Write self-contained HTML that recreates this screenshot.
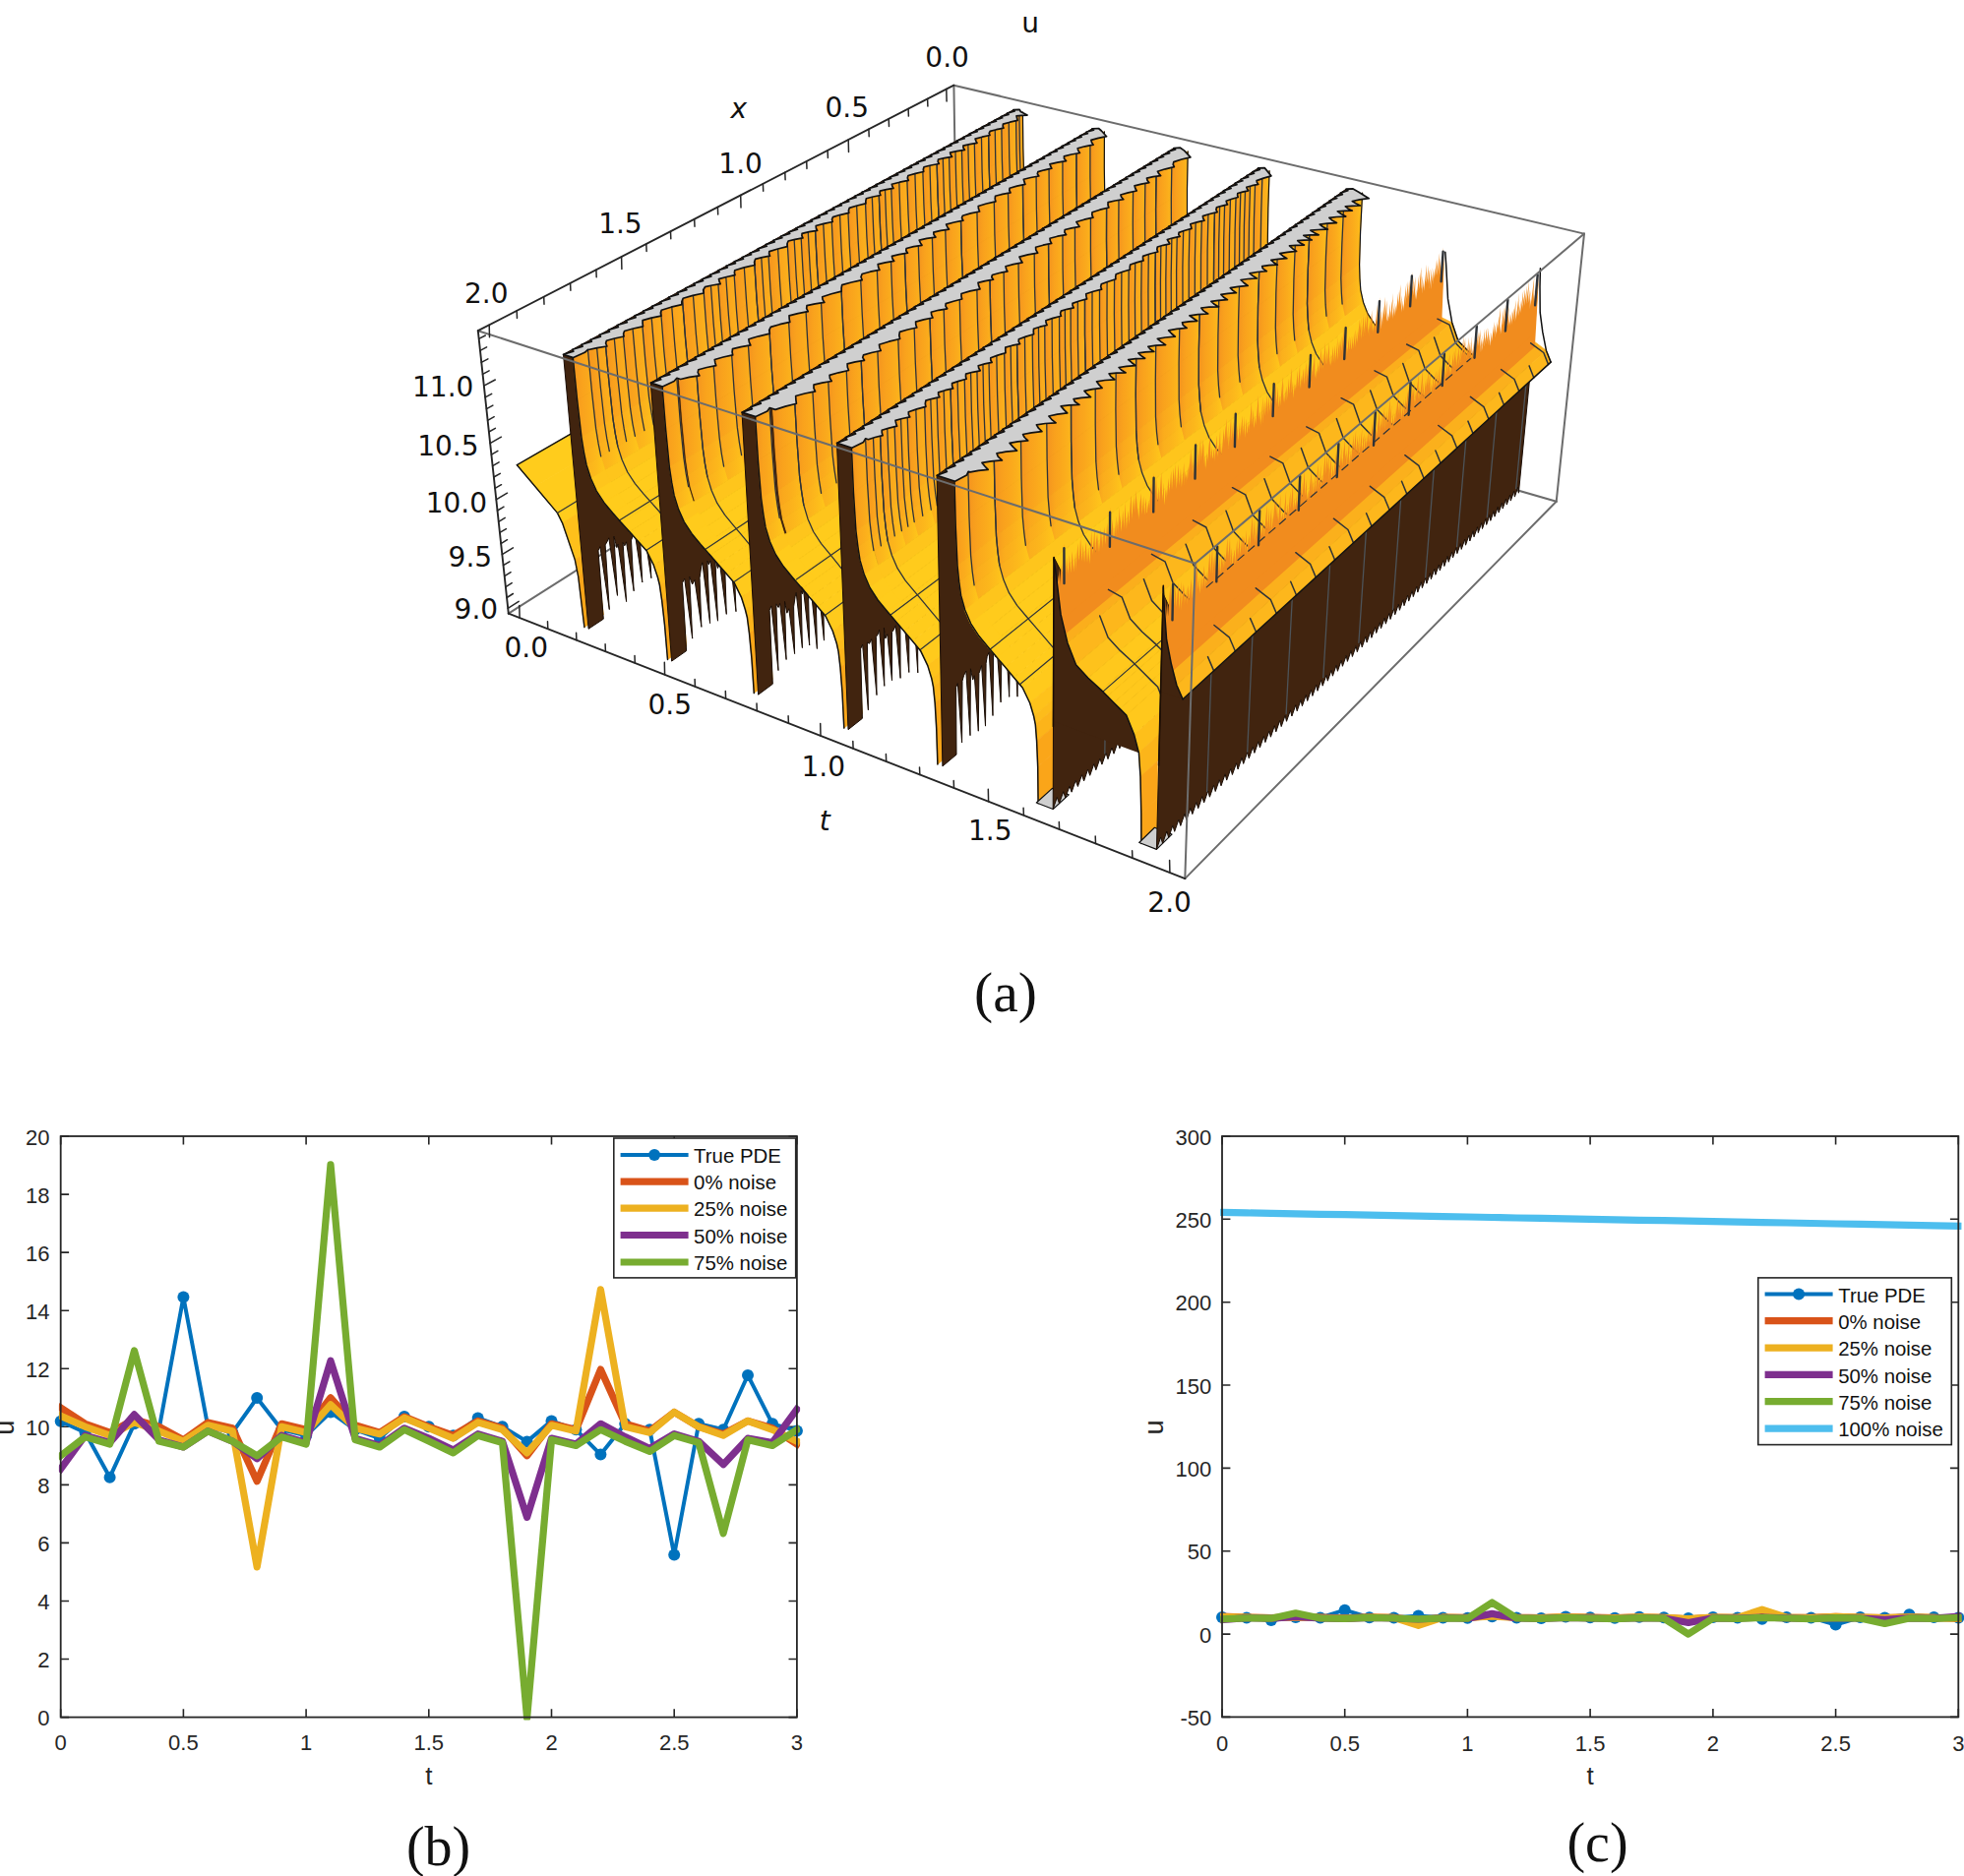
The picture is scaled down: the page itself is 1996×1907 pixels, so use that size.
<!DOCTYPE html>
<html><head><meta charset="utf-8"><title>Figure</title>
<style>html,body{margin:0;padding:0;background:#fff}svg{display:block}</style></head>
<body>
<svg width="1996" height="1907" viewBox="0 0 1996 1907">
<rect width="1996" height="1907" fill="#fff"/>
<line x1="969.4" y1="86.7" x2="973.2" y2="333.7" stroke="#6c6c6c" stroke-width="2" stroke-linecap="round"/>
<line x1="516.8" y1="623.6" x2="973.2" y2="333.7" stroke="#6c6c6c" stroke-width="2" stroke-linecap="round"/>
<line x1="1581.7" y1="509.8" x2="973.2" y2="333.7" stroke="#6c6c6c" stroke-width="2" stroke-linecap="round"/>
<line x1="969.4" y1="86.7" x2="1610.0" y2="237.6" stroke="#6c6c6c" stroke-width="2" stroke-linecap="round"/>
<g><defs><linearGradient id="gb" x1="0" y1="0" x2="1" y2="0"><stop offset="0" stop-color="#f28e20" stop-opacity="0.8"/><stop offset="0.3" stop-color="#f9a51d" stop-opacity="0.55"/><stop offset="1" stop-color="#ffc81a" stop-opacity="0.9"/></linearGradient></defs>
<polygon points="525.4,472.7 543.6,494.2 991.7,229.6 976.4,212.1" fill="#ffcc1c" stroke="#ffcc1c" stroke-width="0.8" stroke-linejoin="round"/>
<polygon points="543.6,494.2 566.4,521.4 1010.8,251.7 991.7,229.6" fill="#ffcc1c" stroke="#ffcc1c" stroke-width="0.8" stroke-linejoin="round"/>
<polygon points="566.4,521.4 571.5,531.6 1014.8,260.2 1010.8,251.7" fill="#ffcc1c" stroke="#ffcc1c" stroke-width="0.8" stroke-linejoin="round"/>
<polygon points="571.5,531.6 584.3,569.1 1023.7,292.1 1014.8,260.2" fill="#fec01b" stroke="#fec01b" stroke-width="0.8" stroke-linejoin="round"/>
<polygon points="584.3,569.1 587.7,586.2 607.3,573.6 604.0,556.7" fill="#fbaf1a" stroke="#fbaf1a" stroke-width="0.8" stroke-linejoin="round"/>
<polygon points="587.7,586.2 593.9,637.6 613.3,624.8 607.3,573.6" fill="#faa519" stroke="#faa519" stroke-width="0.8" stroke-linejoin="round"/>
<polyline points="525.4,472.7 543.6,494.2 566.4,521.4 571.5,531.6 584.3,569.1 587.7,586.2 593.9,637.6" fill="none" stroke="#111" stroke-width="1.4" stroke-linejoin="round" stroke-linecap="round"/>
<polyline points="525.4,472.7 976.4,212.1" fill="none" stroke="#111" stroke-width="1.4" stroke-linejoin="round" stroke-linecap="round"/>
<polyline points="624.5,415.4 642.1,436.0 664.1,462.1 669.0,471.9" fill="none" stroke="#2f3338" stroke-width="1.2" stroke-linejoin="round" stroke-linecap="round"/>
<polyline points="772.9,329.7 789.5,348.9 810.3,373.4 814.8,382.6" fill="none" stroke="#2f3338" stroke-width="1.2" stroke-linejoin="round" stroke-linecap="round"/>
<polyline points="904.2,253.8 920.0,271.9 939.8,294.9 943.9,303.6" fill="none" stroke="#2f3338" stroke-width="1.2" stroke-linejoin="round" stroke-linecap="round"/>
<polyline points="566.4,521.4 1010.8,251.7" fill="none" stroke="#2f3338" stroke-width="1.2" stroke-linejoin="round" stroke-linecap="round"/>
<polygon points="1029.8,111.7 572.5,360.3 598.1,639.3 613.3,629.2 608.0,559.8 609.9,555.7 619.3,619.6 615.1,553.9 616.9,550.9 618.8,546.8 627.5,605.4 623.9,545.1 626.9,556.7 628.1,553.1 636.6,611.6 633.1,551.3 634.8,554.8 636.5,550.8 644.2,600.8 641.5,549.1 643.1,545.2 645.1,541.0 652.8,592.0 650.1,539.3 652.6,543.6 654.5,539.5 661.9,587.7 659.4,537.8 661.1,531.4 662.4,527.6 670.4,585.9 667.3,526.0 668.9,526.0 670.9,521.8 679.0,582.1 675.8,520.1 677.6,514.6 679.4,510.5 687.6,574.3 684.3,508.9 686.7,515.6 688.0,511.9 695.0,560.6 692.8,510.2 694.0,506.1 696.4,501.7 703.6,555.4 701.2,500.1 704.1,504.7 706.4,500.4 713.8,560.0 711.1,498.8 713.3,495.8 715.2,491.7 722.5,550.5 719.9,490.2 722.2,492.7 723.4,489.1 730.3,543.8 728.1,487.6 729.6,489.9 731.0,486.3 737.6,539.2 735.6,484.7 736.8,480.4 739.0,476.2 745.9,536.1 743.6,474.7 746.1,476.8 747.4,473.1 754.1,531.7 752.0,471.6 753.4,471.1 754.6,467.6 761.4,528.6 759.1,466.1 760.6,469.1 762.2,465.2 768.3,515.5 766.7,463.8 768.2,458.8 770.2,454.7 776.4,510.4 774.7,453.3 776.8,453.7 778.2,450.0 784.6,509.8 782.7,448.6 784.5,454.5 786.3,450.6 792.1,503.4 790.6,449.2 792.5,450.7 793.5,447.4 798.9,491.9 797.9,446.0 798.7,439.5 799.9,436.0 805.7,491.7 804.2,434.6 805.7,438.5 807.7,434.6 813.2,487.5 812.0,433.2 814.3,439.7 815.3,436.3 820.7,487.9 819.5,435.0 820.6,435.2 821.7,431.8 827.1,484.5 826.0,430.4 827.1,429.6 828.7,425.9 833.6,469.3 833.0,424.6 834.5,419.3 836.3,415.4 841.4,467.4 840.5,414.1 842.1,408.2 843.4,404.7 848.6,461.0 847.5,403.4 849.1,410.9 851.0,407.1 855.8,456.2 855.1,405.8 856.9,403.1 858.8,399.2 863.6,450.1 862.9,398.0 865.0,402.7 866.8,398.9 871.5,449.7 870.8,397.7 872.7,400.5 873.8,397.2 878.3,443.0 877.9,395.9 878.7,384.4 880.6,380.6 885.3,436.8 884.6,379.3 887.0,393.1 888.5,389.4 892.8,436.4 892.5,388.2 893.8,377.7 895.9,373.8 900.4,431.5 899.8,372.6 902.2,381.4 903.6,377.8 907.9,430.5 907.6,376.6 908.8,366.7 909.7,363.4 914.0,420.5 913.6,362.3 914.8,370.3 915.9,367.0 920.1,424.1 919.7,365.9 920.7,361.6 921.8,358.3 925.9,412.6 925.7,357.2 927.0,364.7 928.5,361.2 932.3,408.4 932.3,360.0 933.7,358.0 935.7,354.1 939.7,410.8 939.5,353.0 941.7,358.3 942.6,355.1 946.1,395.4 946.4,354.0 947.1,343.3 948.6,339.8 952.5,401.1 952.4,338.7 953.9,341.2 955.1,337.9 958.7,388.0 958.8,336.8 960.2,346.8 961.4,343.5 964.8,384.4 965.1,342.4 966.2,332.7 967.4,329.4 971.0,389.0 971.1,328.3 972.3,327.3 974.0,323.7 977.3,377.8 977.6,322.7 979.3,324.6 980.6,321.3 983.9,380.7 984.2,320.3 985.5,325.3 986.7,322.0 989.8,367.7 990.3,321.0 991.4,314.6 992.5,311.5 995.6,364.9 996.1,310.5 997.1,318.7 999.1,315.0 1002.1,367.9 1002.7,313.9 1004.5,307.1 1005.6,303.9 1008.6,354.4 1009.2,303.0 1010.3,308.6 1011.9,305.1 1014.8,358.5 1015.5,304.1 1017.0,298.6 1018.8,295.0 1021.6,356.3 1022.3,294.0 1023.5,300.0 1030.6,295.5" fill="#41240f" stroke="#1a0d05" stroke-width="1.0" stroke-linejoin="round"/>
<polygon points="597.5,355.3 601.6,398.1 1039.8,150.8 1039.4,114.0" fill="#faa01c" stroke="#faa01c" stroke-width="0.8" stroke-linejoin="round"/>
<polygon points="601.6,398.1 605.7,435.5 1040.7,182.9 1039.8,150.8" fill="#faa01c" stroke="#faa01c" stroke-width="0.8" stroke-linejoin="round"/>
<polygon points="605.7,435.5 608.3,450.9 1041.9,196.2 1040.7,182.9" fill="#fcae1c" stroke="#fcae1c" stroke-width="0.8" stroke-linejoin="round"/>
<polygon points="608.3,450.9 610.8,463.8 1043.2,207.2 1041.9,196.2" fill="#fdb61c" stroke="#fdb61c" stroke-width="0.8" stroke-linejoin="round"/>
<polygon points="610.8,463.8 615.1,477.5 1046.2,218.9 1043.2,207.2" fill="#fdbe1c" stroke="#fdbe1c" stroke-width="0.8" stroke-linejoin="round"/>
<polygon points="600.5,486.3 606.3,499.1 1050.5,229.6 1046.2,218.9" fill="#fec51c" stroke="#fec51c" stroke-width="0.8" stroke-linejoin="round"/>
<polygon points="606.3,499.1 614.0,510.9 1056.8,239.3 1050.5,229.6" fill="#ffcb1c" stroke="#ffcb1c" stroke-width="0.8" stroke-linejoin="round"/>
<polygon points="614.0,510.9 622.6,521.3 1063.9,247.8 1056.8,239.3" fill="#ffcc1c" stroke="#ffcc1c" stroke-width="0.8" stroke-linejoin="round"/>
<polygon points="622.6,521.3 631.2,531.0 1071.1,255.5 1063.9,247.8" fill="#ffcc1c" stroke="#ffcc1c" stroke-width="0.8" stroke-linejoin="round"/>
<polygon points="631.2,531.0 639.8,540.6 1078.3,263.3 1071.1,255.5" fill="#ffcc1c" stroke="#ffcc1c" stroke-width="0.8" stroke-linejoin="round"/>
<polygon points="639.8,540.6 648.5,550.3 1085.4,271.0 1078.3,263.3" fill="#ffcc1c" stroke="#ffcc1c" stroke-width="0.8" stroke-linejoin="round"/>
<polygon points="648.5,550.3 657.2,560.0 1092.6,278.8 1085.4,271.0" fill="#ffcc1c" stroke="#ffcc1c" stroke-width="0.8" stroke-linejoin="round"/>
<polygon points="657.2,560.0 664.3,574.4 1098.1,290.8 1092.6,278.8" fill="#ffca1c" stroke="#ffca1c" stroke-width="0.8" stroke-linejoin="round"/>
<polygon points="664.3,574.4 668.4,586.8 1101.0,301.3 1098.1,290.8" fill="#fec21b" stroke="#fec21b" stroke-width="0.8" stroke-linejoin="round"/>
<polygon points="668.4,586.8 670.4,594.8 1102.2,308.1 1101.0,301.3" fill="#fdbc1b" stroke="#fdbc1b" stroke-width="0.8" stroke-linejoin="round"/>
<polygon points="670.4,594.8 672.7,610.7 692.1,597.7 689.9,581.9" fill="#fcb41a" stroke="#fcb41a" stroke-width="0.8" stroke-linejoin="round"/>
<polygon points="672.7,610.7 675.5,635.4 694.8,622.2 692.1,597.7" fill="#faa619" stroke="#faa619" stroke-width="0.8" stroke-linejoin="round"/>
<polygon points="675.5,635.4 678.5,670.5 697.6,657.1 694.8,622.2" fill="#faa519" stroke="#faa519" stroke-width="0.8" stroke-linejoin="round"/>
<polygon points="597.5,355.3 601.6,398.1 605.7,435.5 608.3,450.9 610.8,463.8 615.1,477.5 632.1,467.3 627.8,453.7 625.3,440.9 622.9,425.5 618.9,388.4 615.0,345.8" fill="url(#gb)"/>
<polygon points="615.0,345.8 618.9,388.4 622.9,425.5 625.3,440.9 627.8,453.7 632.1,467.3 649.6,456.8 645.4,443.3 642.9,430.6 640.6,415.2 636.7,378.3 632.9,336.0" fill="url(#gb)"/>
<polygon points="632.9,336.0 636.7,378.3 640.6,415.2 642.9,430.6 645.4,443.3 649.6,456.8 668.5,445.5 664.3,432.0 662.0,419.4 659.6,404.2 655.9,367.4 652.4,325.4" fill="url(#gb)"/>
<polygon points="652.4,325.4 655.9,367.4 659.6,404.2 662.0,419.4 664.3,432.0 668.5,445.5 687.1,434.4 682.9,421.0 680.6,408.4 678.4,393.3 674.8,356.8 671.5,314.9" fill="url(#gb)"/>
<polygon points="671.5,314.9 674.8,356.8 678.4,393.3 680.6,408.4 682.9,421.0 687.1,434.4 708.4,421.5 704.4,408.2 702.1,395.8 700.0,380.8 696.6,344.5 693.4,302.9" fill="url(#gb)"/>
<polygon points="693.4,302.9 696.6,344.5 700.0,380.8 702.1,395.8 704.4,408.2 708.4,421.5 729.3,409.0 725.3,395.8 723.1,383.4 721.0,368.5 717.8,332.5 714.8,291.2" fill="url(#gb)"/>
<polygon points="714.8,291.2 717.8,332.5 721.0,368.5 723.1,383.4 725.3,395.8 729.3,409.0 743.5,400.5 739.6,387.3 737.5,375.0 735.4,360.2 732.3,324.3 729.5,283.2" fill="url(#gb)"/>
<polygon points="729.5,283.2 732.3,324.3 735.4,360.2 737.5,375.0 739.6,387.3 743.5,400.5 759.4,391.0 755.5,377.9 753.4,365.6 751.4,350.9 748.5,315.2 745.8,274.4" fill="url(#gb)"/>
<polygon points="745.8,274.4 748.5,315.2 751.4,350.9 753.4,365.6 755.5,377.9 759.4,391.0 779.6,378.8 775.8,365.9 773.7,353.7 771.8,339.0 769.0,303.6 766.5,263.0" fill="url(#gb)"/>
<polygon points="766.5,263.0 769.0,303.6 771.8,339.0 773.7,353.7 775.8,365.9 779.6,378.8 793.4,370.5 789.7,357.7 787.7,345.5 785.8,330.9 783.1,295.7 780.7,255.3" fill="url(#gb)"/>
<polygon points="780.7,255.3 783.1,295.7 785.8,330.9 787.7,345.5 789.7,357.7 793.4,370.5 812.4,359.2 808.7,346.4 806.7,334.3 804.9,319.8 802.4,284.8 800.1,244.7" fill="url(#gb)"/>
<polygon points="800.1,244.7 802.4,284.8 804.9,319.8 806.7,334.3 808.7,346.4 812.4,359.2 825.9,351.1 822.2,338.3 820.3,326.4 818.5,311.9 816.1,277.1 813.9,237.1" fill="url(#gb)"/>
<polygon points="813.9,237.1 816.1,277.1 818.5,311.9 820.3,326.4 822.2,338.3 825.9,351.1 839.8,342.7 836.2,330.0 834.4,318.1 832.6,303.7 830.3,269.0 828.3,229.3" fill="url(#gb)"/>
<polygon points="828.3,229.3 830.3,269.0 832.6,303.7 834.4,318.1 836.2,330.0 839.8,342.7 856.2,332.9 852.6,320.3 850.8,308.5 849.1,294.2 846.9,259.7 845.0,220.2" fill="url(#gb)"/>
<polygon points="845.0,220.2 846.9,259.7 849.1,294.2 850.8,308.5 852.6,320.3 856.2,332.9 872.5,323.1 869.0,310.6 867.2,298.8 865.5,284.6 863.4,250.3 861.7,211.0" fill="url(#gb)"/>
<polygon points="861.7,211.0 863.4,250.3 865.5,284.6 867.2,298.8 869.0,310.6 872.5,323.1 889.6,312.8 886.2,300.4 884.4,288.7 882.9,274.6 880.9,240.5 879.3,201.4" fill="url(#gb)"/>
<polygon points="879.3,201.4 880.9,240.5 882.9,274.6 884.4,288.7 886.2,300.4 889.6,312.8 903.2,304.7 899.8,292.3 898.1,280.7 896.5,266.6 894.6,232.7 893.1,193.8" fill="url(#gb)"/>
<polygon points="893.1,193.8 894.6,232.7 896.5,266.6 898.1,280.7 899.8,292.3 903.2,304.7 915.3,297.4 911.9,285.1 910.3,273.5 908.8,259.5 907.0,225.7 905.6,187.1" fill="url(#gb)"/>
<polygon points="905.6,187.1 907.0,225.7 908.8,259.5 910.3,273.5 911.9,285.1 915.3,297.4 931.1,287.9 927.8,275.7 926.2,264.2 924.7,250.3 923.0,216.7 921.7,178.2" fill="url(#gb)"/>
<polygon points="921.7,178.2 923.0,216.7 924.7,250.3 926.2,264.2 927.8,275.7 931.1,287.9 946.8,278.5 943.5,266.4 941.9,254.9 940.5,241.1 938.9,207.7 937.7,169.5" fill="url(#gb)"/>
<polygon points="937.7,169.5 938.9,207.7 940.5,241.1 941.9,254.9 943.5,266.4 946.8,278.5 960.8,270.1 957.5,258.1 956.0,246.7 954.6,232.9 953.1,199.7 952.0,161.7" fill="url(#gb)"/>
<polygon points="952.0,161.7 953.1,199.7 954.6,232.9 956.0,246.7 957.5,258.1 960.8,270.1 972.8,262.9 969.6,250.9 968.1,239.5 966.8,225.8 965.4,192.8 964.4,154.9" fill="url(#gb)"/>
<polygon points="964.4,154.9 965.4,192.8 966.8,225.8 968.1,239.5 969.6,250.9 972.8,262.9 985.5,255.3 982.3,243.3 980.8,232.0 979.5,218.4 978.2,185.5 977.3,147.9" fill="url(#gb)"/>
<polygon points="977.3,147.9 978.2,185.5 979.5,218.4 980.8,232.0 982.3,243.3 985.5,255.3 998.1,247.7 994.9,235.8 993.5,224.6 992.2,211.1 991.0,178.3 990.2,140.8" fill="url(#gb)"/>
<polygon points="990.2,140.8 991.0,178.3 992.2,211.1 993.5,224.6 994.9,235.8 998.1,247.7 1012.1,239.3 1009.0,227.5 1007.6,216.3 1006.3,202.9 1005.2,170.3 1004.5,133.0" fill="url(#gb)"/>
<polygon points="1004.5,133.0 1005.2,170.3 1006.3,202.9 1007.6,216.3 1009.0,227.5 1012.1,239.3 1025.1,231.5 1022.0,219.8 1020.6,208.7 1019.5,195.3 1018.4,162.9 1017.8,125.8" fill="url(#gb)"/>
<polygon points="1017.8,125.8 1018.4,162.9 1019.5,195.3 1020.6,208.7 1022.0,219.8 1025.1,231.5 1039.5,222.9 1036.4,211.2 1035.1,200.2 1034.0,186.8 1033.0,154.6 1032.5,117.7" fill="url(#gb)"/>
<polygon points="1032.5,117.7 1033.0,154.6 1034.0,186.8 1035.1,200.2 1036.4,211.2 1039.5,222.9 1046.2,218.9 1043.2,207.2 1041.9,196.2 1040.7,182.9 1039.8,150.8 1039.4,114.0" fill="url(#gb)"/>
<polyline points="615.0,345.8 618.9,388.4 622.9,425.5 625.3,440.9 627.8,453.7" fill="none" stroke="#2f3338" stroke-width="1.3" stroke-linejoin="round" stroke-linecap="round"/>
<polyline points="632.9,336.0 636.7,378.3 640.6,415.2 642.9,430.6 645.4,443.3" fill="none" stroke="#2f3338" stroke-width="1.3" stroke-linejoin="round" stroke-linecap="round"/>
<polyline points="652.4,325.4 655.9,367.4 659.6,404.2 662.0,419.4 664.3,432.0" fill="none" stroke="#2f3338" stroke-width="1.3" stroke-linejoin="round" stroke-linecap="round"/>
<polyline points="671.5,314.9 674.8,356.8 678.4,393.3 680.6,408.4 682.9,421.0" fill="none" stroke="#2f3338" stroke-width="1.3" stroke-linejoin="round" stroke-linecap="round"/>
<polyline points="693.4,302.9 696.6,344.5 700.0,380.8 702.1,395.8 704.4,408.2" fill="none" stroke="#2f3338" stroke-width="1.3" stroke-linejoin="round" stroke-linecap="round"/>
<polyline points="714.8,291.2 717.8,332.5 721.0,368.5 723.1,383.4 725.3,395.8" fill="none" stroke="#2f3338" stroke-width="1.3" stroke-linejoin="round" stroke-linecap="round"/>
<polyline points="729.5,283.2 732.3,324.3 735.4,360.2 737.5,375.0 739.6,387.3" fill="none" stroke="#2f3338" stroke-width="1.3" stroke-linejoin="round" stroke-linecap="round"/>
<polyline points="745.8,274.4 748.5,315.2 751.4,350.9 753.4,365.6 755.5,377.9" fill="none" stroke="#2f3338" stroke-width="1.3" stroke-linejoin="round" stroke-linecap="round"/>
<polyline points="766.5,263.0 769.0,303.6 771.8,339.0 773.7,353.7 775.8,365.9" fill="none" stroke="#2f3338" stroke-width="1.3" stroke-linejoin="round" stroke-linecap="round"/>
<polyline points="780.7,255.3 783.1,295.7 785.8,330.9 787.7,345.5 789.7,357.7" fill="none" stroke="#2f3338" stroke-width="1.3" stroke-linejoin="round" stroke-linecap="round"/>
<polyline points="800.1,244.7 802.4,284.8 804.9,319.8 806.7,334.3 808.7,346.4" fill="none" stroke="#2f3338" stroke-width="1.3" stroke-linejoin="round" stroke-linecap="round"/>
<polyline points="813.9,237.1 816.1,277.1 818.5,311.9 820.3,326.4 822.2,338.3" fill="none" stroke="#2f3338" stroke-width="1.3" stroke-linejoin="round" stroke-linecap="round"/>
<polyline points="828.3,229.3 830.3,269.0 832.6,303.7 834.4,318.1 836.2,330.0" fill="none" stroke="#2f3338" stroke-width="1.3" stroke-linejoin="round" stroke-linecap="round"/>
<polyline points="845.0,220.2 846.9,259.7 849.1,294.2 850.8,308.5 852.6,320.3" fill="none" stroke="#2f3338" stroke-width="1.3" stroke-linejoin="round" stroke-linecap="round"/>
<polyline points="861.7,211.0 863.4,250.3 865.5,284.6 867.2,298.8 869.0,310.6" fill="none" stroke="#2f3338" stroke-width="1.3" stroke-linejoin="round" stroke-linecap="round"/>
<polyline points="879.3,201.4 880.9,240.5 882.9,274.6 884.4,288.7 886.2,300.4" fill="none" stroke="#2f3338" stroke-width="1.3" stroke-linejoin="round" stroke-linecap="round"/>
<polyline points="893.1,193.8 894.6,232.7 896.5,266.6 898.1,280.7 899.8,292.3" fill="none" stroke="#2f3338" stroke-width="1.3" stroke-linejoin="round" stroke-linecap="round"/>
<polyline points="905.6,187.1 907.0,225.7 908.8,259.5 910.3,273.5 911.9,285.1" fill="none" stroke="#2f3338" stroke-width="1.3" stroke-linejoin="round" stroke-linecap="round"/>
<polyline points="921.7,178.2 923.0,216.7 924.7,250.3 926.2,264.2 927.8,275.7" fill="none" stroke="#2f3338" stroke-width="1.3" stroke-linejoin="round" stroke-linecap="round"/>
<polyline points="937.7,169.5 938.9,207.7 940.5,241.1 941.9,254.9 943.5,266.4" fill="none" stroke="#2f3338" stroke-width="1.3" stroke-linejoin="round" stroke-linecap="round"/>
<polyline points="952.0,161.7 953.1,199.7 954.6,232.9 956.0,246.7 957.5,258.1" fill="none" stroke="#2f3338" stroke-width="1.3" stroke-linejoin="round" stroke-linecap="round"/>
<polyline points="964.4,154.9 965.4,192.8 966.8,225.8 968.1,239.5 969.6,250.9" fill="none" stroke="#2f3338" stroke-width="1.3" stroke-linejoin="round" stroke-linecap="round"/>
<polyline points="977.3,147.9 978.2,185.5 979.5,218.4 980.8,232.0 982.3,243.3" fill="none" stroke="#2f3338" stroke-width="1.3" stroke-linejoin="round" stroke-linecap="round"/>
<polyline points="990.2,140.8 991.0,178.3 992.2,211.1 993.5,224.6 994.9,235.8" fill="none" stroke="#2f3338" stroke-width="1.3" stroke-linejoin="round" stroke-linecap="round"/>
<polyline points="1004.5,133.0 1005.2,170.3 1006.3,202.9 1007.6,216.3 1009.0,227.5" fill="none" stroke="#2f3338" stroke-width="1.3" stroke-linejoin="round" stroke-linecap="round"/>
<polyline points="1017.8,125.8 1018.4,162.9 1019.5,195.3 1020.6,208.7 1022.0,219.8" fill="none" stroke="#2f3338" stroke-width="1.3" stroke-linejoin="round" stroke-linecap="round"/>
<polyline points="1032.5,117.7 1033.0,154.6 1034.0,186.8 1035.1,200.2 1036.4,211.2" fill="none" stroke="#2f3338" stroke-width="1.3" stroke-linejoin="round" stroke-linecap="round"/>
<polyline points="590.0,359.4 594.2,402.3 598.4,439.7 600.9,455.3 603.5,468.1" fill="none" stroke="#2f3338" stroke-width="1.3" stroke-linejoin="round" stroke-linecap="round"/>
<polyline points="606.3,350.5 610.3,393.2 614.4,430.5 616.8,445.9 619.3,458.7" fill="none" stroke="#2f3338" stroke-width="1.3" stroke-linejoin="round" stroke-linecap="round"/>
<polyline points="624.0,340.9 627.8,383.3 631.8,420.4 634.2,435.7 636.6,448.5" fill="none" stroke="#2f3338" stroke-width="1.3" stroke-linejoin="round" stroke-linecap="round"/>
<polyline points="642.7,330.6 646.4,372.9 650.1,409.7 652.5,425.0 654.9,437.6" fill="none" stroke="#2f3338" stroke-width="1.3" stroke-linejoin="round" stroke-linecap="round"/>
<polyline points="661.9,320.1 665.4,362.1 669.1,398.7 671.3,413.9 673.7,426.5" fill="none" stroke="#2f3338" stroke-width="1.3" stroke-linejoin="round" stroke-linecap="round"/>
<polyline points="682.5,308.9 685.8,350.6 689.2,387.0 691.4,402.1 693.7,414.6" fill="none" stroke="#2f3338" stroke-width="1.3" stroke-linejoin="round" stroke-linecap="round"/>
<polyline points="704.2,297.1 707.3,338.5 710.6,374.6 712.7,389.6 714.9,402.0" fill="none" stroke="#2f3338" stroke-width="1.3" stroke-linejoin="round" stroke-linecap="round"/>
<polyline points="722.2,287.2 725.1,328.4 728.3,364.3 730.3,379.2 732.5,391.6" fill="none" stroke="#2f3338" stroke-width="1.3" stroke-linejoin="round" stroke-linecap="round"/>
<polyline points="737.6,278.8 740.4,319.7 743.5,355.5 745.5,370.3 747.6,382.6" fill="none" stroke="#2f3338" stroke-width="1.3" stroke-linejoin="round" stroke-linecap="round"/>
<polyline points="756.1,268.7 758.8,309.4 761.7,344.9 763.6,359.7 765.7,371.9" fill="none" stroke="#2f3338" stroke-width="1.3" stroke-linejoin="round" stroke-linecap="round"/>
<polyline points="773.6,259.2 776.1,299.6 778.8,335.0 780.7,349.6 782.7,361.8" fill="none" stroke="#2f3338" stroke-width="1.3" stroke-linejoin="round" stroke-linecap="round"/>
<polyline points="790.4,250.0 792.8,290.2 795.4,325.3 797.2,339.9 799.2,352.0" fill="none" stroke="#2f3338" stroke-width="1.3" stroke-linejoin="round" stroke-linecap="round"/>
<polyline points="807.0,240.9 809.2,280.9 811.7,315.9 813.5,330.3 815.5,342.3" fill="none" stroke="#2f3338" stroke-width="1.3" stroke-linejoin="round" stroke-linecap="round"/>
<polyline points="821.1,233.2 823.2,273.0 825.6,307.8 827.3,322.2 829.2,334.2" fill="none" stroke="#2f3338" stroke-width="1.3" stroke-linejoin="round" stroke-linecap="round"/>
<polyline points="836.6,224.7 838.6,264.3 840.9,298.9 842.6,313.3 844.4,325.1" fill="none" stroke="#2f3338" stroke-width="1.3" stroke-linejoin="round" stroke-linecap="round"/>
<polyline points="853.4,215.6 855.2,255.0 857.4,289.4 859.0,303.6 860.8,315.4" fill="none" stroke="#2f3338" stroke-width="1.3" stroke-linejoin="round" stroke-linecap="round"/>
<polyline points="870.5,206.2 872.2,245.4 874.2,279.6 875.8,293.7 877.6,305.5" fill="none" stroke="#2f3338" stroke-width="1.3" stroke-linejoin="round" stroke-linecap="round"/>
<polyline points="886.2,197.6 887.8,236.6 889.7,270.6 891.3,284.7 893.0,296.3" fill="none" stroke="#2f3338" stroke-width="1.3" stroke-linejoin="round" stroke-linecap="round"/>
<polyline points="899.4,190.4 900.8,229.2 902.7,263.1 904.2,277.1 905.9,288.7" fill="none" stroke="#2f3338" stroke-width="1.3" stroke-linejoin="round" stroke-linecap="round"/>
<polyline points="913.7,182.6 915.0,221.2 916.8,254.9 918.2,268.8 919.9,280.4" fill="none" stroke="#2f3338" stroke-width="1.3" stroke-linejoin="round" stroke-linecap="round"/>
<polyline points="929.8,173.8 931.0,212.2 932.6,245.7 934.1,259.5 935.7,271.0" fill="none" stroke="#2f3338" stroke-width="1.3" stroke-linejoin="round" stroke-linecap="round"/>
<polyline points="944.9,165.6 946.0,203.7 947.6,237.0 949.0,250.8 950.5,262.2" fill="none" stroke="#2f3338" stroke-width="1.3" stroke-linejoin="round" stroke-linecap="round"/>
<polyline points="958.2,158.3 959.3,196.2 960.7,229.4 962.1,243.1 963.6,254.5" fill="none" stroke="#2f3338" stroke-width="1.3" stroke-linejoin="round" stroke-linecap="round"/>
<polyline points="970.9,151.4 971.8,189.1 973.2,222.1 974.5,235.8 976.0,247.1" fill="none" stroke="#2f3338" stroke-width="1.3" stroke-linejoin="round" stroke-linecap="round"/>
<polyline points="983.8,144.3 984.6,181.9 985.9,214.7 987.2,228.3 988.7,239.6" fill="none" stroke="#2f3338" stroke-width="1.3" stroke-linejoin="round" stroke-linecap="round"/>
<polyline points="997.4,136.9 998.1,174.3 999.3,207.0 1000.5,220.5 1002.0,231.7" fill="none" stroke="#2f3338" stroke-width="1.3" stroke-linejoin="round" stroke-linecap="round"/>
<polyline points="1011.2,129.4 1011.8,166.6 1012.9,199.0 1014.1,212.5 1015.5,223.6" fill="none" stroke="#2f3338" stroke-width="1.3" stroke-linejoin="round" stroke-linecap="round"/>
<polyline points="1025.2,121.7 1025.7,158.7 1026.7,191.0 1027.9,204.4 1029.3,215.5" fill="none" stroke="#2f3338" stroke-width="1.3" stroke-linejoin="round" stroke-linecap="round"/>
<polyline points="1035.9,115.9 1036.4,152.7 1037.3,184.9 1038.5,198.2 1039.8,209.2" fill="none" stroke="#2f3338" stroke-width="1.3" stroke-linejoin="round" stroke-linecap="round"/>
<polyline points="615.0,345.8 618.9,388.4 622.9,425.5 625.3,440.9 627.8,453.7 632.1,467.3 637.8,480.0 645.4,491.6 653.9,501.9 662.4,511.4 670.9,521.0 679.5,530.5 688.1,540.1 695.0,554.3 699.1,566.6" fill="none" stroke="#2f3338" stroke-width="1.3" stroke-linejoin="round" stroke-linecap="round"/>
<polyline points="693.4,302.9 696.6,344.5 700.0,380.8 702.1,395.8 704.4,408.2 708.4,421.5 713.8,433.9 721.2,445.2 729.4,455.1 737.7,464.3 746.0,473.5 754.3,482.7 762.6,491.9 769.3,505.7 773.1,517.7" fill="none" stroke="#2f3338" stroke-width="1.3" stroke-linejoin="round" stroke-linecap="round"/>
<polyline points="766.5,263.0 769.0,303.6 771.8,339.0 773.7,353.7 775.8,365.9 779.6,378.8 784.8,390.8 791.9,401.8 799.9,411.4 807.9,420.3 816.0,429.2 824.1,438.1 832.2,447.0 838.6,460.4 842.2,472.1" fill="none" stroke="#2f3338" stroke-width="1.3" stroke-linejoin="round" stroke-linecap="round"/>
<polyline points="828.3,229.3 830.3,269.0 832.6,303.7 834.4,318.1 836.2,330.0 839.8,342.7 844.8,354.4 851.8,365.1 859.6,374.4 867.4,383.0 875.3,391.7 883.2,400.3 891.1,409.0 897.3,422.1 900.7,433.5" fill="none" stroke="#2f3338" stroke-width="1.3" stroke-linejoin="round" stroke-linecap="round"/>
<polyline points="893.1,193.8 894.6,232.7 896.5,266.6 898.1,280.7 899.8,292.3 903.2,304.7 908.0,316.1 914.7,326.5 922.3,335.5 930.0,343.9 937.6,352.2 945.3,360.6 952.9,369.0 958.9,381.8 962.2,392.9" fill="none" stroke="#2f3338" stroke-width="1.3" stroke-linejoin="round" stroke-linecap="round"/>
<polyline points="952.0,161.7 953.1,199.7 954.6,232.9 956.0,246.7 957.5,258.1 960.8,270.1 965.4,281.3 971.9,291.4 979.3,300.2 986.8,308.3 994.2,316.4 1001.7,324.5 1009.2,332.7 1014.9,345.1 1018.0,356.1" fill="none" stroke="#2f3338" stroke-width="1.3" stroke-linejoin="round" stroke-linecap="round"/>
<polyline points="1004.5,133.0 1005.2,170.3 1006.3,202.9 1007.6,216.3 1009.0,227.5 1012.1,239.3 1016.5,250.2 1022.9,260.1 1030.2,268.7 1037.4,276.6 1044.7,284.5 1052.0,292.4 1059.3,300.3 1064.9,312.5 1067.8,323.2" fill="none" stroke="#2f3338" stroke-width="1.3" stroke-linejoin="round" stroke-linecap="round"/>
<polygon points="582.3,363.5 586.6,406.5 601.5,398.1 597.4,355.3" fill="#faa01c" stroke="#faa01c" stroke-width="0.8" stroke-linejoin="round"/>
<polygon points="586.6,406.5 590.9,444.0 605.6,435.4 601.5,398.1" fill="#faa01c" stroke="#faa01c" stroke-width="0.8" stroke-linejoin="round"/>
<polygon points="590.9,444.0 593.4,459.6 608.1,450.9 605.6,435.4" fill="#fcae1c" stroke="#fcae1c" stroke-width="0.8" stroke-linejoin="round"/>
<polygon points="593.4,459.6 596.0,472.5 610.7,463.8 608.1,450.9" fill="#fdb61c" stroke="#fdb61c" stroke-width="0.8" stroke-linejoin="round"/>
<polygon points="596.0,472.5 600.4,486.3 615.0,477.5 610.7,463.8" fill="#fdbe1c" stroke="#fdbe1c" stroke-width="0.8" stroke-linejoin="round"/>
<polygon points="600.4,486.3 606.2,499.1 620.7,490.2 615.0,477.5" fill="#fec51c" stroke="#fec51c" stroke-width="0.8" stroke-linejoin="round"/>
<polygon points="606.2,499.1 613.9,510.9 628.4,502.0 620.7,490.2" fill="#ffcb1c" stroke="#ffcb1c" stroke-width="0.8" stroke-linejoin="round"/>
<polygon points="613.9,510.9 622.5,521.3 636.9,512.3 628.4,502.0" fill="#ffcc1c" stroke="#ffcc1c" stroke-width="0.8" stroke-linejoin="round"/>
<polygon points="622.5,521.3 631.1,530.9 645.5,521.9 636.9,512.3" fill="#ffcc1c" stroke="#ffcc1c" stroke-width="0.8" stroke-linejoin="round"/>
<polygon points="582.3,363.5 586.6,406.5 590.9,444.0 593.4,459.6 596.0,472.5 600.4,486.3 615.0,477.5 610.7,463.8 608.1,450.9 605.6,435.4 601.5,398.1 597.4,355.3" fill="url(#gb)"/>
<polyline points="597.4,355.3 601.5,398.1 605.6,435.4 608.1,450.9 610.7,463.8" fill="none" stroke="#2f3338" stroke-width="1.3" stroke-linejoin="round" stroke-linecap="round"/>
<polyline points="629.4,528.9 1069.2,253.7" fill="none" stroke="#2f3338" stroke-width="1.2" stroke-linejoin="round" stroke-linecap="round"/>
<polyline points="656.6,559.4 1092.2,278.3" fill="none" stroke="#2f3338" stroke-width="1.2" stroke-linejoin="round" stroke-linecap="round"/>
<polyline points="582.3,363.5 586.6,406.5 590.9,444.0 593.4,459.6 596.0,472.5 600.4,486.3 606.2,499.1 613.9,510.9 622.5,521.3 631.1,530.9 639.8,540.6 648.5,550.3 657.2,560.0 664.3,574.4 668.4,586.8 670.4,594.8 672.7,610.7 675.5,635.4 678.5,670.5" fill="none" stroke="#111" stroke-width="1.5" stroke-linejoin="round" stroke-linecap="round"/>
<polyline points="1039.4,114.0 1039.8,150.8 1040.7,182.9 1041.9,196.2 1043.2,207.2 1046.2,218.9 1050.5,229.6 1056.8,239.3 1063.9,247.8 1071.1,255.5" fill="none" stroke="#111" stroke-width="1.2" stroke-linejoin="round" stroke-linecap="round"/>
<polygon points="572.5,360.3 582.8,357.2 581.8,355.3 592.1,352.2 591.0,350.3 601.3,347.2 600.2,345.3 610.4,342.2 609.3,340.3 619.4,337.3 618.3,335.4 628.4,332.4 627.3,330.5 637.3,327.6 636.2,325.7 646.1,322.7 645.0,320.9 654.9,318.0 653.8,316.1 663.6,313.2 662.5,311.4 672.3,308.5 671.2,306.7 680.9,303.8 679.7,302.0 689.4,299.2 688.3,297.4 697.9,294.6 696.7,292.8 706.3,290.0 705.1,288.2 714.6,285.4 713.5,283.7 722.9,280.9 721.7,279.2 731.1,276.5 730.0,274.7 739.3,272.0 738.1,270.3 747.4,267.6 746.2,265.9 755.5,263.2 754.3,261.5 763.5,258.8 762.3,257.2 771.4,254.5 770.2,252.9 779.3,250.2 778.1,248.6 787.2,245.9 785.9,244.3 794.9,241.7 793.7,240.1 802.7,237.5 801.5,235.9 810.4,233.3 809.1,231.7 818.0,229.2 816.7,227.6 825.6,225.0 824.3,223.5 833.1,220.9 831.8,219.4 840.6,216.9 839.3,215.3 848.0,212.8 846.7,211.3 855.3,208.8 854.1,207.3 862.7,204.8 861.4,203.3 870.0,200.8 868.7,199.3 877.2,196.9 875.9,195.4 884.4,193.0 883.1,191.5 891.5,189.1 890.2,187.6 898.6,185.3 897.3,183.8 905.6,181.4 904.3,180.0 912.6,177.6 911.3,176.2 919.6,173.8 918.3,172.4 926.5,170.1 925.2,168.6 933.3,166.3 932.0,164.9 940.2,162.6 938.8,161.2 946.9,158.9 945.6,157.5 953.7,155.3 952.3,153.9 960.3,151.6 959.0,150.2 967.0,148.0 965.7,146.6 973.6,144.4 972.3,143.0 980.2,140.8 978.8,139.5 986.7,137.3 985.3,135.9 993.2,133.7 991.8,132.4 999.6,130.2 998.3,128.9 1006.0,126.8 1004.6,125.4 1012.4,123.3 1011.0,122.0 1018.7,119.8 1017.3,118.5 1025.0,116.4 1023.6,115.1 1031.2,113.0 1029.8,111.7 1036.2,111.4 1037.3,113.5 1044.0,117.1 1038.0,117.3 1033.0,117.9 1033.6,120.3 1034.1,122.4 1026.3,124.2 1019.4,126.1 1019.2,128.2 1019.9,130.1 1012.6,131.7 1006.2,133.4 1005.2,135.4 1006.0,137.5 998.1,139.2 991.1,141.1 991.9,143.3 993.0,145.3 985.5,146.6 978.9,148.2 979.0,150.3 980.5,152.4 972.5,153.7 965.6,155.2 966.2,157.3 967.6,159.4 960.0,160.6 953.5,162.0 953.2,164.3 954.3,166.5 946.1,168.0 939.0,169.8 938.3,172.2 938.7,174.5 930.4,176.4 922.9,178.5 922.3,181.0 923.3,183.4 914.3,185.2 906.3,187.2 906.9,189.4 908.0,191.4 900.7,192.7 894.3,194.1 894.1,196.3 894.9,198.5 887.2,200.0 880.4,201.7 879.8,204.4 879.9,206.9 871.1,209.0 863.2,211.4 862.4,213.9 862.8,216.4 854.2,218.3 846.5,220.6 845.5,223.0 846.2,225.5 837.2,227.4 829.2,229.5 829.4,232.0 830.6,234.3 822.3,235.7 815.1,237.4 814.9,239.7 815.9,241.9 808.0,243.3 801.1,245.0 800.0,247.8 800.0,250.6 790.5,253.0 781.8,255.6 781.6,257.9 782.5,260.2 774.6,261.6 767.6,263.4 766.6,266.5 767.0,269.5 756.4,271.9 746.8,274.7 746.4,277.2 747.0,279.7 738.3,281.5 730.5,283.6 731.1,286.2 732.1,288.6 723.8,290.0 716.5,291.7 714.7,294.8 715.2,298.0 704.1,300.4 694.2,303.2 692.9,306.5 692.9,309.6 682.0,312.2 672.2,315.2 671.4,318.1 671.9,321.1 662.0,323.1 653.1,325.6 653.1,328.9 653.5,331.8 643.5,334.0 634.6,336.5 633.6,339.3 634.1,342.0 624.7,344.0 616.4,346.2 615.6,349.0 616.9,352.0 606.9,353.6 598.1,355.5 597.5,355.3 594.3,358.3 582.6,363.6" fill="#cfcfcf" stroke="#111" stroke-width="1.7" stroke-linejoin="round"/>
<polygon points="1110.0,130.8 661.3,389.1 682.6,672.1 697.6,661.6 693.5,592.6 695.7,588.1 703.7,649.1 700.7,586.2 703.6,594.0 706.0,589.4 712.9,637.4 711.0,587.5 712.8,575.5 713.8,571.8 721.6,633.6 718.8,570.0 720.3,574.0 722.0,569.9 729.5,631.2 726.9,568.0 729.4,577.7 731.6,573.3 738.3,624.4 736.5,571.5 738.0,557.6 740.3,553.1 748.0,621.7 745.2,551.3 747.7,551.5 749.1,547.7 756.5,614.1 753.9,545.9 755.6,549.6 756.6,545.9 763.7,608.1 761.4,544.2 762.9,548.8 765.0,544.5 771.6,601.3 769.7,542.8 772.1,545.9 773.7,541.9 779.7,590.0 778.4,540.2 779.7,532.2 781.7,528.0 788.0,584.4 786.3,526.3 788.3,524.1 789.6,520.4 796.0,579.3 794.3,518.7 796.0,525.0 797.7,521.0 804.2,584.0 802.3,519.4 804.5,526.1 806.6,521.8 812.3,572.6 811.1,520.2 813.4,521.8 814.5,518.2 820.0,566.2 819.0,516.6 819.8,507.3 821.5,503.3 827.2,558.6 826.0,501.7 828.2,511.7 830.5,507.3 835.8,554.9 835.0,505.7 837.0,496.2 838.8,492.2 844.4,550.1 843.2,490.6 844.9,487.2 846.7,483.3 852.3,545.8 851.0,481.7 853.0,484.8 854.7,480.9 860.2,545.2 859.0,479.4 861.1,489.1 862.7,485.3 867.7,539.3 867.0,483.8 868.5,482.4 869.5,479.0 874.5,533.6 873.8,477.5 874.5,472.4 876.2,468.5 881.0,520.8 880.5,467.0 882.0,462.1 883.6,458.3 888.7,521.3 887.8,456.8 889.6,462.6 891.6,458.5 896.3,512.9 895.8,457.1 897.6,450.9 898.9,447.3 903.6,505.9 903.0,445.9 904.5,452.8 905.7,449.3 910.0,498.4 909.8,447.9 911.1,452.3 912.0,448.9 916.3,497.4 916.2,447.5 917.0,441.1 918.0,437.7 922.4,495.4 922.0,436.3 923.1,440.2 925.0,436.2 929.1,485.9 929.1,434.8 930.9,434.5 932.3,430.9 936.6,492.4 936.3,429.6 937.8,432.4 939.4,428.7 943.3,475.5 943.4,427.3 945.1,432.0 947.3,427.9 951.2,482.3 951.2,426.6 953.3,425.6 954.4,422.2 958.1,468.6 958.3,420.9 959.3,416.2 960.9,412.4 964.6,467.4 964.8,411.1 966.4,413.6 967.3,410.4 970.8,456.2 971.2,409.1 972.1,407.0 974.0,403.1 977.6,461.8 977.9,401.8 979.8,404.2 981.9,400.2 985.3,451.1 985.7,398.9 987.7,400.4 988.9,397.0 992.2,449.8 992.7,395.7 993.8,401.0 995.2,397.5 998.4,441.4 999.0,396.2 1000.2,387.7 1001.3,384.3 1004.5,437.7 1005.1,383.1 1006.2,388.5 1007.9,384.7 1011.0,437.3 1011.7,383.5 1013.3,382.2 1015.1,378.4 1018.1,434.1 1018.8,377.2 1020.6,383.1 1022.6,379.2 1025.4,419.8 1026.3,378.0 1028.1,372.4 1029.4,369.0 1032.1,414.0 1033.0,367.8 1034.1,363.2 1035.5,359.7 1038.3,416.8 1039.2,358.6 1040.5,358.9 1042.5,355.1 1045.1,411.2 1046.1,353.9 1047.9,359.4 1048.9,356.2 1051.5,406.6 1052.5,355.0 1053.4,353.1 1054.6,349.8 1057.0,406.2 1058.1,348.7 1059.2,349.3 1060.7,345.8 1063.1,396.3 1064.2,344.7 1065.6,342.0 1067.3,338.3 1069.6,394.8 1070.8,337.2 1072.5,335.2 1073.8,331.8 1076.0,391.1 1077.3,330.7 1078.6,329.3 1080.3,325.7 1082.5,379.7 1083.8,324.6 1085.3,335.1 1086.8,331.6 1088.9,379.0 1090.2,330.6 1091.6,327.6 1093.2,324.0 1095.2,378.0 1096.7,323.0 1098.1,329.8 1099.5,326.5 1101.4,374.3 1102.9,325.4 1103.6,319.9 1108.1,317.0" fill="#41240f" stroke="#1a0d05" stroke-width="1.0" stroke-linejoin="round"/>
<polygon points="690.3,385.1 693.7,428.6 1122.3,171.1 1122.4,133.8" fill="#faa01c" stroke="#faa01c" stroke-width="0.8" stroke-linejoin="round"/>
<polygon points="693.7,428.6 697.3,466.5 1122.8,203.6 1122.3,171.1" fill="#faa01c" stroke="#faa01c" stroke-width="0.8" stroke-linejoin="round"/>
<polygon points="697.3,466.5 699.6,482.2 1123.7,217.1 1122.8,203.6" fill="#fcae1c" stroke="#fcae1c" stroke-width="0.8" stroke-linejoin="round"/>
<polygon points="699.6,482.2 702.0,495.3 1125.0,228.3 1123.7,217.1" fill="#fdb61c" stroke="#fdb61c" stroke-width="0.8" stroke-linejoin="round"/>
<polygon points="702.0,495.3 706.3,509.3 1127.9,240.1 1125.0,228.3" fill="#fdbe1c" stroke="#fdbe1c" stroke-width="0.8" stroke-linejoin="round"/>
<polygon points="691.9,518.4 697.7,531.5 1132.3,251.0 1127.9,240.1" fill="#fec51c" stroke="#fec51c" stroke-width="0.8" stroke-linejoin="round"/>
<polygon points="697.7,531.5 705.6,543.5 1138.6,260.9 1132.3,251.0" fill="#ffcb1c" stroke="#ffcb1c" stroke-width="0.8" stroke-linejoin="round"/>
<polygon points="705.6,543.5 714.4,554.2 1145.9,269.5 1138.6,260.9" fill="#ffcc1c" stroke="#ffcc1c" stroke-width="0.8" stroke-linejoin="round"/>
<polygon points="714.4,554.2 722.3,563.7 1152.6,277.2 1145.9,269.5" fill="#ffcc1c" stroke="#ffcc1c" stroke-width="0.8" stroke-linejoin="round"/>
<polygon points="722.3,563.7 730.3,573.3 1159.3,285.0 1152.6,277.2" fill="#ffcc1c" stroke="#ffcc1c" stroke-width="0.8" stroke-linejoin="round"/>
<polygon points="730.3,573.3 738.2,582.9 1166.0,292.7 1159.3,285.0" fill="#ffcc1c" stroke="#ffcc1c" stroke-width="0.8" stroke-linejoin="round"/>
<polygon points="738.2,582.9 746.2,592.4 1172.7,300.4 1166.0,292.7" fill="#ffcc1c" stroke="#ffcc1c" stroke-width="0.8" stroke-linejoin="round"/>
<polygon points="746.2,592.4 753.4,607.1 1178.2,312.6 1172.7,300.4" fill="#ffca1c" stroke="#ffca1c" stroke-width="0.8" stroke-linejoin="round"/>
<polygon points="753.4,607.1 757.4,619.7 1181.0,323.3 1178.2,312.6" fill="#fec21b" stroke="#fec21b" stroke-width="0.8" stroke-linejoin="round"/>
<polygon points="757.4,619.7 759.4,627.8 1182.1,330.2 1181.0,323.3" fill="#fdbc1b" stroke="#fdbc1b" stroke-width="0.8" stroke-linejoin="round"/>
<polygon points="759.4,627.8 761.5,643.9 780.5,630.4 778.5,614.4" fill="#fcb41a" stroke="#fcb41a" stroke-width="0.8" stroke-linejoin="round"/>
<polygon points="761.5,643.9 763.9,669.0 782.8,655.3 780.5,630.4" fill="#faa619" stroke="#faa619" stroke-width="0.8" stroke-linejoin="round"/>
<polygon points="763.9,669.0 766.3,704.6 785.1,690.7 782.8,655.3" fill="#faa519" stroke="#faa519" stroke-width="0.8" stroke-linejoin="round"/>
<polygon points="690.3,385.1 693.7,428.6 697.3,466.5 699.6,482.2 702.0,495.3 706.3,509.3 723.1,498.5 718.9,484.6 716.5,471.6 714.3,456.0 710.8,418.3 707.6,375.0" fill="url(#gb)"/>
<polygon points="707.6,375.0 710.8,418.3 714.3,456.0 716.5,471.6 718.9,484.6 723.1,498.5 739.8,487.9 735.6,474.1 733.3,461.1 731.2,445.6 727.8,408.0 724.7,365.0" fill="url(#gb)"/>
<polygon points="724.7,365.0 727.8,408.0 731.2,445.6 733.3,461.1 735.6,474.1 739.8,487.9 757.8,476.4 753.6,462.7 751.4,449.8 749.3,434.4 746.1,397.1 743.2,354.3" fill="url(#gb)"/>
<polygon points="743.2,354.3 746.1,397.1 749.3,434.4 751.4,449.8 753.6,462.7 757.8,476.4 774.1,466.0 770.0,452.3 767.9,439.6 765.8,424.2 762.8,387.0 760.0,344.5" fill="url(#gb)"/>
<polygon points="760.0,344.5 762.8,387.0 765.8,424.2 767.9,439.6 770.0,452.3 774.1,466.0 795.2,452.5 791.2,439.0 789.1,426.3 787.1,411.0 784.2,374.2 781.7,331.9" fill="url(#gb)"/>
<polygon points="781.7,331.9 784.2,374.2 787.1,411.0 789.1,426.3 791.2,439.0 795.2,452.5 814.2,440.4 810.3,426.9 808.2,414.3 806.3,399.1 803.6,362.5 801.2,320.5" fill="url(#gb)"/>
<polygon points="801.2,320.5 803.6,362.5 806.3,399.1 808.2,414.3 810.3,426.9 814.2,440.4 831.3,429.5 827.4,416.1 825.4,403.6 823.5,388.5 821.0,352.1 818.7,310.3" fill="url(#gb)"/>
<polygon points="818.7,310.3 821.0,352.1 823.5,388.5 825.4,403.6 827.4,416.1 831.3,429.5 846.4,419.8 842.6,406.6 840.6,394.1 838.8,379.1 836.3,342.9 834.2,301.3" fill="url(#gb)"/>
<polygon points="834.2,301.3 836.3,342.9 838.8,379.1 840.6,394.1 842.6,406.6 846.4,419.8 866.4,407.0 862.7,393.9 860.8,381.5 859.0,366.6 856.7,330.6 854.8,289.4" fill="url(#gb)"/>
<polygon points="854.8,289.4 856.7,330.6 859.0,366.6 860.8,381.5 862.7,393.9 866.4,407.0 885.5,394.8 881.8,381.8 880.0,369.5 878.3,354.7 876.2,318.9 874.4,278.0" fill="url(#gb)"/>
<polygon points="874.4,278.0 876.2,318.9 878.3,354.7 880.0,369.5 881.8,381.8 885.5,394.8 901.8,384.5 898.2,371.5 896.4,359.3 894.7,344.5 892.7,309.0 891.1,268.3" fill="url(#gb)"/>
<polygon points="891.1,268.3 892.7,309.0 894.7,344.5 896.4,359.3 898.2,371.5 901.8,384.5 915.7,375.6 912.1,362.6 910.4,350.5 908.8,335.8 906.8,300.5 905.3,260.0" fill="url(#gb)"/>
<polygon points="905.3,260.0 906.8,300.5 908.8,335.8 910.4,350.5 912.1,362.6 915.7,375.6 929.2,367.0 925.7,354.1 923.9,342.0 922.4,327.4 920.6,292.2 919.2,251.9" fill="url(#gb)"/>
<polygon points="919.2,251.9 920.6,292.2 922.4,327.4 923.9,342.0 925.7,354.1 929.2,367.0 942.8,358.3 939.3,345.5 937.6,333.5 936.1,319.0 934.4,284.0 933.1,243.9" fill="url(#gb)"/>
<polygon points="933.1,243.9 934.4,284.0 936.1,319.0 937.6,333.5 939.3,345.5 942.8,358.3 956.6,349.5 953.1,336.8 951.5,324.8 950.0,310.4 948.4,275.5 947.2,235.6" fill="url(#gb)"/>
<polygon points="947.2,235.6 948.4,275.5 950.0,310.4 951.5,324.8 953.1,336.8 956.6,349.5 969.7,341.1 966.2,328.5 964.6,316.6 963.2,302.2 961.7,267.5 960.6,227.8" fill="url(#gb)"/>
<polygon points="960.6,227.8 961.7,267.5 963.2,302.2 964.6,316.6 966.2,328.5 969.7,341.1 985.1,331.3 981.7,318.7 980.1,306.9 978.8,292.6 977.3,258.1 976.4,218.7" fill="url(#gb)"/>
<polygon points="976.4,218.7 977.3,258.1 978.8,292.6 980.1,306.9 981.7,318.7 985.1,331.3 1001.1,321.1 997.8,308.6 996.2,296.8 994.9,282.6 993.6,248.4 992.8,209.1" fill="url(#gb)"/>
<polygon points="992.8,209.1 993.6,248.4 994.9,282.6 996.2,296.8 997.8,308.6 1001.1,321.1 1018.1,310.2 1014.9,297.8 1013.4,286.1 1012.1,272.0 1010.9,238.0 1010.2,199.0" fill="url(#gb)"/>
<polygon points="1010.2,199.0 1010.9,238.0 1012.1,272.0 1013.4,286.1 1014.9,297.8 1018.1,310.2 1032.0,301.3 1028.8,289.0 1027.3,277.4 1026.1,263.4 1025.0,229.5 1024.4,190.7" fill="url(#gb)"/>
<polygon points="1024.4,190.7 1025.0,229.5 1026.1,263.4 1027.3,277.4 1028.8,289.0 1032.0,301.3 1046.6,292.0 1043.4,279.8 1042.0,268.2 1040.8,254.3 1039.8,220.6 1039.4,182.0" fill="url(#gb)"/>
<polygon points="1039.4,182.0 1039.8,220.6 1040.8,254.3 1042.0,268.2 1043.4,279.8 1046.6,292.0 1060.0,283.5 1056.8,271.3 1055.4,259.8 1054.3,245.9 1053.4,212.5 1053.0,174.1" fill="url(#gb)"/>
<polygon points="1053.0,174.1 1053.4,212.5 1054.3,245.9 1055.4,259.8 1056.8,271.3 1060.0,283.5 1072.6,275.4 1069.6,263.3 1068.2,251.8 1067.1,238.0 1066.3,204.7 1066.0,166.6" fill="url(#gb)"/>
<polygon points="1066.0,166.6 1066.3,204.7 1067.1,238.0 1068.2,251.8 1069.6,263.3 1072.6,275.4 1086.2,266.7 1083.2,254.7 1081.8,243.3 1080.8,229.6 1080.0,196.4 1079.9,158.5" fill="url(#gb)"/>
<polygon points="1079.9,158.5 1080.0,196.4 1080.8,229.6 1081.8,243.3 1083.2,254.7 1086.2,266.7 1100.0,258.0 1096.9,246.0 1095.6,234.7 1094.6,221.0 1094.0,188.1 1093.9,150.3" fill="url(#gb)"/>
<polygon points="1093.9,150.3 1094.0,188.1 1094.6,221.0 1095.6,234.7 1096.9,246.0 1100.0,258.0 1113.7,249.2 1110.7,237.3 1109.5,226.0 1108.5,212.5 1107.9,179.7 1107.9,142.2" fill="url(#gb)"/>
<polygon points="1107.9,142.2 1107.9,179.7 1108.5,212.5 1109.5,226.0 1110.7,237.3 1113.7,249.2 1127.9,240.1 1125.0,228.3 1123.7,217.1 1122.8,203.6 1122.3,171.1 1122.4,133.8" fill="url(#gb)"/>
<polyline points="707.6,375.0 710.8,418.3 714.3,456.0 716.5,471.6 718.9,484.6" fill="none" stroke="#2f3338" stroke-width="1.3" stroke-linejoin="round" stroke-linecap="round"/>
<polyline points="724.7,365.0 727.8,408.0 731.2,445.6 733.3,461.1 735.6,474.1" fill="none" stroke="#2f3338" stroke-width="1.3" stroke-linejoin="round" stroke-linecap="round"/>
<polyline points="743.2,354.3 746.1,397.1 749.3,434.4 751.4,449.8 753.6,462.7" fill="none" stroke="#2f3338" stroke-width="1.3" stroke-linejoin="round" stroke-linecap="round"/>
<polyline points="760.0,344.5 762.8,387.0 765.8,424.2 767.9,439.6 770.0,452.3" fill="none" stroke="#2f3338" stroke-width="1.3" stroke-linejoin="round" stroke-linecap="round"/>
<polyline points="781.7,331.9 784.2,374.2 787.1,411.0 789.1,426.3 791.2,439.0" fill="none" stroke="#2f3338" stroke-width="1.3" stroke-linejoin="round" stroke-linecap="round"/>
<polyline points="801.2,320.5 803.6,362.5 806.3,399.1 808.2,414.3 810.3,426.9" fill="none" stroke="#2f3338" stroke-width="1.3" stroke-linejoin="round" stroke-linecap="round"/>
<polyline points="818.7,310.3 821.0,352.1 823.5,388.5 825.4,403.6 827.4,416.1" fill="none" stroke="#2f3338" stroke-width="1.3" stroke-linejoin="round" stroke-linecap="round"/>
<polyline points="834.2,301.3 836.3,342.9 838.8,379.1 840.6,394.1 842.6,406.6" fill="none" stroke="#2f3338" stroke-width="1.3" stroke-linejoin="round" stroke-linecap="round"/>
<polyline points="854.8,289.4 856.7,330.6 859.0,366.6 860.8,381.5 862.7,393.9" fill="none" stroke="#2f3338" stroke-width="1.3" stroke-linejoin="round" stroke-linecap="round"/>
<polyline points="874.4,278.0 876.2,318.9 878.3,354.7 880.0,369.5 881.8,381.8" fill="none" stroke="#2f3338" stroke-width="1.3" stroke-linejoin="round" stroke-linecap="round"/>
<polyline points="891.1,268.3 892.7,309.0 894.7,344.5 896.4,359.3 898.2,371.5" fill="none" stroke="#2f3338" stroke-width="1.3" stroke-linejoin="round" stroke-linecap="round"/>
<polyline points="905.3,260.0 906.8,300.5 908.8,335.8 910.4,350.5 912.1,362.6" fill="none" stroke="#2f3338" stroke-width="1.3" stroke-linejoin="round" stroke-linecap="round"/>
<polyline points="919.2,251.9 920.6,292.2 922.4,327.4 923.9,342.0 925.7,354.1" fill="none" stroke="#2f3338" stroke-width="1.3" stroke-linejoin="round" stroke-linecap="round"/>
<polyline points="933.1,243.9 934.4,284.0 936.1,319.0 937.6,333.5 939.3,345.5" fill="none" stroke="#2f3338" stroke-width="1.3" stroke-linejoin="round" stroke-linecap="round"/>
<polyline points="947.2,235.6 948.4,275.5 950.0,310.4 951.5,324.8 953.1,336.8" fill="none" stroke="#2f3338" stroke-width="1.3" stroke-linejoin="round" stroke-linecap="round"/>
<polyline points="960.6,227.8 961.7,267.5 963.2,302.2 964.6,316.6 966.2,328.5" fill="none" stroke="#2f3338" stroke-width="1.3" stroke-linejoin="round" stroke-linecap="round"/>
<polyline points="976.4,218.7 977.3,258.1 978.8,292.6 980.1,306.9 981.7,318.7" fill="none" stroke="#2f3338" stroke-width="1.3" stroke-linejoin="round" stroke-linecap="round"/>
<polyline points="992.8,209.1 993.6,248.4 994.9,282.6 996.2,296.8 997.8,308.6" fill="none" stroke="#2f3338" stroke-width="1.3" stroke-linejoin="round" stroke-linecap="round"/>
<polyline points="1010.2,199.0 1010.9,238.0 1012.1,272.0 1013.4,286.1 1014.9,297.8" fill="none" stroke="#2f3338" stroke-width="1.3" stroke-linejoin="round" stroke-linecap="round"/>
<polyline points="1024.4,190.7 1025.0,229.5 1026.1,263.4 1027.3,277.4 1028.8,289.0" fill="none" stroke="#2f3338" stroke-width="1.3" stroke-linejoin="round" stroke-linecap="round"/>
<polyline points="1039.4,182.0 1039.8,220.6 1040.8,254.3 1042.0,268.2 1043.4,279.8" fill="none" stroke="#2f3338" stroke-width="1.3" stroke-linejoin="round" stroke-linecap="round"/>
<polyline points="1053.0,174.1 1053.4,212.5 1054.3,245.9 1055.4,259.8 1056.8,271.3" fill="none" stroke="#2f3338" stroke-width="1.3" stroke-linejoin="round" stroke-linecap="round"/>
<polyline points="1066.0,166.6 1066.3,204.7 1067.1,238.0 1068.2,251.8 1069.6,263.3" fill="none" stroke="#2f3338" stroke-width="1.3" stroke-linejoin="round" stroke-linecap="round"/>
<polyline points="1079.9,158.5 1080.0,196.4 1080.8,229.6 1081.8,243.3 1083.2,254.7" fill="none" stroke="#2f3338" stroke-width="1.3" stroke-linejoin="round" stroke-linecap="round"/>
<polyline points="1093.9,150.3 1094.0,188.1 1094.6,221.0 1095.6,234.7 1096.9,246.0" fill="none" stroke="#2f3338" stroke-width="1.3" stroke-linejoin="round" stroke-linecap="round"/>
<polyline points="1107.9,142.2 1107.9,179.7 1108.5,212.5 1109.5,226.0 1110.7,237.3" fill="none" stroke="#2f3338" stroke-width="1.3" stroke-linejoin="round" stroke-linecap="round"/>
<polyline points="707.6,375.0 710.8,418.3 714.3,456.0 716.5,471.6 718.9,484.6 723.1,498.5 728.8,511.4 736.6,523.3 745.2,533.8 753.1,543.2 761.0,552.7 768.8,562.1 776.7,571.5 783.7,586.0 787.7,598.5" fill="none" stroke="#2f3338" stroke-width="1.3" stroke-linejoin="round" stroke-linecap="round"/>
<polyline points="781.7,331.9 784.2,374.2 787.1,411.0 789.1,426.3 791.2,439.0 795.2,452.5 800.6,465.1 808.1,476.6 816.6,486.8 824.2,495.9 831.9,505.0 839.5,514.1 847.2,523.3 854.0,537.3 857.7,549.5" fill="none" stroke="#2f3338" stroke-width="1.3" stroke-linejoin="round" stroke-linecap="round"/>
<polyline points="854.8,289.4 856.7,330.6 859.0,366.6 860.8,381.5 862.7,393.9 866.4,407.0 871.6,419.2 878.9,430.4 887.1,440.2 894.5,449.1 902.0,457.9 909.4,466.7 916.9,475.5 923.4,489.2 926.9,501.1" fill="none" stroke="#2f3338" stroke-width="1.3" stroke-linejoin="round" stroke-linecap="round"/>
<polyline points="919.2,251.9 920.6,292.2 922.4,327.4 923.9,342.0 925.7,354.1 929.2,367.0 934.2,378.9 941.2,389.7 949.2,399.2 956.5,407.8 963.8,416.4 971.0,424.9 978.3,433.5 984.5,446.8 987.9,458.4" fill="none" stroke="#2f3338" stroke-width="1.3" stroke-linejoin="round" stroke-linecap="round"/>
<polyline points="976.4,218.7 977.3,258.1 978.8,292.6 980.1,306.9 981.7,318.7 985.1,331.3 989.9,342.9 996.7,353.5 1004.5,362.8 1011.6,371.1 1018.7,379.4 1025.8,387.7 1033.0,396.1 1039.0,409.1 1042.2,420.4" fill="none" stroke="#2f3338" stroke-width="1.3" stroke-linejoin="round" stroke-linecap="round"/>
<polyline points="1039.4,182.0 1039.8,220.6 1040.8,254.3 1042.0,268.2 1043.4,279.8 1046.6,292.0 1051.2,303.3 1057.9,313.6 1065.5,322.6 1072.4,330.6 1079.3,338.7 1086.2,346.8 1093.2,354.9 1099.0,367.5 1102.0,378.6" fill="none" stroke="#2f3338" stroke-width="1.3" stroke-linejoin="round" stroke-linecap="round"/>
<polyline points="1093.9,150.3 1094.0,188.1 1094.6,221.0 1095.6,234.7 1096.9,246.0 1100.0,258.0 1104.4,269.0 1110.8,279.0 1118.2,287.7 1125.0,295.6 1131.8,303.4 1138.5,311.3 1145.3,319.1 1150.9,331.5 1153.8,342.3" fill="none" stroke="#2f3338" stroke-width="1.3" stroke-linejoin="round" stroke-linecap="round"/>
<polygon points="673.0,392.9 676.6,436.5 691.2,427.8 687.8,384.3" fill="#faa01c" stroke="#faa01c" stroke-width="0.8" stroke-linejoin="round"/>
<polygon points="676.6,436.5 680.3,474.6 694.9,465.7 691.2,427.8" fill="#faa01c" stroke="#faa01c" stroke-width="0.8" stroke-linejoin="round"/>
<polygon points="680.3,474.6 682.7,490.4 697.2,481.4 694.9,465.7" fill="#fcae1c" stroke="#fcae1c" stroke-width="0.8" stroke-linejoin="round"/>
<polygon points="682.7,490.4 685.1,503.5 699.6,494.5 697.2,481.4" fill="#fdb61c" stroke="#fdb61c" stroke-width="0.8" stroke-linejoin="round"/>
<polygon points="685.1,503.5 689.5,517.6 703.9,508.4 699.6,494.5" fill="#fdbe1c" stroke="#fdbe1c" stroke-width="0.8" stroke-linejoin="round"/>
<polygon points="689.5,517.6 695.3,530.6 709.6,521.4 703.9,508.4" fill="#fec51c" stroke="#fec51c" stroke-width="0.8" stroke-linejoin="round"/>
<polygon points="695.3,530.6 703.2,542.7 717.4,533.4 709.6,521.4" fill="#ffcb1c" stroke="#ffcb1c" stroke-width="0.8" stroke-linejoin="round"/>
<polygon points="703.2,542.7 711.9,553.3 726.2,543.9 717.4,533.4" fill="#ffcc1c" stroke="#ffcc1c" stroke-width="0.8" stroke-linejoin="round"/>
<polygon points="711.9,553.3 720.5,563.1 734.7,553.6 726.2,543.9" fill="#ffcc1c" stroke="#ffcc1c" stroke-width="0.8" stroke-linejoin="round"/>
<polygon points="673.0,392.9 676.6,436.5 680.3,474.6 682.7,490.4 685.1,503.5 689.5,517.6 703.9,508.4 699.6,494.5 697.2,481.4 694.9,465.7 691.2,427.8 687.8,384.3" fill="url(#gb)"/>
<polyline points="687.8,384.3 691.2,427.8 694.9,465.7 697.2,481.4 699.6,494.5" fill="none" stroke="#2f3338" stroke-width="1.3" stroke-linejoin="round" stroke-linecap="round"/>
<polyline points="717.4,557.9 1148.7,272.6" fill="none" stroke="#2f3338" stroke-width="1.2" stroke-linejoin="round" stroke-linecap="round"/>
<polyline points="745.6,591.7 1172.2,299.9" fill="none" stroke="#2f3338" stroke-width="1.2" stroke-linejoin="round" stroke-linecap="round"/>
<polyline points="673.0,392.9 676.6,436.5 680.3,474.6 682.7,490.4 685.1,503.5 689.5,517.6 695.3,530.6 703.2,542.7 711.9,553.3 720.5,563.1 729.0,572.8 737.6,582.6 746.2,592.4 753.4,607.1 757.4,619.7 759.4,627.8 761.5,643.9 763.9,669.0 766.3,704.6" fill="none" stroke="#111" stroke-width="1.5" stroke-linejoin="round" stroke-linecap="round"/>
<polyline points="1122.4,133.8 1122.3,171.1 1122.8,203.6 1123.7,217.1 1125.0,228.3 1127.9,240.1 1132.3,251.0 1138.6,260.9 1145.9,269.5 1152.6,277.2" fill="none" stroke="#111" stroke-width="1.2" stroke-linejoin="round" stroke-linecap="round"/>
<polygon points="661.3,389.1 671.7,385.8 670.5,383.8 680.8,380.6 679.6,378.6 689.8,375.4 688.6,373.4 698.8,370.2 697.6,368.2 707.7,365.1 706.5,363.1 716.5,360.0 715.3,358.0 725.3,354.9 724.0,353.0 734.0,349.9 732.7,348.0 742.6,344.9 741.4,343.0 751.2,340.0 749.9,338.1 759.7,335.1 758.4,333.2 768.1,330.2 766.8,328.3 776.5,325.4 775.2,323.5 784.8,320.6 783.5,318.7 793.1,315.8 791.8,314.0 801.3,311.1 800.0,309.3 809.4,306.4 808.1,304.6 817.5,301.7 816.2,299.9 825.5,297.1 824.2,295.3 833.5,292.5 832.2,290.7 841.4,287.9 840.1,286.2 849.3,283.4 847.9,281.7 857.1,278.9 855.7,277.2 864.8,274.4 863.5,272.7 872.5,270.0 871.2,268.3 880.1,265.6 878.8,263.9 887.7,261.2 886.4,259.5 895.3,256.9 893.9,255.2 902.7,252.5 901.4,250.9 910.2,248.3 908.8,246.6 917.5,244.0 916.2,242.4 924.9,239.8 923.5,238.2 932.1,235.6 930.8,234.0 939.4,231.4 938.0,229.8 946.6,227.3 945.2,225.7 953.7,223.2 952.3,221.6 960.8,219.1 959.4,217.5 967.8,215.0 966.4,213.5 974.8,211.0 973.4,209.4 981.7,207.0 980.3,205.4 988.6,203.0 987.2,201.5 995.5,199.0 994.1,197.5 1002.3,195.1 1000.9,193.6 1009.0,191.2 1007.6,189.7 1015.8,187.3 1014.3,185.9 1022.4,183.5 1021.0,182.0 1029.1,179.7 1027.6,178.2 1035.6,175.9 1034.2,174.4 1042.2,172.1 1040.7,170.7 1048.7,168.4 1047.2,166.9 1055.1,164.6 1053.7,163.2 1061.6,160.9 1060.1,159.5 1067.9,157.2 1066.5,155.8 1074.3,153.6 1072.8,152.2 1080.6,150.0 1079.1,148.6 1086.8,146.3 1085.4,145.0 1093.0,142.8 1091.6,141.4 1099.2,139.2 1097.7,137.8 1105.4,135.7 1103.9,134.3 1111.5,132.1 1110.0,130.8 1116.5,130.5 1119.4,133.0 1124.6,138.7 1116.2,140.4 1108.9,142.4 1109.6,144.9 1111.1,147.2 1102.6,148.8 1095.2,150.7 1095.8,153.1 1097.4,155.5 1088.8,157.0 1081.4,158.9 1081.5,161.2 1083.5,163.6 1074.6,165.1 1066.9,166.8 1067.8,169.2 1068.8,171.2 1061.4,172.8 1054.9,174.6 1054.3,176.7 1055.8,179.0 1047.5,180.5 1040.3,182.3 1041.0,184.9 1041.9,187.3 1033.5,189.1 1026.1,191.2 1025.8,193.5 1027.0,195.8 1018.8,197.4 1011.5,199.3 1011.2,202.1 1011.9,204.8 1002.5,207.0 994.2,209.5 994.5,212.3 995.6,215.0 986.4,216.9 978.3,219.2 977.5,221.6 978.9,224.2 969.6,226.0 961.6,228.1 962.8,230.7 964.5,233.1 956.1,234.4 948.8,236.1 949.0,238.5 950.9,241.1 941.9,242.4 934.2,244.2 935.4,246.9 937.0,249.3 928.5,250.7 921.1,252.5 920.8,254.7 922.5,257.2 913.8,258.6 906.4,260.3 907.0,262.9 908.7,265.4 899.8,266.8 892.2,268.6 892.7,271.6 893.9,274.4 884.4,276.2 876.1,278.5 875.0,281.5 876.2,284.7 865.3,287.0 855.7,289.6 855.1,293.0 855.2,296.1 844.9,298.8 835.7,301.8 836.1,304.6 837.9,307.4 828.3,308.9 820.0,310.7 819.7,313.7 821.2,316.7 811.0,318.6 802.0,320.8 802.2,324.3 802.8,327.4 792.5,329.7 783.3,332.4 781.7,335.7 782.3,339.2 771.0,341.8 760.9,344.8 761.4,347.9 762.8,350.9 753.0,352.6 744.5,354.7 744.1,357.8 744.7,360.8 735.0,363.0 726.3,365.5 726.8,368.7 727.7,371.6 718.2,373.5 709.8,375.7 709.2,378.6 710.9,381.8 700.6,383.4 691.6,385.5 687.9,384.3 685.1,387.5 673.4,393.0" fill="#cfcfcf" stroke="#111" stroke-width="1.7" stroke-linejoin="round"/>
<polygon points="1192.9,150.5 754.0,419.1 770.6,706.2 785.3,695.3 782.1,620.2 783.9,615.9 791.0,681.6 788.9,613.9 791.1,617.5 792.6,613.3 799.1,670.5 797.5,611.4 799.8,623.2 801.8,618.8 807.6,664.6 806.6,616.9 808.2,606.2 809.2,602.4 815.4,658.6 814.1,600.5 815.3,603.8 816.6,599.9 822.7,656.0 821.4,598.0 823.0,603.3 824.3,599.5 830.4,659.5 829.0,597.6 830.5,600.2 831.7,596.4 837.5,651.1 836.4,594.5 837.3,585.2 839.5,580.8 845.3,638.6 844.2,578.9 846.3,577.1 848.3,572.7 854.4,640.6 853.0,570.9 855.5,584.0 857.4,579.8 862.6,629.7 862.0,577.9 863.6,570.4 865.8,566.0 871.3,626.0 870.4,564.2 872.7,565.3 874.1,561.4 879.1,611.5 878.6,559.6 879.9,554.1 882.3,549.5 887.3,604.5 886.8,547.8 889.5,555.2 891.6,550.9 896.5,605.5 896.0,549.1 897.9,542.0 899.9,537.7 904.8,595.9 904.4,536.0 906.7,545.4 908.3,541.3 912.7,586.2 912.7,539.6 914.0,525.9 915.3,522.2 920.3,592.1 919.7,520.5 921.2,531.0 923.6,526.6 927.9,577.1 927.9,524.9 930.2,523.5 931.2,520.0 935.7,579.1 935.5,518.3 936.4,515.4 938.3,511.3 942.7,571.0 942.6,509.7 944.4,504.5 946.3,500.3 950.8,570.0 950.6,498.7 952.6,503.7 954.3,499.7 958.4,557.1 958.5,498.2 960.1,495.1 961.5,491.4 965.6,557.0 965.6,489.8 967.0,496.9 969.1,492.6 973.0,552.9 973.2,491.1 975.4,497.4 977.4,493.2 981.0,538.2 981.5,491.6 983.4,478.6 985.1,474.6 988.7,532.4 989.2,473.1 991.0,485.3 992.5,481.5 995.9,534.3 996.5,480.0 997.8,472.0 998.8,468.6 1002.3,532.0 1002.8,467.1 1003.8,474.4 1004.9,470.9 1008.2,523.3 1008.9,469.4 1010.0,466.7 1011.8,462.7 1015.0,517.0 1015.8,461.3 1017.5,463.1 1018.6,459.7 1021.7,516.0 1022.5,458.2 1023.5,464.0 1025.4,460.0 1028.4,505.7 1029.3,458.5 1031.1,450.8 1032.9,446.8 1035.8,507.7 1036.7,445.4 1038.5,449.8 1039.7,446.2 1042.5,499.8 1043.5,444.8 1044.7,433.6 1045.9,430.1 1048.7,488.5 1049.8,428.7 1050.9,433.3 1053.0,429.3 1055.6,489.1 1056.7,427.9 1058.7,431.5 1060.7,427.4 1063.3,485.5 1064.5,426.0 1066.5,429.5 1068.3,425.6 1070.7,471.8 1072.0,424.2 1073.7,423.8 1075.5,420.0 1077.8,471.2 1079.2,418.6 1080.9,412.8 1082.7,408.9 1084.9,465.2 1086.3,407.6 1088.0,413.1 1089.1,409.7 1091.3,458.3 1092.8,408.4 1093.9,402.8 1095.3,399.2 1097.4,454.0 1098.9,397.9 1100.2,407.9 1101.5,404.4 1103.6,449.5 1105.1,403.1 1106.3,396.3 1107.7,392.8 1109.5,452.1 1111.2,391.6 1112.4,394.2 1113.5,390.9 1115.4,440.9 1117.0,389.6 1118.0,384.8 1119.0,381.5 1120.8,434.6 1122.6,380.3 1123.5,381.3 1125.1,377.6 1126.7,437.9 1128.6,376.4 1130.1,383.1 1131.1,379.8 1132.7,434.9 1134.5,378.6 1135.5,372.6 1136.9,369.1 1138.3,428.8 1140.3,367.9 1141.5,373.1 1143.3,369.2 1144.7,425.5 1146.7,368.1 1148.4,368.3 1150.0,364.7 1151.4,418.5 1153.4,363.5 1155.1,355.3 1156.5,351.8 1157.7,408.7 1159.9,350.6 1161.2,351.9 1162.4,348.6 1163.4,411.5 1165.7,347.5 1166.6,356.4 1167.9,353.0 1169.3,397.3 1171.2,351.8 1172.5,348.1 1173.4,345.0 1174.4,399.3 1176.7,343.8 1177.4,344.7 1178.5,341.5 1179.5,392.0 1181.7,340.4 1182.0,343.5 1188.1,339.2" fill="#41240f" stroke="#1a0d05" stroke-width="1.0" stroke-linejoin="round"/>
<polygon points="785.5,415.6 788.2,459.8 1206.5,191.8 1207.2,153.9" fill="#faa01c" stroke="#faa01c" stroke-width="0.8" stroke-linejoin="round"/>
<polygon points="788.2,459.8 791.2,498.3 1206.5,224.8 1206.5,191.8" fill="#faa01c" stroke="#faa01c" stroke-width="0.8" stroke-linejoin="round"/>
<polygon points="791.2,498.3 793.3,514.3 1207.3,238.5 1206.5,224.8" fill="#fcae1c" stroke="#fcae1c" stroke-width="0.8" stroke-linejoin="round"/>
<polygon points="793.3,514.3 795.5,527.6 1208.4,249.8 1207.3,238.5" fill="#fdb61c" stroke="#fdb61c" stroke-width="0.8" stroke-linejoin="round"/>
<polygon points="795.5,527.6 799.8,541.8 1211.3,261.8 1208.4,249.8" fill="#fdbe1c" stroke="#fdbe1c" stroke-width="0.8" stroke-linejoin="round"/>
<polygon points="785.7,551.4 791.5,564.7 1215.6,272.9 1211.3,261.8" fill="#fec51c" stroke="#fec51c" stroke-width="0.8" stroke-linejoin="round"/>
<polygon points="791.5,564.7 799.5,577.0 1222.1,283.0 1215.6,272.9" fill="#ffcb1c" stroke="#ffcb1c" stroke-width="0.8" stroke-linejoin="round"/>
<polygon points="799.5,577.0 808.5,587.9 1229.5,291.7 1222.1,283.0" fill="#ffcc1c" stroke="#ffcc1c" stroke-width="0.8" stroke-linejoin="round"/>
<polygon points="808.5,587.9 816.2,597.5 1236.0,299.5 1229.5,291.7" fill="#ffcc1c" stroke="#ffcc1c" stroke-width="0.8" stroke-linejoin="round"/>
<polygon points="816.2,597.5 823.8,607.1 1242.5,307.3 1236.0,299.5" fill="#ffcc1c" stroke="#ffcc1c" stroke-width="0.8" stroke-linejoin="round"/>
<polygon points="823.8,607.1 831.4,616.6 1249.0,315.0 1242.5,307.3" fill="#ffcc1c" stroke="#ffcc1c" stroke-width="0.8" stroke-linejoin="round"/>
<polygon points="831.4,616.6 839.0,626.2 1255.5,322.8 1249.0,315.0" fill="#ffcc1c" stroke="#ffcc1c" stroke-width="0.8" stroke-linejoin="round"/>
<polygon points="839.0,626.2 846.2,641.2 1261.0,335.2 1255.5,322.8" fill="#ffca1c" stroke="#ffca1c" stroke-width="0.8" stroke-linejoin="round"/>
<polygon points="846.2,641.2 850.3,654.0 1263.8,346.0 1261.0,335.2" fill="#fec21b" stroke="#fec21b" stroke-width="0.8" stroke-linejoin="round"/>
<polygon points="850.3,654.0 852.1,662.3 1264.9,353.1 1263.8,346.0" fill="#fdbc1b" stroke="#fdbc1b" stroke-width="0.8" stroke-linejoin="round"/>
<polygon points="852.1,662.3 854.0,678.6 872.7,664.5 870.8,648.2" fill="#fcb41a" stroke="#fcb41a" stroke-width="0.8" stroke-linejoin="round"/>
<polygon points="854.0,678.6 856.0,704.0 874.5,689.7 872.7,664.5" fill="#faa619" stroke="#faa619" stroke-width="0.8" stroke-linejoin="round"/>
<polygon points="856.0,704.0 857.8,740.1 876.3,725.6 874.5,689.7" fill="#faa519" stroke="#faa519" stroke-width="0.8" stroke-linejoin="round"/>
<polygon points="785.5,415.6 788.2,459.8 791.2,498.3 793.3,514.3 795.5,527.6 799.8,541.8 821.0,527.4 816.8,513.3 814.7,500.1 812.6,484.2 809.8,445.9 807.3,402.0" fill="url(#gb)"/>
<polygon points="807.3,402.0 809.8,445.9 812.6,484.2 814.7,500.1 816.8,513.3 821.0,527.4 838.7,515.3 834.6,501.3 832.5,488.2 830.5,472.4 827.9,434.4 825.5,390.8" fill="url(#gb)"/>
<polygon points="825.5,390.8 827.9,434.4 830.5,472.4 832.5,488.2 834.6,501.3 838.7,515.3 854.1,504.8 850.1,490.9 848.0,477.8 846.1,462.1 843.6,424.3 841.4,380.9" fill="url(#gb)"/>
<polygon points="841.4,380.9 843.6,424.3 846.1,462.1 848.0,477.8 850.1,490.9 854.1,504.8 872.1,492.6 868.1,478.8 866.1,465.8 864.3,450.2 861.9,412.6 859.9,369.5" fill="url(#gb)"/>
<polygon points="859.9,369.5 861.9,412.6 864.3,450.2 866.1,465.8 868.1,478.8 872.1,492.6 886.8,482.6 882.8,468.8 880.9,456.0 879.1,440.4 876.8,403.0 874.9,360.1" fill="url(#gb)"/>
<polygon points="874.9,360.1 876.8,403.0 879.1,440.4 880.9,456.0 882.8,468.8 886.8,482.6 903.0,471.6 899.1,457.9 897.2,445.1 895.5,429.7 893.3,392.4 891.6,349.8" fill="url(#gb)"/>
<polygon points="891.6,349.8 893.3,392.4 895.5,429.7 897.2,445.1 899.1,457.9 903.0,471.6 923.3,457.8 919.5,444.2 917.7,431.5 916.0,416.1 914.0,379.2 912.5,336.8" fill="url(#gb)"/>
<polygon points="912.5,336.8 914.0,379.2 916.0,416.1 917.7,431.5 919.5,444.2 923.3,457.8 939.3,446.9 935.6,433.4 933.8,420.7 932.1,405.5 930.3,368.8 928.9,326.6" fill="url(#gb)"/>
<polygon points="928.9,326.6 930.3,368.8 932.1,405.5 933.8,420.7 935.6,433.4 939.3,446.9 954.8,436.3 951.1,422.9 949.4,410.3 947.8,395.2 946.1,358.6 944.8,316.7" fill="url(#gb)"/>
<polygon points="944.8,316.7 946.1,358.6 947.8,395.2 949.4,410.3 951.1,422.9 954.8,436.3 968.6,426.9 965.0,413.6 963.3,401.1 961.7,386.0 960.1,349.6 959.0,308.0" fill="url(#gb)"/>
<polygon points="959.0,308.0 960.1,349.6 961.7,386.0 963.3,401.1 965.0,413.6 968.6,426.9 984.4,416.2 980.8,403.0 979.1,390.5 977.6,375.5 976.1,339.4 975.1,298.0" fill="url(#gb)"/>
<polygon points="975.1,298.0 976.1,339.4 977.6,375.5 979.1,390.5 980.8,403.0 984.4,416.2 1001.6,404.5 998.0,391.4 996.4,379.0 995.0,364.1 993.6,328.2 992.7,287.0" fill="url(#gb)"/>
<polygon points="992.7,287.0 993.6,328.2 995.0,364.1 996.4,379.0 998.0,391.4 1001.6,404.5 1014.4,395.8 1011.0,382.7 1009.4,370.4 1008.0,355.6 1006.7,319.8 1005.9,278.8" fill="url(#gb)"/>
<polygon points="1005.9,278.8 1006.7,319.8 1008.0,355.6 1009.4,370.4 1011.0,382.7 1014.4,395.8 1028.1,386.4 1024.7,373.4 1023.1,361.2 1021.8,346.5 1020.6,310.9 1020.0,270.1" fill="url(#gb)"/>
<polygon points="1020.0,270.1 1020.6,310.9 1021.8,346.5 1023.1,361.2 1024.7,373.4 1028.1,386.4 1042.7,376.5 1039.4,363.5 1037.8,351.4 1036.6,336.7 1035.5,301.4 1034.9,260.8" fill="url(#gb)"/>
<polygon points="1034.9,260.8 1035.5,301.4 1036.6,336.7 1037.8,351.4 1039.4,363.5 1042.7,376.5 1058.5,365.8 1055.2,352.9 1053.7,340.8 1052.5,326.3 1051.5,291.1 1051.1,250.8" fill="url(#gb)"/>
<polygon points="1051.1,250.8 1051.5,291.1 1052.5,326.3 1053.7,340.8 1055.2,352.9 1058.5,365.8 1072.6,356.2 1069.3,343.4 1067.9,331.4 1066.7,316.9 1065.8,281.9 1065.5,241.8" fill="url(#gb)"/>
<polygon points="1065.5,241.8 1065.8,281.9 1066.7,316.9 1067.9,331.4 1069.3,343.4 1072.6,356.2 1086.7,346.6 1083.4,333.9 1082.0,321.9 1080.9,307.5 1080.1,272.8 1079.9,232.9" fill="url(#gb)"/>
<polygon points="1079.9,232.9 1080.1,272.8 1080.9,307.5 1082.0,321.9 1083.4,333.9 1086.7,346.6 1098.9,338.3 1095.7,325.6 1094.3,313.8 1093.2,299.4 1092.5,264.8 1092.4,225.2" fill="url(#gb)"/>
<polygon points="1092.4,225.2 1092.5,264.8 1093.2,299.4 1094.3,313.8 1095.7,325.6 1098.9,338.3 1114.5,327.6 1111.4,315.1 1110.0,303.3 1109.0,289.0 1108.4,254.6 1108.4,215.3" fill="url(#gb)"/>
<polygon points="1108.4,215.3 1108.4,254.6 1109.0,289.0 1110.0,303.3 1111.4,315.1 1114.5,327.6 1130.4,316.9 1127.3,304.4 1126.0,292.7 1124.9,278.5 1124.5,244.3 1124.6,205.2" fill="url(#gb)"/>
<polygon points="1124.6,205.2 1124.5,244.3 1124.9,278.5 1126.0,292.7 1127.3,304.4 1130.4,316.9 1142.5,308.6 1139.4,296.2 1138.2,284.5 1137.2,270.5 1136.8,236.5 1137.0,197.5" fill="url(#gb)"/>
<polygon points="1137.0,197.5 1136.8,236.5 1137.2,270.5 1138.2,284.5 1139.4,296.2 1142.5,308.6 1156.8,298.9 1153.8,286.6 1152.6,275.0 1151.6,261.0 1151.3,227.2 1151.6,188.4" fill="url(#gb)"/>
<polygon points="1151.6,188.4 1151.3,227.2 1151.6,261.0 1152.6,275.0 1153.8,286.6 1156.8,298.9 1168.8,290.7 1165.8,278.5 1164.6,266.9 1163.7,253.0 1163.5,219.3 1163.9,180.8" fill="url(#gb)"/>
<polygon points="1163.9,180.8 1163.5,219.3 1163.7,253.0 1164.6,266.9 1165.8,278.5 1168.8,290.7 1179.8,283.3 1176.8,271.1 1175.6,259.6 1174.8,245.7 1174.6,212.2 1175.1,173.9" fill="url(#gb)"/>
<polygon points="1175.1,173.9 1174.6,212.2 1174.8,245.7 1175.6,259.6 1176.8,271.1 1179.8,283.3 1195.2,272.7 1192.3,260.6 1191.2,249.2 1190.4,235.4 1190.3,202.2 1190.9,164.1" fill="url(#gb)"/>
<polygon points="1190.9,164.1 1190.3,202.2 1190.4,235.4 1191.2,249.2 1192.3,260.6 1195.2,272.7 1211.3,261.8 1208.4,249.8 1207.3,238.5 1206.5,224.8 1206.5,191.8 1207.2,153.9" fill="url(#gb)"/>
<polyline points="807.3,402.0 809.8,445.9 812.6,484.2 814.7,500.1 816.8,513.3" fill="none" stroke="#2f3338" stroke-width="1.3" stroke-linejoin="round" stroke-linecap="round"/>
<polyline points="825.5,390.8 827.9,434.4 830.5,472.4 832.5,488.2 834.6,501.3" fill="none" stroke="#2f3338" stroke-width="1.3" stroke-linejoin="round" stroke-linecap="round"/>
<polyline points="841.4,380.9 843.6,424.3 846.1,462.1 848.0,477.8 850.1,490.9" fill="none" stroke="#2f3338" stroke-width="1.3" stroke-linejoin="round" stroke-linecap="round"/>
<polyline points="859.9,369.5 861.9,412.6 864.3,450.2 866.1,465.8 868.1,478.8" fill="none" stroke="#2f3338" stroke-width="1.3" stroke-linejoin="round" stroke-linecap="round"/>
<polyline points="874.9,360.1 876.8,403.0 879.1,440.4 880.9,456.0 882.8,468.8" fill="none" stroke="#2f3338" stroke-width="1.3" stroke-linejoin="round" stroke-linecap="round"/>
<polyline points="891.6,349.8 893.3,392.4 895.5,429.7 897.2,445.1 899.1,457.9" fill="none" stroke="#2f3338" stroke-width="1.3" stroke-linejoin="round" stroke-linecap="round"/>
<polyline points="912.5,336.8 914.0,379.2 916.0,416.1 917.7,431.5 919.5,444.2" fill="none" stroke="#2f3338" stroke-width="1.3" stroke-linejoin="round" stroke-linecap="round"/>
<polyline points="928.9,326.6 930.3,368.8 932.1,405.5 933.8,420.7 935.6,433.4" fill="none" stroke="#2f3338" stroke-width="1.3" stroke-linejoin="round" stroke-linecap="round"/>
<polyline points="944.8,316.7 946.1,358.6 947.8,395.2 949.4,410.3 951.1,422.9" fill="none" stroke="#2f3338" stroke-width="1.3" stroke-linejoin="round" stroke-linecap="round"/>
<polyline points="959.0,308.0 960.1,349.6 961.7,386.0 963.3,401.1 965.0,413.6" fill="none" stroke="#2f3338" stroke-width="1.3" stroke-linejoin="round" stroke-linecap="round"/>
<polyline points="975.1,298.0 976.1,339.4 977.6,375.5 979.1,390.5 980.8,403.0" fill="none" stroke="#2f3338" stroke-width="1.3" stroke-linejoin="round" stroke-linecap="round"/>
<polyline points="992.7,287.0 993.6,328.2 995.0,364.1 996.4,379.0 998.0,391.4" fill="none" stroke="#2f3338" stroke-width="1.3" stroke-linejoin="round" stroke-linecap="round"/>
<polyline points="1005.9,278.8 1006.7,319.8 1008.0,355.6 1009.4,370.4 1011.0,382.7" fill="none" stroke="#2f3338" stroke-width="1.3" stroke-linejoin="round" stroke-linecap="round"/>
<polyline points="1020.0,270.1 1020.6,310.9 1021.8,346.5 1023.1,361.2 1024.7,373.4" fill="none" stroke="#2f3338" stroke-width="1.3" stroke-linejoin="round" stroke-linecap="round"/>
<polyline points="1034.9,260.8 1035.5,301.4 1036.6,336.7 1037.8,351.4 1039.4,363.5" fill="none" stroke="#2f3338" stroke-width="1.3" stroke-linejoin="round" stroke-linecap="round"/>
<polyline points="1051.1,250.8 1051.5,291.1 1052.5,326.3 1053.7,340.8 1055.2,352.9" fill="none" stroke="#2f3338" stroke-width="1.3" stroke-linejoin="round" stroke-linecap="round"/>
<polyline points="1065.5,241.8 1065.8,281.9 1066.7,316.9 1067.9,331.4 1069.3,343.4" fill="none" stroke="#2f3338" stroke-width="1.3" stroke-linejoin="round" stroke-linecap="round"/>
<polyline points="1079.9,232.9 1080.1,272.8 1080.9,307.5 1082.0,321.9 1083.4,333.9" fill="none" stroke="#2f3338" stroke-width="1.3" stroke-linejoin="round" stroke-linecap="round"/>
<polyline points="1092.4,225.2 1092.5,264.8 1093.2,299.4 1094.3,313.8 1095.7,325.6" fill="none" stroke="#2f3338" stroke-width="1.3" stroke-linejoin="round" stroke-linecap="round"/>
<polyline points="1108.4,215.3 1108.4,254.6 1109.0,289.0 1110.0,303.3 1111.4,315.1" fill="none" stroke="#2f3338" stroke-width="1.3" stroke-linejoin="round" stroke-linecap="round"/>
<polyline points="1124.6,205.2 1124.5,244.3 1124.9,278.5 1126.0,292.7 1127.3,304.4" fill="none" stroke="#2f3338" stroke-width="1.3" stroke-linejoin="round" stroke-linecap="round"/>
<polyline points="1137.0,197.5 1136.8,236.5 1137.2,270.5 1138.2,284.5 1139.4,296.2" fill="none" stroke="#2f3338" stroke-width="1.3" stroke-linejoin="round" stroke-linecap="round"/>
<polyline points="1151.6,188.4 1151.3,227.2 1151.6,261.0 1152.6,275.0 1153.8,286.6" fill="none" stroke="#2f3338" stroke-width="1.3" stroke-linejoin="round" stroke-linecap="round"/>
<polyline points="1163.9,180.8 1163.5,219.3 1163.7,253.0 1164.6,266.9 1165.8,278.5" fill="none" stroke="#2f3338" stroke-width="1.3" stroke-linejoin="round" stroke-linecap="round"/>
<polyline points="1175.1,173.9 1174.6,212.2 1174.8,245.7 1175.6,259.6 1176.8,271.1" fill="none" stroke="#2f3338" stroke-width="1.3" stroke-linejoin="round" stroke-linecap="round"/>
<polyline points="1190.9,164.1 1190.3,202.2 1190.4,235.4 1191.2,249.2 1192.3,260.6" fill="none" stroke="#2f3338" stroke-width="1.3" stroke-linejoin="round" stroke-linecap="round"/>
<polyline points="807.3,402.0 809.8,445.9 812.6,484.2 814.7,500.1 816.8,513.3 821.0,527.4 826.7,540.5 834.6,552.6 843.5,563.3 851.0,572.7 858.5,582.2 866.0,591.6 873.6,601.1 880.6,615.8 884.5,628.5" fill="none" stroke="#2f3338" stroke-width="1.3" stroke-linejoin="round" stroke-linecap="round"/>
<polyline points="874.9,360.1 876.8,403.0 879.1,440.4 880.9,456.0 882.8,468.8 886.8,482.6 892.2,495.4 899.9,507.2 908.5,517.5 915.9,526.7 923.2,535.9 930.6,545.0 937.9,554.2 944.7,568.5 948.4,580.9" fill="none" stroke="#2f3338" stroke-width="1.3" stroke-linejoin="round" stroke-linecap="round"/>
<polyline points="944.8,316.7 946.1,358.6 947.8,395.2 949.4,410.3 951.1,422.9 954.8,436.3 960.1,448.7 967.4,460.1 975.9,470.2 983.0,479.0 990.2,487.9 997.3,496.8 1004.5,505.7 1011.0,519.6 1014.5,531.7" fill="none" stroke="#2f3338" stroke-width="1.3" stroke-linejoin="round" stroke-linecap="round"/>
<polyline points="1005.9,278.8 1006.7,319.8 1008.0,355.6 1009.4,370.4 1011.0,382.7 1014.4,395.8 1019.5,407.9 1026.6,419.0 1034.8,428.7 1041.8,437.3 1048.8,445.9 1055.8,454.5 1062.8,463.2 1069.1,476.7 1072.5,488.5" fill="none" stroke="#2f3338" stroke-width="1.3" stroke-linejoin="round" stroke-linecap="round"/>
<polyline points="1065.5,241.8 1065.8,281.9 1066.7,316.9 1067.9,331.4 1069.3,343.4 1072.6,356.2 1077.5,368.0 1084.4,378.8 1092.4,388.2 1099.2,396.6 1106.1,404.9 1112.9,413.3 1119.8,421.7 1125.9,434.9 1129.0,446.4" fill="none" stroke="#2f3338" stroke-width="1.3" stroke-linejoin="round" stroke-linecap="round"/>
<polyline points="1124.6,205.2 1124.5,244.3 1124.9,278.5 1126.0,292.7 1127.3,304.4 1130.4,316.9 1135.0,328.4 1141.7,338.9 1149.5,348.0 1156.2,356.1 1162.9,364.3 1169.6,372.4 1176.3,380.5 1182.1,393.4 1185.1,404.6" fill="none" stroke="#2f3338" stroke-width="1.3" stroke-linejoin="round" stroke-linecap="round"/>
<polyline points="1175.1,173.9 1174.6,212.2 1174.8,245.7 1175.6,259.6 1176.8,271.1 1179.8,283.3 1184.2,294.5 1190.8,304.7 1198.4,313.6 1204.9,321.5 1211.5,329.4 1218.1,337.4 1224.6,345.3 1230.3,357.9 1233.1,368.9" fill="none" stroke="#2f3338" stroke-width="1.3" stroke-linejoin="round" stroke-linecap="round"/>
<polygon points="767.6,423.5 770.4,467.9 784.8,458.7 782.1,414.5" fill="#faa01c" stroke="#faa01c" stroke-width="0.8" stroke-linejoin="round"/>
<polygon points="770.4,467.9 773.6,506.5 787.9,497.2 784.8,458.7" fill="#faa01c" stroke="#faa01c" stroke-width="0.8" stroke-linejoin="round"/>
<polygon points="773.6,506.5 775.8,522.6 790.0,513.2 787.9,497.2" fill="#fcae1c" stroke="#fcae1c" stroke-width="0.8" stroke-linejoin="round"/>
<polygon points="775.8,522.6 778.0,535.9 792.2,526.5 790.0,513.2" fill="#fdb61c" stroke="#fdb61c" stroke-width="0.8" stroke-linejoin="round"/>
<polygon points="778.0,535.9 782.3,550.2 796.4,540.7 792.2,526.5" fill="#fdbe1c" stroke="#fdbe1c" stroke-width="0.8" stroke-linejoin="round"/>
<polygon points="782.3,550.2 788.2,563.5 802.2,553.9 796.4,540.7" fill="#fec51c" stroke="#fec51c" stroke-width="0.8" stroke-linejoin="round"/>
<polygon points="788.2,563.5 796.2,575.8 810.2,566.1 802.2,553.9" fill="#ffcb1c" stroke="#ffcb1c" stroke-width="0.8" stroke-linejoin="round"/>
<polygon points="796.2,575.8 805.2,586.7 819.1,576.9 810.2,566.1" fill="#ffcc1c" stroke="#ffcc1c" stroke-width="0.8" stroke-linejoin="round"/>
<polygon points="805.2,586.7 813.6,596.6 827.5,586.7 819.1,576.9" fill="#ffcc1c" stroke="#ffcc1c" stroke-width="0.8" stroke-linejoin="round"/>
<polygon points="767.6,423.5 770.4,467.9 773.6,506.5 775.8,522.6 778.0,535.9 782.3,550.2 796.4,540.7 792.2,526.5 790.0,513.2 787.9,497.2 784.8,458.7 782.1,414.5" fill="url(#gb)"/>
<polyline points="782.1,414.5 784.8,458.7 787.9,497.2 790.0,513.2 792.2,526.5" fill="none" stroke="#2f3338" stroke-width="1.3" stroke-linejoin="round" stroke-linecap="round"/>
<polyline points="809.4,589.0 1231.1,292.8" fill="none" stroke="#2f3338" stroke-width="1.2" stroke-linejoin="round" stroke-linecap="round"/>
<polyline points="838.4,625.5 1255.0,322.2" fill="none" stroke="#2f3338" stroke-width="1.2" stroke-linejoin="round" stroke-linecap="round"/>
<polyline points="767.6,423.5 770.4,467.9 773.6,506.5 775.8,522.6 778.0,535.9 782.3,550.2 788.2,563.5 796.2,575.8 805.2,586.7 813.6,596.6 822.1,606.4 830.5,616.3 839.0,626.2 846.2,641.2 850.3,654.0 852.1,662.3 854.0,678.6 856.0,704.0 857.8,740.1" fill="none" stroke="#111" stroke-width="1.5" stroke-linejoin="round" stroke-linecap="round"/>
<polyline points="1207.2,153.9 1206.5,191.8 1206.5,224.8 1207.3,238.5 1208.4,249.8 1211.3,261.8 1215.6,272.9 1222.1,283.0 1229.5,291.7 1236.0,299.5" fill="none" stroke="#111" stroke-width="1.2" stroke-linejoin="round" stroke-linecap="round"/>
<polygon points="754.0,419.1 764.4,415.7 763.0,413.6 773.3,410.2 772.0,408.1 782.2,404.8 780.8,402.7 791.0,399.4 789.6,397.3 799.7,394.0 798.3,392.0 808.4,388.7 807.0,386.7 817.0,383.4 815.6,381.4 825.5,378.2 824.1,376.2 834.0,373.0 832.6,371.0 842.4,367.9 841.0,365.9 850.7,362.8 849.3,360.8 859.0,357.7 857.6,355.7 867.2,352.6 865.8,350.7 875.4,347.6 873.9,345.7 883.5,342.7 882.0,340.8 891.5,337.7 890.1,335.9 899.5,332.9 898.0,331.0 907.4,328.0 905.9,326.1 915.3,323.2 913.8,321.3 923.1,318.4 921.6,316.6 930.8,313.6 929.3,311.8 938.5,308.9 937.0,307.1 946.1,304.2 944.6,302.5 953.7,299.6 952.2,297.8 961.2,295.0 959.7,293.2 968.7,290.4 967.2,288.7 976.1,285.9 974.6,284.1 983.5,281.3 982.0,279.6 990.8,276.9 989.3,275.1 998.1,272.4 996.6,270.7 1005.3,268.0 1003.8,266.3 1012.5,263.6 1010.9,261.9 1019.6,259.2 1018.0,257.6 1026.6,254.9 1025.1,253.2 1033.6,250.6 1032.1,248.9 1040.6,246.3 1039.1,244.7 1047.5,242.1 1046.0,240.5 1054.4,237.9 1052.9,236.3 1061.2,233.7 1059.7,232.1 1068.0,229.5 1066.5,227.9 1074.7,225.4 1073.2,223.8 1081.4,221.3 1079.9,219.7 1088.1,217.2 1086.5,215.7 1094.7,213.2 1093.1,211.6 1101.2,209.2 1099.7,207.6 1107.7,205.2 1106.2,203.6 1114.2,201.2 1112.6,199.7 1120.6,197.3 1119.1,195.7 1127.0,193.3 1125.4,191.8 1133.4,189.5 1131.8,188.0 1139.7,185.6 1138.1,184.1 1145.9,181.8 1144.3,180.3 1152.1,177.9 1150.5,176.5 1158.3,174.2 1156.7,172.7 1164.5,170.4 1162.9,169.0 1170.5,166.6 1168.9,165.2 1176.6,162.9 1175.0,161.5 1182.6,159.2 1181.0,157.8 1188.6,155.6 1187.0,154.2 1194.6,151.9 1192.9,150.5 1199.5,150.2 1203.6,153.1 1209.9,159.8 1200.8,162.0 1192.8,164.6 1192.2,167.1 1193.3,169.7 1184.3,171.8 1176.4,174.2 1177.6,176.4 1179.6,178.6 1172.0,179.7 1165.5,181.2 1166.1,183.5 1167.9,185.7 1159.9,187.1 1153.0,188.8 1153.8,191.5 1155.2,194.0 1146.5,195.9 1138.9,198.0 1139.6,200.3 1141.8,202.7 1133.3,204.0 1126.1,205.6 1126.0,208.4 1126.9,211.0 1117.9,213.2 1110.0,215.7 1109.8,218.4 1110.9,221.1 1101.9,223.2 1093.9,225.5 1095.4,228.1 1097.1,230.4 1089.1,231.8 1082.2,233.5 1081.9,236.0 1083.6,238.6 1074.7,240.2 1067.0,242.2 1067.3,244.9 1068.7,247.4 1060.1,249.2 1052.6,251.2 1052.8,254.1 1054.7,257.1 1044.7,258.9 1036.0,261.1 1037.4,264.2 1039.1,266.9 1029.9,268.6 1022.0,270.7 1022.6,273.3 1023.9,275.8 1015.6,277.5 1008.4,279.5 1007.8,281.7 1009.5,284.2 1001.2,285.6 994.0,287.4 994.7,290.7 996.0,293.8 985.9,295.9 977.0,298.5 977.0,301.4 977.7,304.0 969.0,306.2 961.2,308.6 961.0,311.1 962.7,313.8 953.9,315.3 946.3,317.2 946.7,320.1 948.0,323.0 938.7,324.9 930.6,327.1 930.8,330.2 931.8,333.0 922.6,335.0 914.4,337.4 913.8,341.0 914.6,344.5 903.4,347.2 893.5,350.3 894.0,353.5 895.2,356.5 885.8,358.5 877.5,360.9 876.7,363.4 878.5,366.3 869.2,367.9 861.1,369.8 861.3,373.3 862.5,376.5 852.2,378.8 843.1,381.4 843.4,384.5 845.2,387.5 835.5,389.2 827.0,391.2 827.0,394.6 828.5,397.9 817.9,400.0 808.7,402.5 808.9,406.6 809.4,410.2 798.1,413.1 788.0,416.4 782.2,414.6 779.8,417.9 768.0,423.6" fill="#cfcfcf" stroke="#111" stroke-width="1.7" stroke-linejoin="round"/>
<polygon points="1278.6,170.9 850.5,450.3 862.0,741.7 876.4,730.3 874.6,659.7 876.6,655.2 882.4,721.8 881.4,653.0 883.5,654.3 885.7,649.7 891.0,706.6 890.4,647.6 892.5,644.0 893.6,640.2 898.8,697.4 898.4,638.1 899.8,649.1 901.8,644.6 906.5,691.7 906.5,642.6 908.3,640.2 910.2,635.8 915.1,689.4 914.9,633.7 916.8,636.7 919.2,632.0 923.8,683.5 923.8,630.0 925.7,615.5 927.7,611.1 932.8,683.9 932.3,609.1 934.4,612.5 936.1,608.2 940.8,668.7 940.7,606.2 942.5,607.7 944.8,603.0 949.2,662.5 949.3,601.1 951.7,609.2 953.6,604.9 957.7,652.7 958.1,603.0 960.0,605.4 961.8,601.2 965.7,646.9 966.2,599.3 967.7,588.6 969.7,584.2 973.9,651.3 974.1,582.3 976.2,587.7 978.2,583.3 982.0,634.3 982.5,581.4 984.5,581.4 985.7,577.6 989.6,638.3 990.0,575.8 991.2,576.5 992.3,572.9 995.9,625.0 996.5,571.1 997.5,572.2 999.1,568.1 1002.6,616.4 1003.4,566.3 1004.8,555.2 1006.8,550.9 1010.4,619.1 1011.0,549.1 1013.0,549.1 1014.2,545.4 1017.7,616.4 1018.4,543.6 1019.6,544.5 1021.7,540.1 1025.0,601.9 1025.9,538.4 1027.9,548.0 1029.7,543.8 1032.8,601.6 1033.8,542.1 1035.5,542.1 1036.5,538.5 1039.6,593.4 1040.6,536.8 1041.6,527.6 1042.9,523.8 1045.9,581.8 1047.0,522.1 1048.2,528.7 1049.6,524.9 1052.5,578.2 1053.6,523.2 1054.9,527.8 1056.7,523.7 1059.4,573.3 1060.7,522.0 1062.3,517.8 1064.0,513.7 1066.6,568.8 1068.0,512.1 1069.5,511.2 1070.9,507.4 1073.4,570.1 1074.8,505.8 1076.0,513.3 1077.8,509.2 1080.3,557.6 1081.8,507.6 1083.5,496.2 1084.9,492.4 1087.2,560.4 1088.8,490.8 1090.1,492.9 1092.0,488.8 1094.2,545.7 1095.8,487.2 1097.5,492.3 1099.2,488.3 1101.3,547.8 1103.0,486.8 1104.5,483.6 1106.5,479.3 1108.6,539.2 1110.3,477.8 1112.2,475.2 1113.8,471.3 1115.7,532.9 1117.6,469.8 1118.9,483.2 1119.9,479.7 1122.0,525.4 1123.7,478.2 1124.7,471.6 1126.3,467.7 1128.1,524.9 1130.0,466.3 1131.5,462.5 1132.5,459.1 1134.1,520.9 1136.2,457.7 1136.9,464.2 1138.4,460.4 1140.0,519.4 1142.1,459.0 1143.6,450.9 1145.7,446.7 1147.0,515.5 1149.3,445.3 1151.1,454.3 1152.1,451.0 1153.7,497.8 1155.7,449.5 1156.7,441.6 1158.2,437.9 1159.4,501.5 1161.8,436.5 1163.1,438.3 1164.6,434.5 1165.9,492.4 1168.2,433.2 1169.4,439.4 1170.7,435.8 1172.0,488.0 1174.2,434.4 1175.3,439.0 1176.6,435.3 1177.8,488.5 1180.1,434.0 1181.4,434.1 1183.1,430.2 1184.2,484.0 1186.6,428.9 1188.5,416.7 1189.8,413.1 1190.7,468.7 1193.3,411.8 1194.0,424.4 1195.5,420.8 1196.4,471.1 1198.9,419.4 1200.3,414.1 1202.2,410.1 1203.2,460.1 1205.6,408.8 1207.5,405.1 1209.4,401.1 1210.1,454.9 1212.8,399.8 1214.1,409.9 1215.6,406.2 1216.5,451.2 1219.0,405.0 1220.5,397.6 1222.5,393.5 1222.9,452.8 1225.8,392.3 1227.8,388.1 1229.7,384.2 1230.1,438.8 1233.0,382.9 1234.7,382.7 1236.3,378.9 1236.4,442.4 1239.6,377.7 1241.0,377.1 1242.6,373.4 1242.8,428.0 1245.8,372.2 1246.9,378.8 1248.7,374.9 1248.9,427.7 1251.9,373.7 1253.2,379.4 1254.5,376.0 1255.0,419.6 1257.7,374.8 1258.9,373.1 1260.4,369.5 1260.5,422.2 1263.6,368.3 1264.4,366.8 1270.6,362.1" fill="#41240f" stroke="#1a0d05" stroke-width="1.0" stroke-linejoin="round"/>
<polygon points="880.3,446.0 882.2,490.9 1288.8,212.0 1290.1,173.7" fill="#faa01c" stroke="#faa01c" stroke-width="0.8" stroke-linejoin="round"/>
<polygon points="882.2,490.9 884.6,530.0 1288.3,245.5 1288.8,212.0" fill="#faa01c" stroke="#faa01c" stroke-width="0.8" stroke-linejoin="round"/>
<polygon points="884.6,530.0 886.5,546.2 1288.9,259.3 1288.3,245.5" fill="#fcae1c" stroke="#fcae1c" stroke-width="0.8" stroke-linejoin="round"/>
<polygon points="886.5,546.2 888.6,559.7 1289.9,270.8 1288.9,259.3" fill="#fdb61c" stroke="#fdb61c" stroke-width="0.8" stroke-linejoin="round"/>
<polygon points="888.6,559.7 892.7,574.2 1292.7,283.0 1289.9,270.8" fill="#fdbe1c" stroke="#fdbe1c" stroke-width="0.8" stroke-linejoin="round"/>
<polygon points="879.0,584.2 884.9,597.8 1297.1,294.3 1292.7,283.0" fill="#fec51c" stroke="#fec51c" stroke-width="0.8" stroke-linejoin="round"/>
<polygon points="884.9,597.8 893.0,610.3 1303.6,304.5 1297.1,294.3" fill="#ffcb1c" stroke="#ffcb1c" stroke-width="0.8" stroke-linejoin="round"/>
<polygon points="893.0,610.3 902.3,621.4 1311.2,313.4 1303.6,304.5" fill="#ffcc1c" stroke="#ffcc1c" stroke-width="0.8" stroke-linejoin="round"/>
<polygon points="902.3,621.4 910.6,631.4 1318.6,321.5 1311.2,313.4" fill="#ffcc1c" stroke="#ffcc1c" stroke-width="0.8" stroke-linejoin="round"/>
<polygon points="910.6,631.4 918.9,641.4 1326.0,329.6 1318.6,321.5" fill="#ffcc1c" stroke="#ffcc1c" stroke-width="0.8" stroke-linejoin="round"/>
<polygon points="918.9,641.4 927.2,651.4 1333.5,337.8 1326.0,329.6" fill="#ffcc1c" stroke="#ffcc1c" stroke-width="0.8" stroke-linejoin="round"/>
<polygon points="927.2,651.4 935.5,661.4 1340.9,345.9 1333.5,337.8" fill="#ffcc1c" stroke="#ffcc1c" stroke-width="0.8" stroke-linejoin="round"/>
<polygon points="935.5,661.4 942.8,676.6 1346.5,358.5 1340.9,345.9" fill="#ffca1c" stroke="#ffca1c" stroke-width="0.8" stroke-linejoin="round"/>
<polygon points="942.8,676.6 946.8,689.7 1349.2,369.5 1346.5,358.5" fill="#fec21b" stroke="#fec21b" stroke-width="0.8" stroke-linejoin="round"/>
<polygon points="946.8,689.7 948.5,698.1 1350.2,376.6 1349.2,369.5" fill="#fdbc1b" stroke="#fdbc1b" stroke-width="0.8" stroke-linejoin="round"/>
<polygon points="948.5,698.1 950.2,714.6 968.4,699.9 966.8,683.4" fill="#fcb41a" stroke="#fcb41a" stroke-width="0.8" stroke-linejoin="round"/>
<polygon points="950.2,714.6 951.7,740.4 969.9,725.5 968.4,699.9" fill="#faa619" stroke="#faa619" stroke-width="0.8" stroke-linejoin="round"/>
<polygon points="951.7,740.4 952.9,777.0 970.9,761.9 969.9,725.5" fill="#faa519" stroke="#faa519" stroke-width="0.8" stroke-linejoin="round"/>
<polygon points="880.3,446.0 882.2,490.9 884.6,530.0 886.5,546.2 888.6,559.7 892.7,574.2 906.3,564.3 902.2,549.9 900.2,536.5 898.4,520.3 896.1,481.4 894.3,436.7" fill="url(#gb)"/>
<polygon points="894.3,436.7 896.1,481.4 898.4,520.3 900.2,536.5 902.2,549.9 906.3,564.3 920.5,554.0 916.4,539.7 914.4,526.3 912.6,510.3 910.5,471.5 908.8,427.0" fill="url(#gb)"/>
<polygon points="908.8,427.0 910.5,471.5 912.6,510.3 914.4,526.3 916.4,539.7 920.5,554.0 933.2,544.7 929.2,530.5 927.3,517.2 925.6,501.2 923.5,462.6 922.0,418.3" fill="url(#gb)"/>
<polygon points="922.0,418.3 923.5,462.6 925.6,501.2 927.3,517.2 929.2,530.5 933.2,544.7 950.3,532.3 946.3,518.2 944.4,505.0 942.7,489.0 940.8,450.7 939.5,406.7" fill="url(#gb)"/>
<polygon points="939.5,406.7 940.8,450.7 942.7,489.0 944.4,505.0 946.3,518.2 950.3,532.3 962.4,523.4 958.5,509.4 956.7,496.2 955.0,480.4 953.3,442.2 952.0,398.4" fill="url(#gb)"/>
<polygon points="952.0,398.4 953.3,442.2 955.0,480.4 956.7,496.2 958.5,509.4 962.4,523.4 976.0,513.6 972.1,499.6 970.3,486.5 968.7,470.7 967.0,432.7 965.9,389.1" fill="url(#gb)"/>
<polygon points="965.9,389.1 967.0,432.7 968.7,470.7 970.3,486.5 972.1,499.6 976.0,513.6 989.8,503.5 986.0,489.6 984.2,476.6 982.7,460.9 981.1,423.1 980.1,379.7" fill="url(#gb)"/>
<polygon points="980.1,379.7 981.1,423.1 982.7,460.9 984.2,476.6 986.0,489.6 989.8,503.5 1002.2,494.5 998.4,480.7 996.7,467.7 995.2,452.1 993.7,414.4 992.8,371.2" fill="url(#gb)"/>
<polygon points="992.8,371.2 993.7,414.4 995.2,452.1 996.7,467.7 998.4,480.7 1002.2,494.5 1014.0,485.9 1010.3,472.1 1008.6,459.2 1007.1,443.6 1005.8,406.2 1004.9,363.2" fill="url(#gb)"/>
<polygon points="1004.9,363.2 1005.8,406.2 1007.1,443.6 1008.6,459.2 1010.3,472.1 1014.0,485.9 1029.3,474.8 1025.7,461.1 1024.0,448.2 1022.6,432.8 1021.3,395.5 1020.6,352.7" fill="url(#gb)"/>
<polygon points="1020.6,352.7 1021.3,395.5 1022.6,432.8 1024.0,448.2 1025.7,461.1 1029.3,474.8 1041.9,465.6 1038.3,452.0 1036.6,439.2 1035.3,423.8 1034.1,386.7 1033.5,344.2" fill="url(#gb)"/>
<polygon points="1033.5,344.2 1034.1,386.7 1035.3,423.8 1036.6,439.2 1038.3,452.0 1041.9,465.6 1057.1,454.5 1053.5,441.0 1052.0,428.3 1050.7,413.0 1049.6,376.1 1049.1,333.8" fill="url(#gb)"/>
<polygon points="1049.1,333.8 1049.6,376.1 1050.7,413.0 1052.0,428.3 1053.5,441.0 1057.1,454.5 1069.3,445.6 1065.8,432.1 1064.3,419.5 1063.0,404.3 1062.0,367.5 1061.7,325.4" fill="url(#gb)"/>
<polygon points="1061.7,325.4 1062.0,367.5 1063.0,404.3 1064.3,419.5 1065.8,432.1 1069.3,445.6 1083.8,435.1 1080.3,421.7 1078.8,409.1 1077.6,394.0 1076.7,357.5 1076.5,315.6" fill="url(#gb)"/>
<polygon points="1076.5,315.6 1076.7,357.5 1077.6,394.0 1078.8,409.1 1080.3,421.7 1083.8,435.1 1095.1,426.9 1091.7,413.5 1090.2,401.0 1089.0,385.9 1088.2,349.6 1088.1,307.9" fill="url(#gb)"/>
<polygon points="1088.1,307.9 1088.2,349.6 1089.0,385.9 1090.2,401.0 1091.7,413.5 1095.1,426.9 1109.2,416.6 1105.8,403.4 1104.3,390.9 1103.2,375.9 1102.5,339.8 1102.5,298.3" fill="url(#gb)"/>
<polygon points="1102.5,298.3 1102.5,339.8 1103.2,375.9 1104.3,390.9 1105.8,403.4 1109.2,416.6 1123.9,405.9 1120.5,392.7 1119.1,380.4 1118.0,365.5 1117.5,329.5 1117.5,288.3" fill="url(#gb)"/>
<polygon points="1117.5,288.3 1117.5,329.5 1118.0,365.5 1119.1,380.4 1120.5,392.7 1123.9,405.9 1138.6,395.2 1135.3,382.1 1134.0,369.8 1132.9,355.0 1132.4,319.3 1132.6,278.3" fill="url(#gb)"/>
<polygon points="1132.6,278.3 1132.4,319.3 1132.9,355.0 1134.0,369.8 1135.3,382.1 1138.6,395.2 1152.8,384.8 1149.6,371.8 1148.3,359.6 1147.3,344.9 1146.9,309.3 1147.2,268.6" fill="url(#gb)"/>
<polygon points="1147.2,268.6 1146.9,309.3 1147.3,344.9 1148.3,359.6 1149.6,371.8 1152.8,384.8 1165.5,375.6 1162.3,362.7 1161.0,350.5 1160.1,335.9 1159.8,300.5 1160.2,260.0" fill="url(#gb)"/>
<polygon points="1160.2,260.0 1159.8,300.5 1160.1,335.9 1161.0,350.5 1162.3,362.7 1165.5,375.6 1179.4,365.5 1176.3,352.6 1175.0,340.5 1174.1,326.0 1173.9,290.8 1174.4,250.5" fill="url(#gb)"/>
<polygon points="1174.4,250.5 1173.9,290.8 1174.1,326.0 1175.0,340.5 1176.3,352.6 1179.4,365.5 1190.2,357.6 1187.1,344.9 1185.8,332.8 1184.9,318.3 1184.8,283.3 1185.4,243.2" fill="url(#gb)"/>
<polygon points="1185.4,243.2 1184.8,283.3 1184.9,318.3 1185.8,332.8 1187.1,344.9 1190.2,357.6 1200.9,349.9 1197.8,337.1 1196.6,325.2 1195.7,310.7 1195.6,275.9 1196.3,236.0" fill="url(#gb)"/>
<polygon points="1196.3,236.0 1195.6,275.9 1195.7,310.7 1196.6,325.2 1197.8,337.1 1200.9,349.9 1213.2,340.9 1210.2,328.2 1209.0,316.3 1208.2,301.9 1208.2,267.3 1209.0,227.6" fill="url(#gb)"/>
<polygon points="1209.0,227.6 1208.2,267.3 1208.2,301.9 1209.0,316.3 1210.2,328.2 1213.2,340.9 1225.4,332.0 1222.4,319.4 1221.2,307.6 1220.4,293.3 1220.5,258.8 1221.4,219.3" fill="url(#gb)"/>
<polygon points="1221.4,219.3 1220.5,258.8 1220.4,293.3 1221.2,307.6 1222.4,319.4 1225.4,332.0 1238.4,322.6 1235.4,310.1 1234.3,298.3 1233.5,284.1 1233.7,249.8 1234.6,210.5" fill="url(#gb)"/>
<polygon points="1234.6,210.5 1233.7,249.8 1233.5,284.1 1234.3,298.3 1235.4,310.1 1238.4,322.6 1248.2,315.4 1245.3,302.9 1244.2,291.2 1243.5,277.1 1243.7,242.9 1244.7,203.8" fill="url(#gb)"/>
<polygon points="1244.7,203.8 1243.7,242.9 1243.5,277.1 1244.2,291.2 1245.3,302.9 1248.2,315.4 1259.5,307.2 1256.6,294.8 1255.6,283.1 1254.8,269.1 1255.1,235.1 1256.2,196.2" fill="url(#gb)"/>
<polygon points="1256.2,196.2 1255.1,235.1 1254.8,269.1 1255.6,283.1 1256.6,294.8 1259.5,307.2 1268.7,300.5 1265.8,288.2 1264.8,276.6 1264.1,262.5 1264.4,228.7 1265.6,189.9" fill="url(#gb)"/>
<polygon points="1265.6,189.9 1264.4,228.7 1264.1,262.5 1264.8,276.6 1265.8,288.2 1268.7,300.5 1278.6,293.3 1275.7,281.0 1274.7,269.5 1274.1,255.5 1274.5,221.8 1275.7,183.2" fill="url(#gb)"/>
<polygon points="1275.7,183.2 1274.5,221.8 1274.1,255.5 1274.7,269.5 1275.7,281.0 1278.6,293.3 1292.7,283.0 1289.9,270.8 1288.9,259.3 1288.3,245.5 1288.8,212.0 1290.1,173.7" fill="url(#gb)"/>
<polyline points="894.3,436.7 896.1,481.4 898.4,520.3 900.2,536.5 902.2,549.9" fill="none" stroke="#2f3338" stroke-width="1.3" stroke-linejoin="round" stroke-linecap="round"/>
<polyline points="908.8,427.0 910.5,471.5 912.6,510.3 914.4,526.3 916.4,539.7" fill="none" stroke="#2f3338" stroke-width="1.3" stroke-linejoin="round" stroke-linecap="round"/>
<polyline points="922.0,418.3 923.5,462.6 925.6,501.2 927.3,517.2 929.2,530.5" fill="none" stroke="#2f3338" stroke-width="1.3" stroke-linejoin="round" stroke-linecap="round"/>
<polyline points="939.5,406.7 940.8,450.7 942.7,489.0 944.4,505.0 946.3,518.2" fill="none" stroke="#2f3338" stroke-width="1.3" stroke-linejoin="round" stroke-linecap="round"/>
<polyline points="952.0,398.4 953.3,442.2 955.0,480.4 956.7,496.2 958.5,509.4" fill="none" stroke="#2f3338" stroke-width="1.3" stroke-linejoin="round" stroke-linecap="round"/>
<polyline points="965.9,389.1 967.0,432.7 968.7,470.7 970.3,486.5 972.1,499.6" fill="none" stroke="#2f3338" stroke-width="1.3" stroke-linejoin="round" stroke-linecap="round"/>
<polyline points="980.1,379.7 981.1,423.1 982.7,460.9 984.2,476.6 986.0,489.6" fill="none" stroke="#2f3338" stroke-width="1.3" stroke-linejoin="round" stroke-linecap="round"/>
<polyline points="992.8,371.2 993.7,414.4 995.2,452.1 996.7,467.7 998.4,480.7" fill="none" stroke="#2f3338" stroke-width="1.3" stroke-linejoin="round" stroke-linecap="round"/>
<polyline points="1004.9,363.2 1005.8,406.2 1007.1,443.6 1008.6,459.2 1010.3,472.1" fill="none" stroke="#2f3338" stroke-width="1.3" stroke-linejoin="round" stroke-linecap="round"/>
<polyline points="1020.6,352.7 1021.3,395.5 1022.6,432.8 1024.0,448.2 1025.7,461.1" fill="none" stroke="#2f3338" stroke-width="1.3" stroke-linejoin="round" stroke-linecap="round"/>
<polyline points="1033.5,344.2 1034.1,386.7 1035.3,423.8 1036.6,439.2 1038.3,452.0" fill="none" stroke="#2f3338" stroke-width="1.3" stroke-linejoin="round" stroke-linecap="round"/>
<polyline points="1049.1,333.8 1049.6,376.1 1050.7,413.0 1052.0,428.3 1053.5,441.0" fill="none" stroke="#2f3338" stroke-width="1.3" stroke-linejoin="round" stroke-linecap="round"/>
<polyline points="1061.7,325.4 1062.0,367.5 1063.0,404.3 1064.3,419.5 1065.8,432.1" fill="none" stroke="#2f3338" stroke-width="1.3" stroke-linejoin="round" stroke-linecap="round"/>
<polyline points="1076.5,315.6 1076.7,357.5 1077.6,394.0 1078.8,409.1 1080.3,421.7" fill="none" stroke="#2f3338" stroke-width="1.3" stroke-linejoin="round" stroke-linecap="round"/>
<polyline points="1088.1,307.9 1088.2,349.6 1089.0,385.9 1090.2,401.0 1091.7,413.5" fill="none" stroke="#2f3338" stroke-width="1.3" stroke-linejoin="round" stroke-linecap="round"/>
<polyline points="1102.5,298.3 1102.5,339.8 1103.2,375.9 1104.3,390.9 1105.8,403.4" fill="none" stroke="#2f3338" stroke-width="1.3" stroke-linejoin="round" stroke-linecap="round"/>
<polyline points="1117.5,288.3 1117.5,329.5 1118.0,365.5 1119.1,380.4 1120.5,392.7" fill="none" stroke="#2f3338" stroke-width="1.3" stroke-linejoin="round" stroke-linecap="round"/>
<polyline points="1132.6,278.3 1132.4,319.3 1132.9,355.0 1134.0,369.8 1135.3,382.1" fill="none" stroke="#2f3338" stroke-width="1.3" stroke-linejoin="round" stroke-linecap="round"/>
<polyline points="1147.2,268.6 1146.9,309.3 1147.3,344.9 1148.3,359.6 1149.6,371.8" fill="none" stroke="#2f3338" stroke-width="1.3" stroke-linejoin="round" stroke-linecap="round"/>
<polyline points="1160.2,260.0 1159.8,300.5 1160.1,335.9 1161.0,350.5 1162.3,362.7" fill="none" stroke="#2f3338" stroke-width="1.3" stroke-linejoin="round" stroke-linecap="round"/>
<polyline points="1174.4,250.5 1173.9,290.8 1174.1,326.0 1175.0,340.5 1176.3,352.6" fill="none" stroke="#2f3338" stroke-width="1.3" stroke-linejoin="round" stroke-linecap="round"/>
<polyline points="1185.4,243.2 1184.8,283.3 1184.9,318.3 1185.8,332.8 1187.1,344.9" fill="none" stroke="#2f3338" stroke-width="1.3" stroke-linejoin="round" stroke-linecap="round"/>
<polyline points="1196.3,236.0 1195.6,275.9 1195.7,310.7 1196.6,325.2 1197.8,337.1" fill="none" stroke="#2f3338" stroke-width="1.3" stroke-linejoin="round" stroke-linecap="round"/>
<polyline points="1209.0,227.6 1208.2,267.3 1208.2,301.9 1209.0,316.3 1210.2,328.2" fill="none" stroke="#2f3338" stroke-width="1.3" stroke-linejoin="round" stroke-linecap="round"/>
<polyline points="1221.4,219.3 1220.5,258.8 1220.4,293.3 1221.2,307.6 1222.4,319.4" fill="none" stroke="#2f3338" stroke-width="1.3" stroke-linejoin="round" stroke-linecap="round"/>
<polyline points="1234.6,210.5 1233.7,249.8 1233.5,284.1 1234.3,298.3 1235.4,310.1" fill="none" stroke="#2f3338" stroke-width="1.3" stroke-linejoin="round" stroke-linecap="round"/>
<polyline points="1244.7,203.8 1243.7,242.9 1243.5,277.1 1244.2,291.2 1245.3,302.9" fill="none" stroke="#2f3338" stroke-width="1.3" stroke-linejoin="round" stroke-linecap="round"/>
<polyline points="1256.2,196.2 1255.1,235.1 1254.8,269.1 1255.6,283.1 1256.6,294.8" fill="none" stroke="#2f3338" stroke-width="1.3" stroke-linejoin="round" stroke-linecap="round"/>
<polyline points="1265.6,189.9 1264.4,228.7 1264.1,262.5 1264.8,276.6 1265.8,288.2" fill="none" stroke="#2f3338" stroke-width="1.3" stroke-linejoin="round" stroke-linecap="round"/>
<polyline points="1275.7,183.2 1274.5,221.8 1274.1,255.5 1274.7,269.5 1275.7,281.0" fill="none" stroke="#2f3338" stroke-width="1.3" stroke-linejoin="round" stroke-linecap="round"/>
<polyline points="873.3,450.7 875.3,495.7 877.7,534.9 879.6,551.2 881.7,564.7" fill="none" stroke="#2f3338" stroke-width="1.3" stroke-linejoin="round" stroke-linecap="round"/>
<polyline points="887.3,441.3 889.2,486.1 891.5,525.1 893.4,541.3 895.4,554.8" fill="none" stroke="#2f3338" stroke-width="1.3" stroke-linejoin="round" stroke-linecap="round"/>
<polyline points="901.6,431.8 903.3,476.4 905.5,515.3 907.3,531.4 909.3,544.8" fill="none" stroke="#2f3338" stroke-width="1.3" stroke-linejoin="round" stroke-linecap="round"/>
<polyline points="915.4,422.7 917.0,467.0 919.1,505.7 920.9,521.7 922.8,535.1" fill="none" stroke="#2f3338" stroke-width="1.3" stroke-linejoin="round" stroke-linecap="round"/>
<polyline points="930.7,412.5 932.2,456.6 934.2,495.1 935.9,511.0 937.8,524.3" fill="none" stroke="#2f3338" stroke-width="1.3" stroke-linejoin="round" stroke-linecap="round"/>
<polyline points="945.7,402.5 947.1,446.4 948.9,484.7 950.6,500.6 952.4,513.8" fill="none" stroke="#2f3338" stroke-width="1.3" stroke-linejoin="round" stroke-linecap="round"/>
<polyline points="959.0,393.7 960.2,437.4 961.9,475.5 963.5,491.3 965.4,504.5" fill="none" stroke="#2f3338" stroke-width="1.3" stroke-linejoin="round" stroke-linecap="round"/>
<polyline points="973.0,384.4 974.1,427.9 975.7,465.8 977.3,481.5 979.1,494.6" fill="none" stroke="#2f3338" stroke-width="1.3" stroke-linejoin="round" stroke-linecap="round"/>
<polyline points="986.5,375.4 987.4,418.7 989.0,456.5 990.5,472.1 992.2,485.1" fill="none" stroke="#2f3338" stroke-width="1.3" stroke-linejoin="round" stroke-linecap="round"/>
<polyline points="998.9,367.2 999.7,410.3 1001.2,447.8 1002.7,463.4 1004.4,476.4" fill="none" stroke="#2f3338" stroke-width="1.3" stroke-linejoin="round" stroke-linecap="round"/>
<polyline points="1012.8,357.9 1013.6,400.8 1014.9,438.2 1016.3,453.7 1018.0,466.6" fill="none" stroke="#2f3338" stroke-width="1.3" stroke-linejoin="round" stroke-linecap="round"/>
<polyline points="1027.1,348.4 1027.7,391.1 1029.0,428.3 1030.3,443.7 1032.0,456.5" fill="none" stroke="#2f3338" stroke-width="1.3" stroke-linejoin="round" stroke-linecap="round"/>
<polyline points="1041.4,339.0 1041.9,381.4 1043.0,418.4 1044.3,433.7 1045.9,446.5" fill="none" stroke="#2f3338" stroke-width="1.3" stroke-linejoin="round" stroke-linecap="round"/>
<polyline points="1055.4,329.6 1055.8,371.8 1056.8,408.6 1058.1,423.9 1059.7,436.5" fill="none" stroke="#2f3338" stroke-width="1.3" stroke-linejoin="round" stroke-linecap="round"/>
<polyline points="1069.1,320.5 1069.4,362.5 1070.3,399.1 1071.6,414.3 1073.1,426.9" fill="none" stroke="#2f3338" stroke-width="1.3" stroke-linejoin="round" stroke-linecap="round"/>
<polyline points="1082.3,311.7 1082.5,353.5 1083.3,390.0 1084.5,405.1 1086.0,417.6" fill="none" stroke="#2f3338" stroke-width="1.3" stroke-linejoin="round" stroke-linecap="round"/>
<polyline points="1095.3,303.1 1095.4,344.7 1096.1,380.9 1097.3,396.0 1098.7,408.4" fill="none" stroke="#2f3338" stroke-width="1.3" stroke-linejoin="round" stroke-linecap="round"/>
<polyline points="1110.0,293.3 1110.0,334.6 1110.6,370.7 1111.8,385.6 1113.2,398.0" fill="none" stroke="#2f3338" stroke-width="1.3" stroke-linejoin="round" stroke-linecap="round"/>
<polyline points="1125.1,283.3 1125.0,324.4 1125.5,360.2 1126.6,375.1 1128.0,387.4" fill="none" stroke="#2f3338" stroke-width="1.3" stroke-linejoin="round" stroke-linecap="round"/>
<polyline points="1139.9,273.4 1139.7,314.3 1140.1,349.9 1141.1,364.7 1142.5,376.9" fill="none" stroke="#2f3338" stroke-width="1.3" stroke-linejoin="round" stroke-linecap="round"/>
<polyline points="1153.7,264.3 1153.4,304.9 1153.7,340.4 1154.7,355.0 1156.0,367.2" fill="none" stroke="#2f3338" stroke-width="1.3" stroke-linejoin="round" stroke-linecap="round"/>
<polyline points="1167.3,255.2 1166.9,295.6 1167.1,330.9 1168.1,345.5 1169.3,357.6" fill="none" stroke="#2f3338" stroke-width="1.3" stroke-linejoin="round" stroke-linecap="round"/>
<polyline points="1179.9,246.9 1179.4,287.1 1179.5,322.1 1180.4,336.7 1181.7,348.7" fill="none" stroke="#2f3338" stroke-width="1.3" stroke-linejoin="round" stroke-linecap="round"/>
<polyline points="1190.9,239.6 1190.2,279.6 1190.3,314.5 1191.2,329.0 1192.4,341.0" fill="none" stroke="#2f3338" stroke-width="1.3" stroke-linejoin="round" stroke-linecap="round"/>
<polyline points="1202.7,231.8 1201.9,271.6 1202.0,306.3 1202.8,320.7 1204.0,332.7" fill="none" stroke="#2f3338" stroke-width="1.3" stroke-linejoin="round" stroke-linecap="round"/>
<polyline points="1215.2,223.4 1214.4,263.0 1214.3,297.6 1215.1,311.9 1216.3,323.8" fill="none" stroke="#2f3338" stroke-width="1.3" stroke-linejoin="round" stroke-linecap="round"/>
<polyline points="1228.0,214.9 1227.1,254.3 1227.0,288.7 1227.8,302.9 1228.9,314.7" fill="none" stroke="#2f3338" stroke-width="1.3" stroke-linejoin="round" stroke-linecap="round"/>
<polyline points="1239.7,207.1 1238.7,246.3 1238.5,280.6 1239.3,294.7 1240.4,306.5" fill="none" stroke="#2f3338" stroke-width="1.3" stroke-linejoin="round" stroke-linecap="round"/>
<polyline points="1250.5,200.0 1249.5,239.0 1249.2,273.0 1249.9,287.1 1251.0,298.8" fill="none" stroke="#2f3338" stroke-width="1.3" stroke-linejoin="round" stroke-linecap="round"/>
<polyline points="1260.9,193.0 1259.8,231.9 1259.5,265.8 1260.2,279.8 1261.2,291.5" fill="none" stroke="#2f3338" stroke-width="1.3" stroke-linejoin="round" stroke-linecap="round"/>
<polyline points="1270.6,186.6 1269.5,225.3 1269.1,259.0 1269.8,273.0 1270.8,284.6" fill="none" stroke="#2f3338" stroke-width="1.3" stroke-linejoin="round" stroke-linecap="round"/>
<polyline points="1282.9,178.4 1281.7,216.9 1281.2,250.5 1281.8,264.4 1282.8,275.9" fill="none" stroke="#2f3338" stroke-width="1.3" stroke-linejoin="round" stroke-linecap="round"/>
<polyline points="894.3,436.7 896.1,481.4 898.4,520.3 900.2,536.5 902.2,549.9 906.3,564.3 912.1,577.7 920.1,590.1 929.3,601.1 937.5,610.9 945.8,620.8 954.0,630.7 962.3,640.5 969.5,655.6 973.3,668.5" fill="none" stroke="#2f3338" stroke-width="1.3" stroke-linejoin="round" stroke-linecap="round"/>
<polyline points="965.9,389.1 967.0,432.7 968.7,470.7 970.3,486.5 972.1,499.6 976.0,513.6 981.5,526.6 989.2,538.6 998.1,549.2 1006.2,558.8 1014.3,568.3 1022.4,577.9 1030.5,587.4 1037.4,602.1 1041.0,614.7" fill="none" stroke="#2f3338" stroke-width="1.3" stroke-linejoin="round" stroke-linecap="round"/>
<polyline points="1033.5,344.2 1034.1,386.7 1035.3,423.8 1036.6,439.2 1038.3,452.0 1041.9,465.6 1047.1,478.3 1054.6,489.9 1063.3,500.2 1071.2,509.4 1079.2,518.7 1087.1,527.9 1095.1,537.2 1101.7,551.4 1105.1,563.7" fill="none" stroke="#2f3338" stroke-width="1.3" stroke-linejoin="round" stroke-linecap="round"/>
<polyline points="1102.5,298.3 1102.5,339.8 1103.2,375.9 1104.3,390.9 1105.8,403.4 1109.2,416.6 1114.2,428.9 1121.4,440.2 1129.8,450.1 1137.6,459.0 1145.4,468.0 1153.2,476.9 1161.0,485.9 1167.3,499.7 1170.6,511.6" fill="none" stroke="#2f3338" stroke-width="1.3" stroke-linejoin="round" stroke-linecap="round"/>
<polyline points="1174.4,250.5 1173.9,290.8 1174.1,326.0 1175.0,340.5 1176.3,352.6 1179.4,365.5 1184.2,377.4 1191.2,388.2 1199.2,397.7 1206.9,406.4 1214.6,415.0 1222.2,423.6 1229.9,432.3 1235.9,445.6 1238.9,457.2" fill="none" stroke="#2f3338" stroke-width="1.3" stroke-linejoin="round" stroke-linecap="round"/>
<polyline points="1234.6,210.5 1233.7,249.8 1233.5,284.1 1234.3,298.3 1235.4,310.1 1238.4,322.6 1242.9,334.1 1249.7,344.6 1257.5,353.8 1265.0,362.2 1272.6,370.6 1280.1,379.0 1287.7,387.4 1293.4,400.3 1296.3,411.6" fill="none" stroke="#2f3338" stroke-width="1.3" stroke-linejoin="round" stroke-linecap="round"/>
<polygon points="865.4,455.1 867.4,500.2 881.5,490.6 879.6,445.8" fill="#faa01c" stroke="#faa01c" stroke-width="0.8" stroke-linejoin="round"/>
<polygon points="867.4,500.2 869.9,539.5 883.9,529.8 881.5,490.6" fill="#faa01c" stroke="#faa01c" stroke-width="0.8" stroke-linejoin="round"/>
<polygon points="869.9,539.5 871.9,555.8 885.8,546.0 883.9,529.8" fill="#fcae1c" stroke="#fcae1c" stroke-width="0.8" stroke-linejoin="round"/>
<polygon points="871.9,555.8 874.0,569.4 887.9,559.5 885.8,546.0" fill="#fdb61c" stroke="#fdb61c" stroke-width="0.8" stroke-linejoin="round"/>
<polygon points="874.0,569.4 878.2,583.9 892.0,573.9 887.9,559.5" fill="#fdbe1c" stroke="#fdbe1c" stroke-width="0.8" stroke-linejoin="round"/>
<polygon points="878.2,583.9 884.1,597.5 897.8,587.4 892.0,573.9" fill="#fec51c" stroke="#fec51c" stroke-width="0.8" stroke-linejoin="round"/>
<polygon points="884.1,597.5 892.2,610.0 905.9,599.9 897.8,587.4" fill="#ffcb1c" stroke="#ffcb1c" stroke-width="0.8" stroke-linejoin="round"/>
<polygon points="892.2,610.0 901.5,621.2 915.1,611.0 905.9,599.9" fill="#ffcc1c" stroke="#ffcc1c" stroke-width="0.8" stroke-linejoin="round"/>
<polygon points="901.5,621.2 910.0,631.2 923.6,620.9 915.1,611.0" fill="#ffcc1c" stroke="#ffcc1c" stroke-width="0.8" stroke-linejoin="round"/>
<polygon points="865.4,455.1 867.4,500.2 869.9,539.5 871.9,555.8 874.0,569.4 878.2,583.9 892.0,573.9 887.9,559.5 885.8,546.0 883.9,529.8 881.5,490.6 879.6,445.8" fill="url(#gb)"/>
<polyline points="879.6,445.8 881.5,490.6 883.9,529.8 885.8,546.0 887.9,559.5" fill="none" stroke="#2f3338" stroke-width="1.3" stroke-linejoin="round" stroke-linecap="round"/>
<polyline points="905.2,625.0 1316.0,316.9" fill="none" stroke="#2f3338" stroke-width="1.2" stroke-linejoin="round" stroke-linecap="round"/>
<polyline points="934.9,660.7 1340.4,345.4" fill="none" stroke="#2f3338" stroke-width="1.2" stroke-linejoin="round" stroke-linecap="round"/>
<polyline points="865.4,455.1 867.4,500.2 869.9,539.5 871.9,555.8 874.0,569.4 878.2,583.9 884.1,597.5 892.2,610.0 901.5,621.2 910.0,631.2 918.5,641.3 927.0,651.3 935.5,661.4 942.8,676.6 946.8,689.7 948.5,698.1 950.2,714.6 951.7,740.4 952.9,777.0" fill="none" stroke="#111" stroke-width="1.5" stroke-linejoin="round" stroke-linecap="round"/>
<polyline points="1290.1,173.7 1288.8,212.0 1288.3,245.5 1288.9,259.3 1289.9,270.8 1292.7,283.0 1297.1,294.3 1303.6,304.5 1311.2,313.4 1318.6,321.5" fill="none" stroke="#111" stroke-width="1.2" stroke-linejoin="round" stroke-linecap="round"/>
<polygon points="850.5,450.3 860.8,446.8 859.3,444.6 869.6,441.0 868.0,438.9 878.2,435.4 876.7,433.2 886.9,429.7 885.3,427.6 895.4,424.1 893.9,422.0 903.9,418.6 902.3,416.5 912.3,413.1 910.7,411.0 920.6,407.6 919.1,405.5 928.9,402.2 927.4,400.1 937.1,396.8 935.6,394.8 945.3,391.5 943.7,389.5 953.4,386.2 951.8,384.2 961.4,381.0 959.8,379.0 969.4,375.7 967.8,373.8 977.3,370.6 975.7,368.6 985.1,365.4 983.5,363.5 992.9,360.3 991.3,358.4 1000.7,355.3 999.1,353.3 1008.3,350.3 1006.7,348.3 1016.0,345.3 1014.3,343.4 1023.5,340.3 1021.9,338.4 1031.0,335.4 1029.4,333.5 1038.5,330.5 1036.8,328.7 1045.9,325.7 1044.2,323.9 1053.2,320.9 1051.6,319.1 1060.5,316.1 1058.9,314.3 1067.7,311.4 1066.1,309.6 1074.9,306.7 1073.3,304.9 1082.1,302.0 1080.4,300.3 1089.1,297.4 1087.5,295.6 1096.2,292.8 1094.5,291.0 1103.2,288.2 1101.5,286.5 1110.1,283.7 1108.4,282.0 1117.0,279.2 1115.3,277.5 1123.8,274.7 1122.1,273.0 1130.6,270.3 1128.9,268.6 1137.3,265.9 1135.6,264.2 1144.0,261.5 1142.3,259.8 1150.7,257.2 1149.0,255.5 1157.3,252.8 1155.6,251.2 1163.8,248.6 1162.1,246.9 1170.3,244.3 1168.6,242.7 1176.8,240.1 1175.1,238.5 1183.2,235.9 1181.5,234.3 1189.6,231.7 1187.9,230.1 1195.9,227.5 1194.2,226.0 1202.2,223.4 1200.5,221.9 1208.5,219.3 1206.7,217.8 1214.7,215.3 1213.0,213.7 1220.8,211.3 1219.1,209.7 1227.0,207.2 1225.2,205.7 1233.1,203.3 1231.3,201.7 1239.1,199.3 1237.4,197.8 1245.1,195.4 1243.4,193.9 1251.1,191.5 1249.3,190.0 1257.0,187.6 1255.3,186.1 1262.9,183.8 1261.1,182.3 1268.7,179.9 1267.0,178.5 1274.5,176.1 1272.8,174.7 1280.3,172.4 1278.6,170.9 1285.2,170.6 1287.1,172.9 1291.9,178.9 1284.1,181.1 1277.1,183.6 1277.5,185.5 1278.8,187.4 1272.4,188.7 1266.8,190.2 1267.5,192.1 1268.7,193.8 1262.8,195.1 1257.8,196.5 1257.6,198.6 1258.2,200.5 1251.9,202.2 1246.2,204.2 1246.6,206.1 1247.5,207.9 1241.6,209.3 1236.4,210.9 1235.9,213.2 1237.1,215.6 1229.3,217.5 1222.4,219.6 1222.7,221.9 1224.0,224.2 1216.4,225.9 1209.8,227.8 1210.5,230.3 1211.0,232.4 1204.2,234.3 1198.1,236.4 1197.8,238.4 1199.2,240.4 1192.3,241.8 1186.3,243.5 1187.6,245.8 1188.8,247.8 1182.1,249.3 1176.3,251.0 1175.8,253.5 1176.7,256.0 1168.7,258.0 1161.6,260.4 1161.5,262.7 1162.1,264.9 1155.0,266.9 1148.7,269.0 1148.2,271.6 1148.5,274.0 1141.0,276.2 1134.2,278.7 1133.7,281.4 1133.9,283.8 1126.2,286.2 1119.3,288.8 1118.7,291.4 1119.6,294.1 1111.2,296.2 1103.7,298.7 1104.0,301.4 1104.6,303.9 1096.8,306.0 1090.0,308.4 1090.1,310.6 1091.2,312.8 1084.3,314.3 1078.3,316.1 1077.6,318.7 1078.4,321.3 1070.2,323.4 1062.9,325.8 1063.1,328.2 1064.1,330.5 1056.9,332.2 1050.5,334.2 1050.3,337.1 1050.6,339.7 1042.6,342.1 1035.4,344.7 1035.2,347.1 1036.6,349.6 1028.7,351.2 1021.8,353.1 1021.8,356.0 1022.0,358.7 1014.0,361.1 1006.8,363.7 1006.8,366.0 1008.1,368.4 1000.7,369.9 994.2,371.7 994.7,374.3 996.2,376.8 988.4,378.3 981.6,380.1 981.5,382.8 982.1,385.3 974.4,387.4 967.6,389.6 967.6,392.3 968.6,394.9 960.6,396.7 953.6,398.9 953.7,401.3 954.9,403.7 947.5,405.3 940.9,407.1 940.3,410.3 940.9,413.4 931.6,415.9 923.3,418.7 923.4,421.3 924.7,423.9 916.9,425.5 910.0,427.4 910.7,430.5 911.6,433.2 903.5,435.1 896.2,437.3 896.3,440.1 897.1,442.7 889.3,444.5 882.4,446.7 879.7,445.8 877.5,449.4 865.8,455.3" fill="#cfcfcf" stroke="#111" stroke-width="1.7" stroke-linejoin="round"/>
<polygon points="1368.0,192.2 952.1,483.2 957.9,778.9 972.0,767.1 971.6,698.8 973.3,694.5 977.6,754.9 978.0,692.2 979.5,686.8 981.8,682.0 986.0,747.7 986.4,679.8 988.7,691.1 990.3,686.8 994.3,743.2 994.9,684.6 996.4,680.4 997.6,676.5 1001.5,738.1 1002.1,674.3 1003.2,667.5 1005.2,662.9 1009.0,727.5 1009.7,660.8 1011.8,667.7 1013.5,663.4 1017.1,713.9 1018.0,661.2 1019.7,656.1 1022.2,651.1 1025.7,708.4 1026.6,649.0 1029.0,649.5 1030.6,645.2 1034.0,708.2 1035.0,643.2 1036.6,643.0 1039.0,638.2 1042.2,693.9 1043.3,636.1 1045.7,644.8 1047.6,640.3 1050.7,695.1 1051.9,638.3 1053.7,623.8 1055.6,619.4 1058.6,683.5 1059.9,617.4 1061.7,621.9 1063.2,617.8 1066.1,677.6 1067.5,615.8 1068.9,616.9 1071.3,612.1 1074.0,679.7 1075.5,610.2 1077.7,617.7 1080.1,612.9 1082.7,667.4 1084.3,611.0 1086.6,601.5 1088.9,596.8 1091.4,655.7 1093.1,594.9 1095.3,599.1 1096.9,595.0 1099.2,654.4 1101.0,593.1 1102.4,593.9 1104.5,589.5 1106.7,650.6 1108.5,587.6 1110.4,591.2 1111.7,587.4 1114.0,633.9 1115.7,585.5 1116.9,584.5 1118.3,580.6 1120.4,631.8 1122.3,578.7 1123.6,569.4 1125.0,565.5 1126.9,625.9 1129.0,563.7 1130.2,569.6 1132.0,565.4 1133.8,624.4 1135.9,563.6 1137.6,559.8 1139.2,555.7 1140.7,622.8 1143.1,554.0 1144.5,554.3 1145.8,550.5 1147.4,608.5 1149.7,548.8 1150.7,556.6 1152.4,552.4 1154.0,609.5 1156.3,550.7 1157.8,550.7 1159.5,546.6 1161.1,596.6 1163.3,544.9 1165.0,537.5 1166.9,533.2 1168.2,592.1 1170.7,531.5 1172.4,534.2 1174.5,529.8 1175.7,590.5 1178.3,528.1 1180.0,535.4 1181.3,531.6 1182.7,580.2 1185.0,530.0 1186.3,522.0 1188.3,517.7 1189.1,581.2 1192.0,516.1 1193.7,513.9 1195.6,509.8 1196.4,572.0 1199.3,508.1 1200.6,519.1 1202.2,515.1 1203.3,563.2 1205.8,513.4 1207.4,509.2 1208.4,505.7 1209.4,555.3 1212.0,504.1 1212.8,504.4 1214.6,500.3 1215.5,548.9 1218.1,498.7 1219.9,489.8 1221.7,485.7 1222.0,548.9 1225.2,484.2 1226.6,489.0 1228.3,484.9 1228.5,549.1 1231.8,483.4 1233.0,491.9 1234.2,488.4 1234.7,541.9 1237.7,486.9 1238.9,478.6 1241.0,474.2 1241.4,529.7 1244.5,472.7 1246.1,480.5 1248.1,476.2 1248.7,523.2 1251.5,474.7 1253.4,471.4 1255.0,467.6 1255.3,517.7 1258.4,466.1 1259.8,462.8 1261.7,458.8 1261.8,513.0 1265.1,457.3 1266.5,461.1 1268.4,456.9 1268.7,505.4 1271.8,455.5 1273.8,446.6 1275.3,442.8 1275.1,501.5 1278.7,441.4 1279.9,440.7 1281.6,436.8 1281.1,499.1 1284.9,435.4 1285.9,442.8 1287.1,439.3 1286.8,496.0 1290.4,437.9 1291.1,444.0 1293.1,439.8 1293.1,487.7 1296.3,438.5 1298.0,439.2 1299.5,435.4 1299.6,481.3 1302.8,434.0 1304.3,429.4 1305.8,425.6 1305.7,473.0 1309.1,424.2 1310.5,421.4 1311.6,418.0 1310.8,476.9 1314.7,416.7 1315.3,421.5 1316.8,417.8 1316.4,467.4 1319.9,416.5 1320.9,421.3 1322.7,417.3 1322.4,464.9 1325.9,416.0 1327.6,412.6 1329.3,408.8 1328.7,461.4 1332.5,407.5 1333.7,410.4 1335.6,406.4 1335.2,452.8 1338.7,405.1 1340.8,396.4 1342.4,392.6 1341.1,454.2 1345.5,391.4 1346.3,401.5 1348.2,397.5 1347.3,449.4 1351.2,396.2 1352.7,389.2 1356.7,386.0" fill="#41240f" stroke="#1a0d05" stroke-width="1.0" stroke-linejoin="round"/>
<polygon points="983.3,479.0 984.3,524.6 1382.6,235.1 1384.6,196.1" fill="#faa01c" stroke="#faa01c" stroke-width="0.8" stroke-linejoin="round"/>
<polygon points="984.3,524.6 986.0,564.4 1381.6,269.0 1382.6,235.1" fill="#faa01c" stroke="#faa01c" stroke-width="0.8" stroke-linejoin="round"/>
<polygon points="986.0,564.4 987.6,580.9 1382.0,283.1 1381.6,269.0" fill="#fcae1c" stroke="#fcae1c" stroke-width="0.8" stroke-linejoin="round"/>
<polygon points="987.6,580.9 989.5,594.6 1382.8,294.8 1382.0,283.1" fill="#fdb61c" stroke="#fdb61c" stroke-width="0.8" stroke-linejoin="round"/>
<polygon points="989.5,594.6 993.6,609.3 1385.5,307.2 1382.8,294.8" fill="#fdbe1c" stroke="#fdbe1c" stroke-width="0.8" stroke-linejoin="round"/>
<polygon points="980.1,619.7 986.0,633.6 1389.9,318.6 1385.5,307.2" fill="#fec51c" stroke="#fec51c" stroke-width="0.8" stroke-linejoin="round"/>
<polygon points="986.0,633.6 994.3,646.4 1396.5,329.0 1389.9,318.6" fill="#ffcb1c" stroke="#ffcb1c" stroke-width="0.8" stroke-linejoin="round"/>
<polygon points="994.3,646.4 1003.8,657.8 1404.3,338.1 1396.5,329.0" fill="#ffcc1c" stroke="#ffcc1c" stroke-width="0.8" stroke-linejoin="round"/>
<polygon points="1003.8,657.8 1012.7,668.1 1411.2,346.2 1404.3,338.1" fill="#ffcc1c" stroke="#ffcc1c" stroke-width="0.8" stroke-linejoin="round"/>
<polygon points="1012.7,668.1 1021.6,678.5 1418.2,354.3 1411.2,346.2" fill="#ffcc1c" stroke="#ffcc1c" stroke-width="0.8" stroke-linejoin="round"/>
<polygon points="1021.6,678.5 1030.4,688.8 1425.1,362.4 1418.2,354.3" fill="#ffcc1c" stroke="#ffcc1c" stroke-width="0.8" stroke-linejoin="round"/>
<polygon points="1030.4,688.8 1039.3,699.2 1432.1,370.6 1425.1,362.4" fill="#ffcc1c" stroke="#ffcc1c" stroke-width="0.8" stroke-linejoin="round"/>
<polygon points="1039.3,699.2 1046.7,714.7 1437.6,383.4 1432.1,370.6" fill="#ffca1c" stroke="#ffca1c" stroke-width="0.8" stroke-linejoin="round"/>
<polygon points="1046.7,714.7 1050.6,728.0 1440.3,394.5 1437.6,383.4" fill="#fec21b" stroke="#fec21b" stroke-width="0.8" stroke-linejoin="round"/>
<polygon points="1050.6,728.0 1052.3,736.6 1441.2,401.7 1440.3,394.5" fill="#fdbc1b" stroke="#fdbc1b" stroke-width="0.8" stroke-linejoin="round"/>
<polygon points="1052.3,736.6 1053.6,753.4 1071.4,738.0 1070.1,721.2" fill="#fcb41a" stroke="#fcb41a" stroke-width="0.8" stroke-linejoin="round"/>
<polygon points="1053.6,753.4 1054.7,779.6 1072.3,764.0 1071.4,738.0" fill="#faa619" stroke="#faa619" stroke-width="0.8" stroke-linejoin="round"/>
<polygon points="1054.7,779.6 1055.1,816.7 1072.6,800.9 1072.3,764.0" fill="#faa519" stroke="#faa519" stroke-width="0.8" stroke-linejoin="round"/>
<polygon points="983.3,479.0 984.3,524.6 986.0,564.4 987.6,580.9 989.5,594.6 993.6,609.3 1019.8,589.1 1015.8,574.6 1014.0,561.0 1012.5,544.6 1011.0,505.2 1010.2,460.0" fill="url(#gb)"/>
<polygon points="1010.2,460.0 1011.0,505.2 1012.5,544.6 1014.0,561.0 1015.8,574.6 1019.8,589.1 1046.3,568.7 1042.4,554.3 1040.7,540.8 1039.2,524.6 1038.0,485.6 1037.4,440.8" fill="url(#gb)"/>
<polygon points="1037.4,440.8 1038.0,485.6 1039.2,524.6 1040.7,540.8 1042.4,554.3 1046.3,568.7 1071.9,549.0 1068.1,534.7 1066.5,521.4 1065.1,505.3 1064.1,466.6 1063.7,422.3" fill="url(#gb)"/>
<polygon points="1063.7,422.3 1064.1,466.6 1065.1,505.3 1066.5,521.4 1068.1,534.7 1071.9,549.0 1096.0,530.3 1092.3,516.2 1090.8,503.0 1089.5,487.1 1088.6,448.8 1088.5,404.8" fill="url(#gb)"/>
<polygon points="1088.5,404.8 1088.6,448.8 1089.5,487.1 1090.8,503.0 1092.3,516.2 1096.0,530.3 1120.1,511.8 1116.5,497.8 1115.0,484.7 1113.8,468.9 1113.2,431.0 1113.2,387.4" fill="url(#gb)"/>
<polygon points="1113.2,387.4 1113.2,431.0 1113.8,468.9 1115.0,484.7 1116.5,497.8 1120.1,511.8 1140.5,496.0 1137.0,482.2 1135.6,469.2 1134.4,453.5 1133.9,415.9 1134.2,372.6" fill="url(#gb)"/>
<polygon points="1134.2,372.6 1133.9,415.9 1134.4,453.5 1135.6,469.2 1137.0,482.2 1140.5,496.0 1160.6,480.6 1157.1,466.8 1155.7,453.9 1154.7,438.4 1154.3,401.0 1154.7,358.2" fill="url(#gb)"/>
<polygon points="1154.7,358.2 1154.3,401.0 1154.7,438.4 1155.7,453.9 1157.1,466.8 1160.6,480.6 1180.2,465.4 1176.9,451.8 1175.5,439.0 1174.5,423.6 1174.3,386.5 1174.8,344.0" fill="url(#gb)"/>
<polygon points="1174.8,344.0 1174.3,386.5 1174.5,423.6 1175.5,439.0 1176.9,451.8 1180.2,465.4 1203.7,447.3 1200.4,433.8 1199.1,421.2 1198.2,406.0 1198.1,369.2 1198.9,327.1" fill="url(#gb)"/>
<polygon points="1198.9,327.1 1198.1,369.2 1198.2,406.0 1199.1,421.2 1200.4,433.8 1203.7,447.3 1223.7,431.9 1220.4,418.6 1219.2,406.0 1218.3,390.9 1218.4,354.4 1219.3,312.6" fill="url(#gb)"/>
<polygon points="1219.3,312.6 1218.4,354.4 1218.3,390.9 1219.2,406.0 1220.4,418.6 1223.7,431.9 1242.8,417.2 1239.6,403.9 1238.4,391.5 1237.6,376.5 1237.9,340.3 1238.9,298.9" fill="url(#gb)"/>
<polygon points="1238.9,298.9 1237.9,340.3 1237.6,376.5 1238.4,391.5 1239.6,403.9 1242.8,417.2 1263.2,401.5 1260.1,388.3 1259.0,376.0 1258.2,361.1 1258.6,325.3 1259.7,284.1" fill="url(#gb)"/>
<polygon points="1259.7,284.1 1258.6,325.3 1258.2,361.1 1259.0,376.0 1260.1,388.3 1263.2,401.5 1282.9,386.3 1279.8,373.3 1278.8,361.0 1278.1,346.3 1278.5,310.7 1279.9,270.0" fill="url(#gb)"/>
<polygon points="1279.9,270.0 1278.5,310.7 1278.1,346.3 1278.8,361.0 1279.8,373.3 1282.9,386.3 1300.9,372.4 1297.9,359.5 1296.9,347.3 1296.3,332.7 1296.8,297.4 1298.3,257.0" fill="url(#gb)"/>
<polygon points="1298.3,257.0 1296.8,297.4 1296.3,332.7 1296.9,347.3 1297.9,359.5 1300.9,372.4 1318.7,358.7 1315.8,345.9 1314.8,333.8 1314.2,319.3 1314.9,284.3 1316.5,244.2" fill="url(#gb)"/>
<polygon points="1316.5,244.2 1314.9,284.3 1314.2,319.3 1314.8,333.8 1315.8,345.9 1318.7,358.7 1332.9,347.7 1330.0,335.0 1329.1,323.0 1328.5,308.6 1329.3,273.8 1331.0,234.0" fill="url(#gb)"/>
<polygon points="1331.0,234.0 1329.3,273.8 1328.5,308.6 1329.1,323.0 1330.0,335.0 1332.9,347.7 1350.9,333.9 1348.0,321.3 1347.1,309.4 1346.6,295.1 1347.5,260.6 1349.3,221.0" fill="url(#gb)"/>
<polygon points="1349.3,221.0 1347.5,260.6 1346.6,295.1 1347.1,309.4 1348.0,321.3 1350.9,333.9 1366.9,321.5 1364.1,309.0 1363.3,297.2 1362.8,283.0 1363.8,248.8 1365.6,209.5" fill="url(#gb)"/>
<polygon points="1365.6,209.5 1363.8,248.8 1362.8,283.0 1363.3,297.2 1364.1,309.0 1366.9,321.5 1385.5,307.2 1382.8,294.8 1382.0,283.1 1381.6,269.0 1382.6,235.1 1384.6,196.1" fill="url(#gb)"/>
<polyline points="1010.2,460.0 1011.0,505.2 1012.5,544.6 1014.0,561.0 1015.8,574.6" fill="none" stroke="#2f3338" stroke-width="1.3" stroke-linejoin="round" stroke-linecap="round"/>
<polyline points="1037.4,440.8 1038.0,485.6 1039.2,524.6 1040.7,540.8 1042.4,554.3" fill="none" stroke="#2f3338" stroke-width="1.3" stroke-linejoin="round" stroke-linecap="round"/>
<polyline points="1063.7,422.3 1064.1,466.6 1065.1,505.3 1066.5,521.4 1068.1,534.7" fill="none" stroke="#2f3338" stroke-width="1.3" stroke-linejoin="round" stroke-linecap="round"/>
<polyline points="1088.5,404.8 1088.6,448.8 1089.5,487.1 1090.8,503.0 1092.3,516.2" fill="none" stroke="#2f3338" stroke-width="1.3" stroke-linejoin="round" stroke-linecap="round"/>
<polyline points="1113.2,387.4 1113.2,431.0 1113.8,468.9 1115.0,484.7 1116.5,497.8" fill="none" stroke="#2f3338" stroke-width="1.3" stroke-linejoin="round" stroke-linecap="round"/>
<polyline points="1134.2,372.6 1133.9,415.9 1134.4,453.5 1135.6,469.2 1137.0,482.2" fill="none" stroke="#2f3338" stroke-width="1.3" stroke-linejoin="round" stroke-linecap="round"/>
<polyline points="1154.7,358.2 1154.3,401.0 1154.7,438.4 1155.7,453.9 1157.1,466.8" fill="none" stroke="#2f3338" stroke-width="1.3" stroke-linejoin="round" stroke-linecap="round"/>
<polyline points="1174.8,344.0 1174.3,386.5 1174.5,423.6 1175.5,439.0 1176.9,451.8" fill="none" stroke="#2f3338" stroke-width="1.3" stroke-linejoin="round" stroke-linecap="round"/>
<polyline points="1198.9,327.1 1198.1,369.2 1198.2,406.0 1199.1,421.2 1200.4,433.8" fill="none" stroke="#2f3338" stroke-width="1.3" stroke-linejoin="round" stroke-linecap="round"/>
<polyline points="1219.3,312.6 1218.4,354.4 1218.3,390.9 1219.2,406.0 1220.4,418.6" fill="none" stroke="#2f3338" stroke-width="1.3" stroke-linejoin="round" stroke-linecap="round"/>
<polyline points="1238.9,298.9 1237.9,340.3 1237.6,376.5 1238.4,391.5 1239.6,403.9" fill="none" stroke="#2f3338" stroke-width="1.3" stroke-linejoin="round" stroke-linecap="round"/>
<polyline points="1259.7,284.1 1258.6,325.3 1258.2,361.1 1259.0,376.0 1260.1,388.3" fill="none" stroke="#2f3338" stroke-width="1.3" stroke-linejoin="round" stroke-linecap="round"/>
<polyline points="1279.9,270.0 1278.5,310.7 1278.1,346.3 1278.8,361.0 1279.8,373.3" fill="none" stroke="#2f3338" stroke-width="1.3" stroke-linejoin="round" stroke-linecap="round"/>
<polyline points="1298.3,257.0 1296.8,297.4 1296.3,332.7 1296.9,347.3 1297.9,359.5" fill="none" stroke="#2f3338" stroke-width="1.3" stroke-linejoin="round" stroke-linecap="round"/>
<polyline points="1316.5,244.2 1314.9,284.3 1314.2,319.3 1314.8,333.8 1315.8,345.9" fill="none" stroke="#2f3338" stroke-width="1.3" stroke-linejoin="round" stroke-linecap="round"/>
<polyline points="1331.0,234.0 1329.3,273.8 1328.5,308.6 1329.1,323.0 1330.0,335.0" fill="none" stroke="#2f3338" stroke-width="1.3" stroke-linejoin="round" stroke-linecap="round"/>
<polyline points="1349.3,221.0 1347.5,260.6 1346.6,295.1 1347.1,309.4 1348.0,321.3" fill="none" stroke="#2f3338" stroke-width="1.3" stroke-linejoin="round" stroke-linecap="round"/>
<polyline points="1365.6,209.5 1363.8,248.8 1362.8,283.0 1363.3,297.2 1364.1,309.0" fill="none" stroke="#2f3338" stroke-width="1.3" stroke-linejoin="round" stroke-linecap="round"/>
<polyline points="1010.2,460.0 1011.0,505.2 1012.5,544.6 1014.0,561.0 1015.8,574.6 1019.8,589.1 1025.5,602.7 1033.6,615.3 1043.0,626.5 1051.7,636.6 1060.4,646.7 1069.1,656.9 1077.8,667.0 1085.0,682.3 1088.7,695.4" fill="none" stroke="#2f3338" stroke-width="1.3" stroke-linejoin="round" stroke-linecap="round"/>
<polyline points="1088.5,404.8 1088.6,448.8 1089.5,487.1 1090.8,503.0 1092.3,516.2 1096.0,530.3 1101.4,543.5 1109.3,555.6 1118.3,566.4 1126.6,576.1 1135.0,585.8 1143.3,595.5 1151.7,605.2 1158.5,620.0 1162.0,632.7" fill="none" stroke="#2f3338" stroke-width="1.3" stroke-linejoin="round" stroke-linecap="round"/>
<polyline points="1154.7,358.2 1154.3,401.0 1154.7,438.4 1155.7,453.9 1157.1,466.8 1160.6,480.6 1165.8,493.3 1173.3,505.1 1182.1,515.5 1190.1,524.8 1198.2,534.1 1206.2,543.5 1214.2,552.8 1220.8,567.2 1224.1,579.6" fill="none" stroke="#2f3338" stroke-width="1.3" stroke-linejoin="round" stroke-linecap="round"/>
<polyline points="1219.3,312.6 1218.4,354.4 1218.3,390.9 1219.2,406.0 1220.4,418.6 1223.7,431.9 1228.6,444.3 1235.9,455.7 1244.4,465.7 1252.1,474.7 1259.9,483.7 1267.6,492.7 1275.3,501.7 1281.6,515.6 1284.7,527.7" fill="none" stroke="#2f3338" stroke-width="1.3" stroke-linejoin="round" stroke-linecap="round"/>
<polyline points="1279.9,270.0 1278.5,310.7 1278.1,346.3 1278.8,361.0 1279.8,373.3 1282.9,386.3 1287.6,398.3 1294.7,409.4 1302.9,419.0 1310.3,427.7 1317.8,436.4 1325.2,445.0 1332.7,453.7 1338.7,467.2 1341.6,479.0" fill="none" stroke="#2f3338" stroke-width="1.3" stroke-linejoin="round" stroke-linecap="round"/>
<polyline points="1331.0,234.0 1329.3,273.8 1328.5,308.6 1329.1,323.0 1330.0,335.0 1332.9,347.7 1337.5,359.5 1344.3,370.2 1352.3,379.6 1359.5,388.0 1366.7,396.4 1373.9,404.8 1381.1,413.2 1386.9,426.3 1389.7,437.8" fill="none" stroke="#2f3338" stroke-width="1.3" stroke-linejoin="round" stroke-linecap="round"/>
<polygon points="970.0,489.0 971.2,534.8 984.9,524.8 983.9,479.2" fill="#faa01c" stroke="#faa01c" stroke-width="0.8" stroke-linejoin="round"/>
<polygon points="971.2,534.8 973.0,574.8 986.6,564.6 984.9,524.8" fill="#faa01c" stroke="#faa01c" stroke-width="0.8" stroke-linejoin="round"/>
<polygon points="973.0,574.8 974.7,591.4 988.2,581.1 986.6,564.6" fill="#fcae1c" stroke="#fcae1c" stroke-width="0.8" stroke-linejoin="round"/>
<polygon points="974.7,591.4 976.6,605.2 990.1,594.8 988.2,581.1" fill="#fdb61c" stroke="#fdb61c" stroke-width="0.8" stroke-linejoin="round"/>
<polygon points="976.6,605.2 980.7,620.0 994.2,609.5 990.1,594.8" fill="#fdbe1c" stroke="#fdbe1c" stroke-width="0.8" stroke-linejoin="round"/>
<polygon points="980.7,620.0 986.6,633.8 1000.0,623.3 994.2,609.5" fill="#fec51c" stroke="#fec51c" stroke-width="0.8" stroke-linejoin="round"/>
<polygon points="986.6,633.8 994.9,646.6 1008.3,636.0 1000.0,623.3" fill="#ffcb1c" stroke="#ffcb1c" stroke-width="0.8" stroke-linejoin="round"/>
<polygon points="994.9,646.6 1004.4,658.0 1017.7,647.3 1008.3,636.0" fill="#ffcc1c" stroke="#ffcc1c" stroke-width="0.8" stroke-linejoin="round"/>
<polygon points="1004.4,658.0 1013.1,668.3 1026.4,657.6 1017.7,647.3" fill="#ffcc1c" stroke="#ffcc1c" stroke-width="0.8" stroke-linejoin="round"/>
<polygon points="970.0,489.0 971.2,534.8 973.0,574.8 974.7,591.4 976.6,605.2 980.7,620.0 994.2,609.5 990.1,594.8 988.2,581.1 986.6,564.6 984.9,524.8 983.9,479.2" fill="url(#gb)"/>
<polyline points="983.9,479.2 984.9,524.8 986.6,564.6 988.2,581.1 990.1,594.8" fill="none" stroke="#2f3338" stroke-width="1.3" stroke-linejoin="round" stroke-linecap="round"/>
<polyline points="1006.0,660.3 1404.6,339.7" fill="none" stroke="#2f3338" stroke-width="1.2" stroke-linejoin="round" stroke-linecap="round"/>
<polyline points="1036.4,695.8 1429.7,367.9" fill="none" stroke="#2f3338" stroke-width="1.2" stroke-linejoin="round" stroke-linecap="round"/>
<polyline points="970.0,489.0 971.2,534.8 973.0,574.8 974.7,591.4 976.6,605.2 980.7,620.0 986.6,633.8 994.9,646.6 1004.4,658.0 1013.1,668.3 1021.9,678.6 1030.6,688.9 1039.3,699.2 1046.7,714.7 1050.6,728.0 1052.3,736.6 1053.6,753.4 1054.7,779.6 1055.1,816.7" fill="none" stroke="#111" stroke-width="1.5" stroke-linejoin="round" stroke-linecap="round"/>
<polyline points="1384.6,196.1 1382.6,235.1 1381.6,269.0 1382.0,283.1 1382.8,294.8 1385.5,307.2 1389.9,318.6 1396.5,329.0 1404.3,338.1 1411.2,346.2" fill="none" stroke="#111" stroke-width="1.2" stroke-linejoin="round" stroke-linecap="round"/>
<polygon points="952.1,483.2 962.4,479.5 960.7,477.2 970.9,473.5 969.2,471.2 979.4,467.6 977.7,465.3 987.8,461.7 986.1,459.4 996.1,455.8 994.4,453.6 1004.4,450.0 1002.6,447.8 1012.6,444.3 1010.8,442.1 1020.7,438.6 1019.0,436.4 1028.8,432.9 1027.0,430.8 1036.8,427.3 1035.0,425.2 1044.7,421.7 1043.0,419.6 1052.6,416.2 1050.8,414.1 1060.4,410.7 1058.7,408.6 1068.2,405.3 1066.4,403.2 1075.9,399.9 1074.1,397.8 1083.5,394.5 1081.7,392.5 1091.1,389.2 1089.3,387.2 1098.6,383.9 1096.8,381.9 1106.1,378.7 1104.3,376.7 1113.5,373.5 1111.7,371.5 1120.9,368.3 1119.0,366.4 1128.2,363.2 1126.3,361.3 1135.4,358.1 1133.6,356.2 1142.6,353.1 1140.8,351.2 1149.7,348.1 1147.9,346.2 1156.8,343.1 1155.0,341.2 1163.8,338.2 1162.0,336.3 1170.8,333.3 1169.0,331.4 1177.7,328.4 1175.9,326.6 1184.6,323.6 1182.8,321.8 1191.4,318.8 1189.6,317.0 1198.2,314.1 1196.4,312.3 1204.9,309.4 1203.1,307.6 1211.6,304.7 1209.8,302.9 1218.3,300.0 1216.4,298.2 1224.8,295.4 1223.0,293.6 1231.4,290.8 1229.5,289.1 1237.9,286.3 1236.0,284.5 1244.3,281.7 1242.5,280.0 1250.7,277.3 1248.8,275.5 1257.1,272.8 1255.2,271.1 1263.4,268.4 1261.5,266.7 1269.6,264.0 1267.8,262.3 1275.9,259.6 1274.0,257.9 1282.0,255.3 1280.2,253.6 1288.2,251.0 1286.3,249.3 1294.3,246.7 1292.4,245.1 1300.3,242.4 1298.5,240.8 1306.3,238.2 1304.5,236.6 1312.3,234.0 1310.4,232.4 1318.2,229.9 1316.4,228.3 1324.1,225.8 1322.3,224.2 1330.0,221.6 1328.1,220.1 1335.8,217.6 1333.9,216.0 1341.6,213.5 1339.7,212.0 1347.3,209.5 1345.4,208.0 1353.0,205.5 1351.1,204.0 1358.7,201.5 1356.8,200.0 1364.3,197.6 1362.4,196.1 1369.9,193.7 1368.0,192.2 1374.7,191.8 1380.8,195.2 1391.2,201.7 1382.0,202.9 1374.3,204.5 1377.9,206.7 1382.4,209.0 1374.0,209.3 1367.3,209.9 1369.8,211.9 1374.3,214.2 1366.0,214.3 1359.3,214.9 1363.1,217.5 1367.7,220.1 1358.4,220.5 1350.9,221.4 1353.8,223.9 1358.4,226.6 1348.9,227.1 1341.2,228.1 1344.3,230.5 1349.4,233.2 1339.7,233.5 1331.9,234.2 1335.4,236.4 1340.1,238.8 1331.6,238.8 1324.8,239.3 1328.9,241.7 1333.2,244.0 1325.2,244.2 1318.7,244.7 1321.1,246.8 1325.4,249.1 1317.1,249.3 1310.5,249.9 1313.7,252.7 1317.6,255.4 1308.3,256.3 1300.6,257.6 1303.8,260.2 1307.8,262.7 1299.0,263.3 1291.8,264.3 1294.4,266.7 1298.3,269.2 1289.7,269.7 1282.7,270.7 1283.3,272.9 1287.3,275.7 1277.9,276.5 1270.0,277.8 1273.2,280.4 1277.3,283.0 1268.4,283.5 1261.0,284.5 1264.2,287.5 1268.2,290.4 1258.4,291.3 1250.3,292.6 1252.8,295.1 1256.4,297.7 1247.9,298.3 1240.9,299.4 1243.4,302.0 1247.4,304.7 1238.3,305.3 1230.9,306.3 1233.7,309.0 1238.6,311.9 1228.7,312.2 1220.7,313.0 1223.1,315.9 1227.7,319.0 1217.4,319.6 1208.9,320.8 1213.1,323.7 1216.7,326.3 1208.4,326.8 1201.5,327.8 1202.2,330.3 1206.1,333.4 1196.0,334.4 1187.6,335.9 1190.5,339.0 1194.3,342.1 1184.5,343.0 1176.3,344.4 1180.3,347.6 1184.6,350.6 1174.8,351.2 1166.8,352.3 1168.8,354.7 1172.8,357.4 1164.0,357.9 1156.9,358.8 1159.4,361.4 1163.6,364.3 1154.3,364.7 1146.7,365.6 1150.3,368.7 1154.1,371.6 1144.8,372.3 1137.1,373.5 1139.5,376.0 1144.1,378.9 1134.7,379.1 1127.1,379.8 1128.9,382.6 1133.0,385.8 1122.9,386.5 1114.5,387.8 1117.0,391.2 1120.1,394.3 1110.3,395.6 1102.0,397.4 1104.8,400.5 1108.5,403.6 1099.0,404.3 1091.1,405.6 1092.3,408.2 1096.9,411.4 1086.6,411.9 1078.2,412.9 1081.4,416.6 1084.7,419.9 1074.5,421.2 1065.9,423.0 1068.7,426.3 1073.1,429.8 1062.3,430.5 1053.4,431.8 1055.4,435.2 1058.9,438.6 1048.4,439.8 1039.6,441.5 1041.1,444.5 1044.7,447.9 1034.5,448.9 1026.1,450.4 1029.6,454.4 1033.5,458.1 1022.3,459.2 1013.0,460.9 1014.3,464.2 1018.4,467.9 1007.3,468.9 998.0,470.4 1000.9,474.0 1004.2,477.3 994.4,478.4 986.1,479.9 984.1,479.3 982.4,483.1 970.6,489.2" fill="#cfcfcf" stroke="#111" stroke-width="1.7" stroke-linejoin="round"/>
<polygon points="1053.3,816.0 1070.2,822.5 1086.2,807.9 1069.4,801.4" fill="#cfcfcf" stroke="#111" stroke-width="1.2" stroke-linejoin="round"/>
<polygon points="1463.0,330.1 1070.7,654.8 1070.2,822.5 1074.3,810.5 1076.5,816.7 1080.7,804.7 1082.8,811.0 1087.0,799.0 1089.1,805.2 1093.2,793.3 1095.4,799.5 1099.5,787.7 1101.6,793.9 1105.6,782.1 1107.7,788.3 1111.8,776.5 1113.8,782.7 1117.9,771.0 1119.9,777.1 1124.0,765.4 1126.0,771.6 1130.0,760.0 1132.0,766.2 1136.0,754.5 1137.9,760.7 1142.0,749.1 1143.9,755.3 1147.9,743.8 1149.8,749.9 1153.8,738.4 1155.6,744.6 1159.6,733.1 1161.5,739.3 1165.4,727.8 1167.3,734.0 1171.2,722.6 1173.0,728.7 1176.9,717.4 1178.7,723.5 1182.6,712.2 1184.4,718.3 1188.3,707.0 1190.1,713.2 1194.0,701.9 1195.7,708.1 1199.6,696.8 1201.3,703.0 1205.1,691.8 1206.8,697.9 1210.7,686.8 1212.3,692.9 1216.2,681.8 1217.8,687.9 1221.6,676.8 1223.3,682.9 1227.1,671.9 1228.7,678.0 1232.5,667.0 1234.1,673.1 1237.9,662.1 1239.4,668.2 1243.2,657.2 1244.8,663.3 1248.5,652.4 1250.1,658.5 1253.8,647.6 1255.3,653.7 1259.1,642.8 1260.6,648.9 1264.3,638.1 1265.8,644.2 1269.5,633.4 1270.9,639.5 1274.6,628.7 1276.1,634.8 1279.8,624.1 1281.2,630.1 1284.9,619.4 1286.3,625.5 1289.9,614.8 1291.3,620.9 1295.0,610.2 1296.4,616.3 1300.0,605.7 1301.4,611.7 1305.0,601.2 1306.3,607.2 1309.9,596.7 1311.3,602.7 1314.9,592.2 1316.2,598.2 1319.8,587.7 1321.1,593.8 1324.6,583.3 1325.9,589.3 1329.5,578.9 1330.8,584.9 1334.3,574.5 1335.6,580.5 1339.1,570.2 1340.3,576.2 1343.9,565.9 1345.1,571.8 1348.6,561.6 1349.8,567.5 1353.3,557.3 1354.5,563.2 1358.0,553.0 1359.2,559.0 1362.7,548.8 1363.8,554.7 1367.3,544.6 1368.5,550.5 1371.9,540.4 1373.1,546.3 1376.5,536.2 1377.6,542.2 1381.1,532.1 1382.2,538.0 1385.6,528.0 1386.7,533.9 1390.1,523.9 1391.2,529.8 1394.6,519.8 1395.7,525.7 1399.1,515.8 1400.1,521.7 1403.5,511.7 1404.6,517.6 1407.9,507.7 1409.0,513.6 1412.3,503.7 1413.4,509.6 1416.7,499.8 1417.7,505.6 1421.1,495.8 1422.1,501.7 1425.4,491.9 1426.4,497.8 1429.7,488.0 1430.7,493.8 1434.0,484.1 1434.9,490.0 1438.2,480.2 1439.2,486.1 1442.5,476.4 1443.4,482.2 1446.7,472.6 1447.6,478.4 1450.9,468.8 1451.8,474.6 1451.8,474.6" fill="#41240f" stroke="#1a0d05" stroke-width="1.0" stroke-linejoin="round"/>
<polygon points="1071.1,566.5 1070.7,657.9 1078.3,651.6 1078.7,581.5" fill="#41240f" stroke="#1a0d05" stroke-width="1.0" stroke-linejoin="round"/>
<polyline points="1122.8,765.9 1125.0,612.9" fill="none" stroke="#4d5358" stroke-width="1.3" stroke-linejoin="round" stroke-linecap="round"/>
<polyline points="1165.4,727.3 1168.9,576.5" fill="none" stroke="#4d5358" stroke-width="1.3" stroke-linejoin="round" stroke-linecap="round"/>
<polyline points="1206.2,690.3 1210.8,541.8" fill="none" stroke="#4d5358" stroke-width="1.3" stroke-linejoin="round" stroke-linecap="round"/>
<polyline points="1245.2,654.9 1250.9,508.5" fill="none" stroke="#4d5358" stroke-width="1.3" stroke-linejoin="round" stroke-linecap="round"/>
<polyline points="1282.6,620.9 1289.3,476.7" fill="none" stroke="#4d5358" stroke-width="1.3" stroke-linejoin="round" stroke-linecap="round"/>
<polyline points="1318.6,588.3 1326.1,446.1" fill="none" stroke="#4d5358" stroke-width="1.3" stroke-linejoin="round" stroke-linecap="round"/>
<polyline points="1353.1,557.0 1361.4,416.9" fill="none" stroke="#4d5358" stroke-width="1.3" stroke-linejoin="round" stroke-linecap="round"/>
<polyline points="1386.2,526.9 1395.3,388.8" fill="none" stroke="#4d5358" stroke-width="1.3" stroke-linejoin="round" stroke-linecap="round"/>
<polyline points="1418.1,498.0 1427.9,361.8" fill="none" stroke="#4d5358" stroke-width="1.3" stroke-linejoin="round" stroke-linecap="round"/>
<polyline points="1448.8,470.1 1459.2,335.8" fill="none" stroke="#4d5358" stroke-width="1.3" stroke-linejoin="round" stroke-linecap="round"/>
<polygon points="1070.8,645.3 1084.9,653.4 1475.7,327.9 1463.6,322.0" fill="#fbae1c" stroke="#fbae1c" stroke-width="0.8" stroke-linejoin="round"/>
<polygon points="1084.9,653.4 1093.5,675.8 1481.9,346.4 1475.7,327.9" fill="#fdb71c" stroke="#fdb71c" stroke-width="0.8" stroke-linejoin="round"/>
<polygon points="1093.5,675.8 1105.9,689.3 1492.2,357.0 1481.9,346.4" fill="#fec21c" stroke="#fec21c" stroke-width="0.8" stroke-linejoin="round"/>
<polygon points="1105.9,689.3 1119.1,701.4 1503.2,366.4 1492.2,357.0" fill="#ffc81c" stroke="#ffc81c" stroke-width="0.8" stroke-linejoin="round"/>
<polygon points="1119.1,701.4 1125.5,707.8 1508.5,371.3 1503.2,366.4" fill="#ffc81c" stroke="#ffc81c" stroke-width="0.8" stroke-linejoin="round"/>
<polygon points="1125.5,707.8 1131.9,714.2 1513.7,376.3 1508.5,371.3" fill="#ffc81c" stroke="#ffc81c" stroke-width="0.8" stroke-linejoin="round"/>
<polygon points="1131.9,714.2 1138.3,720.6 1519.0,381.3 1513.7,376.3" fill="#ffc81c" stroke="#ffc81c" stroke-width="0.8" stroke-linejoin="round"/>
<polygon points="1138.3,720.6 1144.7,727.0 1524.3,386.3 1519.0,381.3" fill="#ffc81c" stroke="#ffc81c" stroke-width="0.8" stroke-linejoin="round"/>
<polygon points="1144.7,727.0 1152.7,747.1 1530.3,402.9 1524.3,386.3" fill="#ffc81c" stroke="#ffc81c" stroke-width="0.8" stroke-linejoin="round"/>
<polygon points="1152.7,747.1 1157.4,765.3 1533.3,418.2 1530.3,402.9" fill="#febf1a" stroke="#febf1a" stroke-width="0.8" stroke-linejoin="round"/>
<polygon points="1157.4,765.3 1159.0,789.8 1533.3,439.1 1533.3,418.2" fill="#fcb51a" stroke="#fcb51a" stroke-width="0.8" stroke-linejoin="round"/>
<polygon points="1159.0,789.8 1159.8,826.9 1176.9,810.5 1176.2,773.7" fill="#faa519" stroke="#faa519" stroke-width="0.8" stroke-linejoin="round"/>
<polygon points="1159.8,826.9 1159.9,857.4 1176.9,840.9 1176.9,810.5" fill="#faa519" stroke="#faa519" stroke-width="0.8" stroke-linejoin="round"/>
<polygon points="1073.1,652.4 1073.4,594.1 1074.9,612.5 1076.7,577.3 1078.2,605.6 1080.0,571.3 1081.5,601.5 1083.2,590.8 1084.8,589.3 1086.5,571.3 1088.0,596.9 1089.7,576.6 1091.3,582.2 1093.1,561.8 1094.4,599.2 1096.2,567.3 1097.8,573.9 1099.4,569.8 1100.8,593.5 1102.5,573.8 1103.9,592.2 1105.7,572.3 1107.2,579.5 1109.2,539.2 1110.5,564.8 1112.4,536.7 1113.5,576.6 1115.5,541.9 1116.5,582.2 1118.7,536.5 1119.7,574.3 1121.8,538.0 1122.9,571.4 1124.8,541.5 1126.0,564.6 1128.0,534.7 1129.1,565.4 1130.9,547.0 1132.3,557.0 1134.3,524.2 1135.3,559.0 1137.5,515.1 1138.4,555.0 1140.3,532.6 1141.4,554.0 1143.7,510.2 1144.5,553.8 1146.6,519.7 1147.6,545.5 1149.9,504.7 1150.4,555.2 1152.9,502.3 1153.6,545.1 1155.9,506.1 1156.5,546.4 1158.8,506.9 1159.6,540.7 1161.5,522.6 1162.5,542.1 1164.4,520.7 1165.9,521.5 1167.7,508.6 1168.5,533.9 1170.9,493.9 1171.6,526.0 1173.8,496.5 1174.4,529.9 1176.4,510.5 1177.3,531.0 1179.4,503.2 1180.4,522.1 1182.7,490.5 1183.3,520.2 1185.4,497.0 1186.1,522.5 1188.3,494.3 1189.3,511.5 1191.0,500.8 1192.3,504.1 1194.6,471.8 1195.1,506.4 1197.0,490.3 1198.3,494.2 1199.7,494.3 1200.6,511.0 1203.2,470.0 1203.9,493.5 1205.7,481.2 1206.2,508.7 1208.8,469.9 1209.3,500.4 1211.9,460.4 1211.9,504.9 1214.4,468.9 1214.8,500.1 1217.7,452.7 1218.3,478.1 1220.2,462.7 1220.9,482.7 1223.3,450.5 1223.9,475.4 1225.3,474.0 1226.2,487.0 1228.8,449.1 1228.9,486.2 1231.2,459.2 1232.3,466.7 1234.1,455.4 1234.7,474.4 1236.6,461.5 1237.1,482.5 1240.1,436.5 1240.4,465.3 1242.0,460.2 1243.3,459.1 1245.7,432.4 1245.5,471.5 1248.4,430.8 1248.1,474.0 1250.3,449.8 1251.5,453.8 1253.4,438.3 1253.8,462.9 1255.9,443.7 1256.3,465.4 1258.4,445.6 1259.2,457.6 1261.5,432.8 1261.6,464.2 1264.6,422.8 1264.3,461.9 1266.4,440.4 1267.7,440.6 1269.4,430.5 1269.6,456.6 1272.1,427.8 1272.3,453.5 1274.4,434.7 1275.8,432.0 1277.0,433.7 1278.2,435.6 1280.2,419.6 1280.3,445.7 1283.5,403.3 1283.3,436.7 1284.9,428.6 1285.7,437.8 1288.3,407.9 1288.4,434.7 1290.5,416.2 1290.9,434.9 1293.1,414.0 1293.6,429.3 1296.8,389.1 1296.7,416.7 1298.7,402.1 1299.3,415.4 1300.7,412.4 1301.6,419.5 1304.3,389.0 1303.7,426.1 1306.4,395.3 1306.6,418.0 1308.3,408.0 1309.7,405.2 1311.3,397.4 1311.7,412.7 1313.3,406.7 1314.2,411.8 1316.5,391.0 1317.2,401.4 1318.4,401.2 1319.7,399.2 1321.1,395.1 1322.2,398.1 1324.6,374.6 1324.4,401.7 1326.4,385.8 1326.7,403.2 1329.5,373.7 1329.1,403.0 1330.9,391.2 1332.0,393.3 1334.5,368.4 1334.0,401.2 1336.2,382.4 1337.2,384.9 1338.9,376.1 1338.6,402.1 1342.3,357.5 1341.3,396.3 1343.9,370.8 1344.2,386.7 1346.5,366.3 1346.2,392.8 1348.5,371.9 1349.0,384.2 1350.8,373.4 1351.9,373.1 1353.4,367.2 1353.4,388.5 1355.7,367.8 1355.8,385.5 1359.5,342.6 1358.6,378.1 1361.6,345.7 1361.5,367.1 1362.8,365.0 1363.6,369.9 1366.6,339.8 1365.5,376.9 1369.2,334.4 1368.3,368.0 1370.8,345.7 1371.3,355.6 1372.5,354.5 1373.6,355.1 1375.0,350.4 1375.4,361.7 1377.0,354.0 1377.5,364.4 1379.7,346.8 1380.4,353.0 1383.5,321.4 1381.9,365.4 1384.0,348.9 1385.0,351.9 1388.2,318.1 1387.7,343.1 1390.3,319.9 1389.7,346.6 1392.1,327.0 1391.0,360.9 1395.1,314.0 1394.1,346.5 1396.5,326.8 1395.6,357.1 1398.2,334.2 1398.4,347.9 1402.1,307.6 1401.1,339.4 1403.9,314.0 1403.0,343.4 1406.3,311.0 1405.0,345.4 1407.6,323.5 1407.8,336.2 1409.6,325.1 1410.6,326.6 1412.1,321.0 1412.3,333.7 1415.8,297.8 1414.3,334.6 1417.3,307.2 1417.1,325.6 1419.2,309.8 1418.7,333.4 1421.7,305.3 1421.7,319.4 1423.7,307.0 1423.8,320.2 1425.5,310.1 1425.5,325.0 1429.3,287.0 1427.3,330.4 1431.5,286.1 1429.4,329.0 1433.4,287.5 1432.2,320.0 1435.4,289.2 1434.1,321.5 1436.5,303.6 1436.1,322.8 1438.3,307.0 1438.7,314.7 1440.5,304.2 1440.8,315.0 1444.6,276.9 1443.6,304.0 1445.7,289.2 1444.7,317.3 1447.1,298.8 1448.4,294.0 1450.1,285.1 1449.9,301.1 1453.0,274.2 1452.1,299.0 1455.2,272.1 1454.2,298.4 1456.7,278.3 1456.2,299.1 1459.8,264.6 1459.2,285.6 1460.8,278.3 1460.0,301.0 1464.2,260.1 1462.3,297.6 1465.8,264.7 1464.3,297.0 1467.6,266.8 1466.6,293.5 1465.3,327.9" fill="#f18c1e"/>
<path d="M1071.6 636.0L1072.8 585.6L1077.2 631.5ZM1071.6 636.0L1075.6 583.9L1080.0 629.2ZM1074.4 633.8L1078.5 574.4L1082.7 626.9ZM1077.2 631.5L1081.4 552.4L1085.5 624.7ZM1080.0 629.2L1084.1 566.4L1088.3 622.4ZM1082.7 626.9L1086.9 564.1L1091.0 620.1ZM1085.5 624.7L1089.7 560.3L1093.8 617.9ZM1088.3 622.4L1092.4 567.7L1096.5 615.7ZM1091.0 620.1L1095.3 552.1L1099.2 613.4ZM1093.8 617.9L1098.1 546.9L1101.9 611.2ZM1096.5 615.7L1100.7 553.2L1104.7 609.0ZM1099.2 613.4L1103.5 550.4L1107.4 606.8ZM1101.9 611.2L1106.2 557.0L1110.1 604.6ZM1104.7 609.0L1108.9 557.2L1112.8 602.4ZM1107.4 606.8L1111.6 549.6L1115.4 600.2ZM1110.1 604.6L1114.4 542.7L1118.1 598.0ZM1112.8 602.4L1117.0 548.7L1120.8 595.8ZM1115.4 600.2L1119.8 540.3L1123.4 593.6ZM1118.1 598.0L1122.5 535.3L1126.1 591.4ZM1120.8 595.8L1125.2 531.4L1128.7 589.3ZM1123.4 593.6L1128.1 515.9L1131.4 587.1ZM1126.1 591.4L1130.6 527.5L1134.0 584.9ZM1128.7 589.3L1133.1 534.3L1136.6 582.8ZM1131.4 587.1L1135.8 528.9L1139.3 580.7ZM1134.0 584.9L1138.5 523.5L1141.9 578.5ZM1136.6 582.8L1141.2 518.7L1144.5 576.4ZM1139.3 580.7L1143.8 519.7L1147.1 574.3ZM1141.9 578.5L1146.4 518.4L1149.7 572.1ZM1144.5 576.4L1149.3 503.2L1152.2 570.0ZM1147.1 574.3L1151.8 507.3L1154.8 567.9ZM1149.7 572.1L1154.5 498.7L1157.4 565.8ZM1152.2 570.0L1156.8 515.7L1159.9 563.7ZM1154.8 567.9L1159.6 501.1L1162.5 561.6ZM1157.4 565.8L1162.1 503.9L1165.1 559.5ZM1159.9 563.7L1164.6 505.9L1167.6 557.5ZM1162.5 561.6L1167.0 510.6L1170.1 555.4ZM1165.1 559.5L1170.1 487.5L1172.7 553.3ZM1167.6 557.5L1172.7 481.1L1175.2 551.3ZM1170.1 555.4L1175.1 485.1L1177.7 549.2ZM1172.7 553.3L1177.4 494.5L1180.2 547.1ZM1175.2 551.3L1180.2 480.4L1182.7 545.1ZM1177.7 549.2L1182.3 498.9L1185.2 543.1ZM1180.2 547.1L1184.8 496.6L1187.7 541.0ZM1182.7 545.1L1187.5 485.8L1190.2 539.0ZM1185.2 543.1L1190.2 478.5L1192.6 537.0ZM1187.7 541.0L1192.7 475.5L1195.1 534.9ZM1190.2 539.0L1195.0 482.6L1197.6 532.9ZM1192.6 537.0L1197.7 472.0L1200.0 530.9ZM1195.1 534.9L1200.0 475.8L1202.5 528.9ZM1197.6 532.9L1202.3 479.6L1204.9 526.9ZM1200.0 530.9L1204.8 478.8L1207.3 524.9ZM1202.5 528.9L1207.3 473.9L1209.8 522.9ZM1204.9 526.9L1210.3 455.9L1212.2 520.9ZM1207.3 524.9L1212.2 469.2L1214.6 519.0ZM1209.8 522.9L1215.3 447.9L1217.0 517.0ZM1212.2 520.9L1217.0 468.8L1219.4 515.0ZM1214.6 519.0L1220.1 446.0L1221.8 513.1ZM1217.0 517.0L1222.5 446.3L1224.2 511.1ZM1219.4 515.0L1224.3 462.3L1226.6 509.2ZM1221.8 513.1L1226.8 459.2L1229.0 507.2ZM1224.2 511.1L1229.7 441.0L1231.4 505.3ZM1226.6 509.2L1231.6 453.5L1233.7 503.3ZM1229.0 507.2L1233.8 456.4L1236.1 501.4ZM1231.4 505.3L1236.7 442.3L1238.4 499.5ZM1233.7 503.3L1238.6 451.4L1240.8 497.5ZM1236.1 501.4L1241.0 451.4L1243.1 495.6ZM1238.4 499.5L1243.8 435.8L1245.5 493.7ZM1240.8 497.5L1246.5 425.7L1247.8 491.8ZM1243.1 495.6L1248.1 442.9L1250.1 489.9ZM1245.5 493.7L1251.1 424.8L1252.4 488.0ZM1247.8 491.8L1253.2 428.5L1254.8 486.1ZM1250.1 489.9L1256.0 416.1L1257.1 484.2ZM1252.4 488.0L1257.6 432.1L1259.4 482.3ZM1254.8 486.1L1260.0 429.8L1261.7 480.5ZM1257.1 484.2L1262.5 422.6L1263.9 478.6ZM1259.4 482.3L1264.5 429.2L1266.2 476.7ZM1261.7 480.5L1266.9 425.4L1268.5 474.8ZM1263.9 478.6L1269.0 427.9L1270.8 473.0ZM1266.2 476.7L1272.0 408.7L1273.0 471.1ZM1268.5 474.8L1273.9 415.9L1275.3 469.3ZM1270.8 473.0L1275.9 422.0L1277.6 467.4ZM1273.0 471.1L1278.9 401.7L1279.8 465.6ZM1275.3 469.3L1280.5 416.7L1282.0 463.8ZM1277.6 467.4L1282.6 419.0L1284.3 461.9ZM1279.8 465.6L1285.3 406.5L1286.5 460.1ZM1282.0 463.8L1287.7 400.9L1288.7 458.3ZM1284.3 461.9L1289.9 401.7L1291.0 456.5ZM1286.5 460.1L1292.3 397.0L1293.2 454.6ZM1288.7 458.3L1294.9 385.7L1295.4 452.8ZM1291.0 456.5L1296.9 389.5L1297.6 451.0ZM1293.2 454.6L1298.9 393.0L1299.8 449.2ZM1295.4 452.8L1300.7 401.0L1302.0 447.4ZM1297.6 451.0L1303.7 382.9L1304.2 445.7ZM1299.8 449.2L1304.9 400.5L1306.4 443.9ZM1302.0 447.4L1307.5 392.0L1308.5 442.1ZM1304.2 445.7L1310.0 384.3L1310.7 440.3ZM1306.4 443.9L1312.6 374.0L1312.9 438.5ZM1308.5 442.1L1314.0 387.0L1315.0 436.8ZM1310.7 440.3L1316.0 388.9L1317.2 435.0ZM1312.9 438.5L1318.8 376.3L1319.3 433.2ZM1315.0 436.8L1321.1 370.9L1321.5 431.5ZM1317.2 435.0L1322.7 381.3L1323.6 429.7ZM1319.3 433.2L1325.1 374.7L1325.8 428.0ZM1321.5 431.5L1327.5 368.1L1327.9 426.2ZM1323.6 429.7L1329.5 370.0L1330.0 424.5ZM1325.8 428.0L1332.2 356.6L1332.1 422.8ZM1327.9 426.2L1333.3 375.5L1334.2 421.0ZM1330.0 424.5L1336.2 358.5L1336.3 419.3ZM1332.1 422.8L1337.4 374.7L1338.4 417.6ZM1334.2 421.0L1339.8 367.1L1340.5 415.9ZM1336.3 419.3L1342.7 352.9L1342.6 414.2ZM1338.4 417.6L1344.3 359.1L1344.7 412.5ZM1340.5 415.9L1347.0 348.1L1346.8 410.7ZM1342.6 414.2L1348.7 353.7L1348.9 409.0ZM1344.7 412.5L1351.0 348.0L1351.0 407.3ZM1346.8 410.7L1352.3 359.4L1353.0 405.7ZM1348.9 409.0L1354.8 351.8L1355.1 404.0ZM1351.0 407.3L1356.8 350.4L1357.1 402.3ZM1353.0 405.7L1358.7 353.1L1359.2 400.6ZM1355.1 404.0L1361.0 347.6L1361.2 398.9ZM1357.1 402.3L1363.3 341.4L1363.3 397.3ZM1359.2 400.6L1365.7 333.4L1365.3 395.6ZM1361.2 398.9L1368.0 328.7L1367.4 393.9ZM1363.3 397.3L1368.7 349.4L1369.4 392.3ZM1365.3 395.6L1371.2 341.3L1371.4 390.6ZM1367.4 393.9L1373.1 341.4L1373.4 389.0ZM1369.4 392.3L1375.1 340.9L1375.4 387.3ZM1371.4 390.6L1377.3 335.1L1377.5 385.7ZM1373.4 389.0L1379.2 336.4L1379.5 384.0ZM1375.4 387.3L1381.9 323.9L1381.5 382.4ZM1377.5 385.7L1383.4 330.3L1383.5 380.7ZM1379.5 384.0L1386.1 318.6L1385.4 379.1ZM1381.5 382.4L1387.2 330.3L1387.4 377.5ZM1383.5 380.7L1390.2 313.1L1389.4 375.9ZM1385.4 379.1L1391.0 331.2L1391.4 374.3ZM1387.4 377.5L1393.7 318.2L1393.4 372.6ZM1389.4 375.9L1395.0 328.1L1395.3 371.0ZM1391.4 374.3L1397.1 324.2L1397.3 369.4ZM1393.4 372.6L1399.9 309.4L1399.2 367.8ZM1395.3 371.0L1402.3 301.9L1401.2 366.2ZM1397.3 369.4L1403.2 316.2L1403.1 364.6ZM1399.2 367.8L1404.7 321.7L1405.1 363.0ZM1401.2 366.2L1407.9 301.7L1407.0 361.5ZM1403.1 364.6L1409.5 305.1L1409.0 359.9ZM1405.1 363.0L1410.6 317.5L1410.9 358.3ZM1407.0 361.5L1413.0 308.7L1412.8 356.7ZM1409.0 359.9L1415.2 303.9L1414.7 355.1ZM1410.9 358.3L1416.4 312.9L1416.6 353.6ZM1412.8 356.7L1418.4 310.3L1418.6 352.0ZM1414.7 355.1L1421.2 296.2L1420.5 350.4ZM1416.6 353.6L1423.5 289.1L1422.4 348.9ZM1418.6 352.0L1424.5 300.0L1424.3 347.3ZM1420.5 350.4L1426.0 305.3L1426.2 345.8ZM1422.4 348.9L1428.6 293.9L1428.1 344.2ZM1424.3 347.3L1431.0 285.7L1429.9 342.7ZM1426.2 345.8L1432.9 284.2L1431.8 341.2ZM1428.1 344.2L1435.2 276.2L1433.7 339.6ZM1429.9 342.7L1436.7 281.2L1435.6 338.1ZM1431.8 341.2L1438.5 281.0L1437.4 336.6ZM1433.7 339.6L1439.3 293.9L1439.3 335.0ZM1435.6 338.1L1442.2 279.0L1441.2 333.5ZM1437.4 336.6L1444.5 271.3L1443.0 332.0ZM1439.3 335.0L1445.6 280.1L1444.9 330.5ZM1441.2 333.5L1447.1 283.7L1446.7 329.0ZM1443.0 332.0L1450.0 268.8L1448.6 327.5ZM1444.9 330.5L1451.7 269.7L1450.4 325.9ZM1446.7 329.0L1453.2 273.0L1452.2 324.4ZM1448.6 327.5L1454.1 283.5L1454.1 322.9ZM1450.4 325.9L1456.6 273.0L1455.9 321.5ZM1452.2 324.4L1458.4 271.9L1457.7 320.0ZM1454.1 322.9L1460.9 263.1L1459.5 318.5ZM1455.9 321.5L1463.1 256.8L1461.3 317.0ZM1457.7 320.0L1464.1 265.5L1463.1 315.5ZM1459.5 318.5L1466.9 251.5L1465.0 314.0ZM1461.3 317.0L1467.9 260.6L1465.0 314.0Z" fill="#f18c1e"/>
<polyline points="1081.4,557.3 1081.5,593.0" fill="none" stroke="#2f3338" stroke-width="2.4" stroke-linejoin="round" stroke-linecap="round"/>
<polyline points="1128.1,520.7 1127.9,555.8" fill="none" stroke="#2f3338" stroke-width="2.4" stroke-linejoin="round" stroke-linecap="round"/>
<polyline points="1172.6,485.8 1172.2,520.4" fill="none" stroke="#2f3338" stroke-width="2.4" stroke-linejoin="round" stroke-linecap="round"/>
<polyline points="1215.1,452.5 1214.5,486.5" fill="none" stroke="#2f3338" stroke-width="2.4" stroke-linejoin="round" stroke-linecap="round"/>
<polyline points="1255.8,420.7 1254.9,454.1" fill="none" stroke="#2f3338" stroke-width="2.4" stroke-linejoin="round" stroke-linecap="round"/>
<polyline points="1294.7,390.2 1293.6,423.1" fill="none" stroke="#2f3338" stroke-width="2.4" stroke-linejoin="round" stroke-linecap="round"/>
<polyline points="1332.0,361.0 1330.6,393.5" fill="none" stroke="#2f3338" stroke-width="2.4" stroke-linejoin="round" stroke-linecap="round"/>
<polyline points="1367.7,333.1 1366.2,365.0" fill="none" stroke="#2f3338" stroke-width="2.4" stroke-linejoin="round" stroke-linecap="round"/>
<polyline points="1402.0,306.2 1400.3,337.7" fill="none" stroke="#2f3338" stroke-width="2.4" stroke-linejoin="round" stroke-linecap="round"/>
<polyline points="1434.9,280.5 1433.1,311.4" fill="none" stroke="#2f3338" stroke-width="2.4" stroke-linejoin="round" stroke-linecap="round"/>
<polyline points="1466.6,255.7 1464.6,286.2" fill="none" stroke="#2f3338" stroke-width="2.4" stroke-linejoin="round" stroke-linecap="round"/>
<polyline points="1126.5,599.4 1140.3,607.2 1148.6,629.1 1160.7,642.2 1173.6,653.9 1179.8,660.0 1186.1,666.2 1192.3,672.4 1198.6,678.6 1206.3,698.2 1210.7,716.1 1212.1,740.1 1212.5,776.5 1212.3,806.4" fill="none" stroke="#2f3338" stroke-width="1.5" stroke-linejoin="round" stroke-linecap="round"/>
<polyline points="1170.4,563.3 1184.0,570.8 1192.0,592.2 1203.9,605.0 1216.5,616.4 1222.7,622.4 1228.8,628.5 1234.9,634.5 1241.0,640.5 1248.5,659.7 1252.7,677.3 1253.9,700.9 1254.0,736.7 1253.5,766.3" fill="none" stroke="#2f3338" stroke-width="1.5" stroke-linejoin="round" stroke-linecap="round"/>
<polyline points="1212.4,528.8 1225.8,536.0 1233.5,557.1 1245.1,569.5 1257.6,580.6 1263.6,586.5 1269.6,592.4 1275.6,598.2 1281.6,604.1 1288.8,623.0 1292.9,640.2 1293.9,663.5 1293.7,698.8 1293.0,727.9" fill="none" stroke="#2f3338" stroke-width="1.5" stroke-linejoin="round" stroke-linecap="round"/>
<polyline points="1252.5,495.7 1265.7,502.8 1273.2,523.4 1284.6,535.6 1296.8,546.4 1302.7,552.1 1308.6,557.8 1314.5,563.6 1320.4,569.3 1327.4,587.8 1331.3,604.7 1332.1,627.6 1331.6,662.4 1330.8,691.1" fill="none" stroke="#2f3338" stroke-width="1.5" stroke-linejoin="round" stroke-linecap="round"/>
<polyline points="1290.9,464.1 1303.9,470.9 1311.2,491.2 1322.4,503.1 1334.4,513.6 1340.2,519.2 1345.9,524.8 1351.7,530.4 1357.5,536.0 1364.3,554.1 1368.1,570.8 1368.7,593.3 1368.0,627.6 1367.0,655.9" fill="none" stroke="#2f3338" stroke-width="1.5" stroke-linejoin="round" stroke-linecap="round"/>
<polyline points="1327.8,433.8 1340.6,440.4 1347.6,460.3 1358.6,471.9 1370.4,482.2 1376.1,487.7 1381.7,493.1 1387.4,498.6 1393.1,504.1 1399.7,521.9 1403.3,538.2 1403.8,560.4 1402.9,594.2 1401.7,622.1" fill="none" stroke="#2f3338" stroke-width="1.5" stroke-linejoin="round" stroke-linecap="round"/>
<polyline points="1363.1,404.7 1375.7,411.2 1382.5,430.7 1393.3,442.0 1404.9,452.1 1410.5,457.4 1416.1,462.7 1421.6,468.1 1427.2,473.4 1433.7,490.9 1437.1,507.0 1437.4,528.9 1436.4,562.2 1435.0,589.7" fill="none" stroke="#2f3338" stroke-width="1.5" stroke-linejoin="round" stroke-linecap="round"/>
<polyline points="1397.0,376.8 1409.4,383.1 1416.1,402.3 1426.7,413.4 1438.1,423.2 1443.5,428.4 1449.0,433.6 1454.5,438.8 1460.0,444.0 1466.3,461.2 1469.6,477.0 1469.8,498.6 1468.5,531.4 1467.0,558.5" fill="none" stroke="#2f3338" stroke-width="1.5" stroke-linejoin="round" stroke-linecap="round"/>
<polyline points="1429.6,350.0 1441.8,356.1 1448.3,374.9 1458.7,385.8 1469.9,395.4 1475.3,400.5 1480.7,405.6 1486.1,410.7 1491.5,415.8 1497.6,432.7 1500.7,448.2 1500.8,469.5 1499.4,501.8 1497.8,528.6" fill="none" stroke="#2f3338" stroke-width="1.5" stroke-linejoin="round" stroke-linecap="round"/>
<polyline points="1460.9,324.2 1473.0,330.1 1479.3,348.7 1489.5,359.3 1500.5,368.7 1505.8,373.7 1511.1,378.7 1516.4,383.7 1521.7,388.7 1527.7,405.3 1530.7,420.6 1530.7,441.5 1529.2,473.4 1527.4,499.8" fill="none" stroke="#2f3338" stroke-width="1.5" stroke-linejoin="round" stroke-linecap="round"/>
<polyline points="1117.7,626.0 1126.1,648.1 1138.4,661.4 1151.4,673.2 1157.7,679.5 1164.0,685.8 1170.3,692.1 1176.6,698.3 1184.5,718.1 1189.0,736.1 1190.5,760.4 1191.0,797.0 1190.9,827.2" fill="none" stroke="#2f3338" stroke-width="1.5" stroke-linejoin="round" stroke-linecap="round"/>
<polyline points="1162.4,588.8 1170.5,610.4 1182.5,623.4 1195.3,634.9 1201.5,641.0 1207.7,647.1 1213.9,653.2 1220.0,659.4 1227.7,678.8 1232.0,696.4 1233.2,720.3 1233.5,756.4 1233.1,786.1" fill="none" stroke="#2f3338" stroke-width="1.5" stroke-linejoin="round" stroke-linecap="round"/>
<polyline points="1205.1,553.2 1213.0,574.5 1224.7,587.1 1237.3,598.3 1243.3,604.2 1249.4,610.2 1255.5,616.2 1261.5,622.1 1268.9,641.1 1273.0,658.5 1274.1,682.0 1274.0,717.5 1273.5,746.8" fill="none" stroke="#2f3338" stroke-width="1.5" stroke-linejoin="round" stroke-linecap="round"/>
<polyline points="1246.0,519.2 1253.5,540.1 1265.1,552.4 1277.4,563.3 1283.3,569.1 1289.3,574.9 1295.2,580.7 1301.2,586.5 1308.3,605.2 1312.3,622.3 1313.2,645.4 1312.9,680.4 1312.1,709.3" fill="none" stroke="#2f3338" stroke-width="1.5" stroke-linejoin="round" stroke-linecap="round"/>
<polyline points="1285.0,486.7 1292.4,507.1 1303.7,519.1 1315.8,529.8 1321.6,535.5 1327.5,541.1 1333.3,546.8 1339.2,552.5 1346.1,570.8 1349.9,587.6 1350.6,610.3 1350.0,644.8 1349.1,673.3" fill="none" stroke="#2f3338" stroke-width="1.5" stroke-linejoin="round" stroke-linecap="round"/>
<polyline points="1322.4,455.5 1329.6,475.6 1340.7,487.3 1352.6,497.7 1358.3,503.3 1364.0,508.8 1369.8,514.3 1375.5,519.9 1382.2,537.8 1385.9,554.3 1386.4,576.7 1385.6,610.7 1384.5,638.8" fill="none" stroke="#2f3338" stroke-width="1.5" stroke-linejoin="round" stroke-linecap="round"/>
<polyline points="1358.3,425.6 1365.2,445.3 1376.1,456.8 1387.8,467.0 1393.4,472.4 1399.1,477.8 1404.7,483.2 1410.3,488.6 1416.9,506.2 1420.4,522.4 1420.8,544.5 1419.8,578.0 1418.5,605.7" fill="none" stroke="#2f3338" stroke-width="1.5" stroke-linejoin="round" stroke-linecap="round"/>
<polyline points="1392.7,397.0 1399.5,416.3 1410.2,427.6 1421.7,437.5 1427.2,442.7 1432.7,448.0 1438.2,453.3 1443.8,458.6 1450.1,475.9 1453.5,491.9 1453.8,513.6 1452.6,546.6 1451.2,573.9" fill="none" stroke="#2f3338" stroke-width="1.5" stroke-linejoin="round" stroke-linecap="round"/>
<polyline points="1425.8,369.4 1432.3,388.5 1442.9,399.4 1454.1,409.1 1459.6,414.3 1465.0,419.4 1470.4,424.6 1475.9,429.8 1482.1,446.8 1485.3,462.5 1485.5,483.9 1484.1,516.5 1482.6,543.4" fill="none" stroke="#2f3338" stroke-width="1.5" stroke-linejoin="round" stroke-linecap="round"/>
<polyline points="1457.6,343.0 1463.9,361.7 1474.3,372.4 1485.4,381.9 1490.7,386.9 1496.0,392.0 1501.4,397.0 1506.7,402.1 1512.8,418.8 1515.9,434.3 1515.9,455.4 1514.4,487.5 1512.7,514.0" fill="none" stroke="#2f3338" stroke-width="1.5" stroke-linejoin="round" stroke-linecap="round"/>
<polyline points="1120.8,703.1 1504.6,367.7" fill="none" stroke="#2f3338" stroke-width="1.2" stroke-linejoin="round" stroke-linecap="round"/>
<polygon points="1071.0,568.1 1071.0,568.1 1073.0,581.8 1078.1,624.7 1084.9,653.4 1093.5,675.8 1105.9,689.3 1119.1,701.4 1125.5,707.8 1131.9,714.2 1138.3,720.6 1144.7,727.0 1152.7,747.1 1157.4,765.3 1070.5,733.2" fill="#41240f"/>
<polyline points="1071.1,566.5 1070.4,738.4" fill="none" stroke="#1a0d05" stroke-width="1.6" stroke-linejoin="round" stroke-linecap="round"/>
<polyline points="1071.0,568.1 1073.0,581.8 1078.1,624.7 1084.9,653.4 1093.5,675.8 1105.9,689.3 1119.1,701.4 1125.5,707.8 1131.9,714.2 1138.3,720.6 1144.7,727.0 1152.7,747.1 1157.4,765.3 1159.0,789.8 1159.8,826.9 1159.9,857.4" fill="none" stroke="#111" stroke-width="1.5" stroke-linejoin="round" stroke-linecap="round"/>
<polyline points="1468.8,256.2 1469.6,267.7 1471.5,303.9 1475.7,327.9 1481.9,346.4 1492.2,357.0 1503.2,366.4 1508.5,371.3 1513.7,376.3 1519.0,381.3 1524.3,386.3 1530.3,402.9 1533.3,418.2 1533.3,439.1 1531.7,470.9 1530.0,497.3" fill="none" stroke="#111" stroke-width="1.5" stroke-linejoin="round" stroke-linecap="round"/>
<polygon points="1157.7,856.5 1175.4,863.4 1191.0,848.1 1173.4,841.3" fill="#cfcfcf" stroke="#111" stroke-width="1.2" stroke-linejoin="round"/>
<polygon points="1557.5,354.7 1179.8,693.2 1175.4,863.4 1179.6,851.1 1181.6,857.3 1185.8,845.0 1187.7,851.3 1191.9,839.1 1193.7,845.3 1197.9,833.1 1199.8,839.4 1204.0,827.2 1205.8,833.5 1209.9,821.4 1211.8,827.6 1215.9,815.5 1217.7,821.8 1221.8,809.7 1223.6,816.0 1227.7,804.0 1229.4,810.2 1233.5,798.3 1235.2,804.5 1239.3,792.6 1241.0,798.8 1245.1,786.9 1246.7,793.1 1250.8,781.3 1252.4,787.5 1256.5,775.8 1258.1,782.0 1262.1,770.2 1263.7,776.4 1267.7,764.7 1269.3,770.9 1273.3,759.3 1274.9,765.4 1278.9,753.8 1280.4,760.0 1284.4,748.4 1285.9,754.6 1289.9,743.0 1291.4,749.2 1295.3,737.7 1296.8,743.9 1300.7,732.4 1302.2,738.6 1306.1,727.1 1307.5,733.3 1311.4,721.9 1312.9,728.0 1316.8,716.7 1318.2,722.8 1322.0,711.5 1323.4,717.7 1327.3,706.4 1328.7,712.5 1332.5,701.3 1333.9,707.4 1337.7,696.2 1339.0,702.3 1342.8,691.1 1344.2,697.2 1348.0,686.1 1349.3,692.2 1353.1,681.1 1354.4,687.2 1358.1,676.1 1359.4,682.3 1363.2,671.2 1364.4,677.3 1368.2,666.3 1369.4,672.4 1373.1,661.4 1374.4,667.5 1378.1,656.6 1379.3,662.7 1383.0,651.8 1384.2,657.9 1387.9,647.0 1389.1,653.1 1392.7,642.2 1393.9,648.3 1397.6,637.5 1398.7,643.5 1402.4,632.8 1403.5,638.8 1407.2,628.1 1408.3,634.2 1411.9,623.4 1413.0,629.5 1416.6,618.8 1417.7,624.9 1421.3,614.2 1422.4,620.3 1426.0,609.6 1427.0,615.7 1430.6,605.1 1431.7,611.1 1435.2,600.6 1436.3,606.6 1439.8,596.1 1440.8,602.1 1444.4,591.6 1445.4,597.6 1448.9,587.2 1449.9,593.2 1453.4,582.7 1454.4,588.7 1457.9,578.3 1458.9,584.3 1462.4,574.0 1463.3,580.0 1466.8,569.6 1467.8,575.6 1471.2,565.3 1472.2,571.3 1475.6,561.0 1476.5,567.0 1480.0,556.7 1480.9,562.7 1484.3,552.5 1485.2,558.4 1488.7,548.2 1489.5,554.2 1492.9,544.0 1493.8,550.0 1497.2,539.8 1498.0,545.8 1501.5,535.7 1502.3,541.6 1505.7,531.5 1506.5,537.5 1509.9,527.4 1510.7,533.4 1514.1,523.3 1514.8,529.3 1518.2,519.3 1519.0,525.2 1522.3,515.2 1523.1,521.1 1526.5,511.2 1527.2,517.1 1530.5,507.2 1531.3,513.1 1534.6,503.2 1535.3,509.1 1538.7,499.2 1539.4,505.1 1542.7,495.3 1543.4,501.2 1543.4,501.2" fill="#41240f" stroke="#1a0d05" stroke-width="1.0" stroke-linejoin="round"/>
<polygon points="1182.1,603.5 1179.7,696.4 1187.0,689.8 1189.0,618.6" fill="#41240f" stroke="#1a0d05" stroke-width="1.0" stroke-linejoin="round"/>
<polyline points="1226.6,804.5 1232.2,649.3" fill="none" stroke="#4d5358" stroke-width="1.3" stroke-linejoin="round" stroke-linecap="round"/>
<polyline points="1267.7,764.2 1274.5,611.2" fill="none" stroke="#4d5358" stroke-width="1.3" stroke-linejoin="round" stroke-linecap="round"/>
<polyline points="1307.1,725.6 1315.0,574.9" fill="none" stroke="#4d5358" stroke-width="1.3" stroke-linejoin="round" stroke-linecap="round"/>
<polyline points="1344.8,688.7 1353.6,540.2" fill="none" stroke="#4d5358" stroke-width="1.3" stroke-linejoin="round" stroke-linecap="round"/>
<polyline points="1380.9,653.3 1390.6,507.1" fill="none" stroke="#4d5358" stroke-width="1.3" stroke-linejoin="round" stroke-linecap="round"/>
<polyline points="1415.5,619.4 1426.0,475.3" fill="none" stroke="#4d5358" stroke-width="1.3" stroke-linejoin="round" stroke-linecap="round"/>
<polyline points="1448.7,586.9 1459.9,444.8" fill="none" stroke="#4d5358" stroke-width="1.3" stroke-linejoin="round" stroke-linecap="round"/>
<polyline points="1480.6,555.6 1492.5,415.6" fill="none" stroke="#4d5358" stroke-width="1.3" stroke-linejoin="round" stroke-linecap="round"/>
<polyline points="1511.3,525.6 1523.7,387.5" fill="none" stroke="#4d5358" stroke-width="1.3" stroke-linejoin="round" stroke-linecap="round"/>
<polyline points="1540.7,496.7 1553.8,360.6" fill="none" stroke="#4d5358" stroke-width="1.3" stroke-linejoin="round" stroke-linecap="round"/>
<polygon points="1180.0,683.5 1195.8,696.3 1571.4,356.2 1558.3,346.5" fill="#fbb01c" stroke="#fbb01c" stroke-width="0.8" stroke-linejoin="round"/>
<polygon points="1195.8,696.3 1202.1,710.8 1576.1,368.1 1571.4,356.2" fill="#fdb71c" stroke="#fdb71c" stroke-width="0.8" stroke-linejoin="round"/>
<polygon points="1182.3,690.8 1184.2,616.0 1185.1,637.9 1187.0,626.5 1188.1,641.4 1190.8,601.9 1191.4,634.9 1193.5,614.2 1194.2,642.9 1196.4,619.4 1197.3,642.3 1200.3,590.7 1200.8,626.9 1203.3,594.8 1204.0,620.8 1206.3,596.4 1206.6,633.1 1209.2,599.4 1209.9,625.3 1211.8,612.5 1213.1,617.5 1215.9,576.7 1216.6,603.1 1218.1,602.9 1219.5,605.0 1221.0,603.7 1222.0,618.9 1224.2,596.8 1225.1,612.6 1227.1,598.4 1228.1,611.9 1230.2,594.1 1231.6,596.6 1234.2,563.4 1234.4,598.3 1236.2,589.2 1237.1,603.4 1239.2,585.4 1240.8,581.6 1242.8,568.9 1243.0,599.8 1245.8,563.7 1246.1,595.1 1248.9,559.3 1249.2,587.2 1251.9,556.8 1252.5,575.7 1254.7,558.5 1254.8,589.7 1257.5,557.4 1258.2,576.8 1260.1,563.6 1261.4,567.1 1263.7,544.4 1263.5,582.9 1266.8,538.7 1267.1,564.5 1269.4,542.7 1269.7,568.0 1272.2,543.4 1272.2,576.0 1274.4,556.7 1275.8,555.7 1277.8,541.4 1278.4,559.1 1281.1,531.0 1281.6,548.8 1284.0,527.4 1284.0,557.2 1286.6,530.1 1286.6,560.1 1290.0,515.7 1289.8,548.3 1291.5,541.2 1292.8,542.2 1295.9,506.5 1295.9,535.4 1298.2,515.2 1298.3,540.3 1301.5,501.7 1301.3,533.7 1303.3,521.3 1304.2,529.6 1307.1,498.8 1306.4,537.8 1308.9,516.0 1309.3,533.0 1311.2,521.2 1312.4,523.4 1314.1,516.9 1315.1,523.1 1317.1,509.5 1317.2,532.4 1320.7,490.6 1320.9,512.4 1322.6,505.1 1323.5,511.4 1325.0,508.2 1325.6,522.1 1328.0,500.0 1328.6,514.4 1330.7,497.8 1330.8,521.0 1334.0,485.4 1333.7,513.3 1336.8,481.4 1336.5,509.1 1338.9,489.1 1339.1,507.9 1342.4,472.4 1342.1,500.0 1344.1,486.9 1344.4,503.6 1346.2,494.9 1347.7,491.5 1350.7,460.7 1350.1,492.5 1353.2,461.3 1351.9,504.4 1354.8,477.1 1354.5,502.9 1356.8,485.0 1357.4,494.7 1360.4,466.3 1360.7,482.1 1363.7,452.9 1362.5,493.5 1366.3,450.7 1366.0,475.1 1368.4,457.1 1368.4,475.8 1371.7,443.3 1370.6,480.0 1372.5,469.3 1372.7,485.8 1376.1,451.1 1376.0,471.6 1378.2,455.8 1378.0,478.5 1381.6,440.8 1381.1,466.6 1384.3,435.5 1383.6,466.0 1386.4,439.9 1385.9,467.5 1388.4,447.1 1388.6,462.1 1391.4,437.8 1390.5,469.5 1393.4,443.7 1392.8,470.5 1396.5,431.3 1395.4,466.9 1398.7,434.8 1399.2,444.6 1402.1,419.1 1401.3,448.4 1404.4,419.9 1403.7,447.2 1407.2,412.7 1405.3,457.5 1408.9,421.6 1408.1,450.0 1410.8,428.4 1411.5,434.4 1414.3,411.3 1412.9,448.2 1416.1,418.0 1416.0,436.7 1418.6,415.4 1417.9,442.1 1419.9,429.9 1420.9,431.9 1423.9,405.9 1422.7,437.7 1424.7,425.8 1424.6,443.2 1428.7,402.3 1428.1,425.4 1431.5,394.6 1429.9,431.5 1433.2,402.1 1432.8,422.5 1435.9,395.3 1435.7,413.6 1437.4,405.5 1437.5,419.7 1441.0,387.2 1440.3,411.5 1441.8,407.0 1441.6,424.3 1444.5,399.5 1444.0,421.8 1446.6,401.8 1447.5,404.5 1449.8,387.7 1449.6,405.5 1452.1,387.4 1450.6,420.6 1454.1,388.8 1453.2,414.6 1456.0,392.3 1456.6,399.1 1458.8,385.0 1458.6,401.7 1460.6,389.2 1459.8,413.5 1462.9,387.8 1462.3,409.2 1467.0,363.0 1466.0,388.3 1468.2,375.0 1468.2,387.7 1469.9,379.9 1470.5,385.9 1472.1,379.0 1472.2,390.9 1474.6,374.9 1474.0,394.9 1477.6,363.8 1476.2,393.5 1480.1,359.1 1479.8,374.8 1482.9,350.7 1480.5,392.7 1482.8,376.9 1483.4,381.8 1487.3,347.2 1486.0,375.4 1489.5,346.0 1488.2,374.7 1490.5,359.1 1489.8,380.0 1493.6,347.0 1492.8,368.2 1496.1,341.5 1493.9,379.5 1496.9,356.0 1495.8,381.5 1498.9,357.2 1498.8,370.3 1502.7,336.6 1502.0,356.8 1504.9,334.6 1503.6,361.8 1506.4,340.3 1504.9,370.3 1509.1,333.4 1507.3,365.4 1511.1,333.6 1509.9,358.2 1512.8,337.1 1512.4,352.4 1514.0,346.2 1514.1,355.8 1516.0,345.4 1516.1,355.6 1519.3,330.9 1519.1,344.5 1520.7,337.1 1520.9,346.3 1524.6,316.4 1522.1,354.6 1524.5,339.0 1525.2,341.9 1526.9,334.6 1526.2,352.4 1529.3,328.8 1529.3,339.5 1532.1,320.1 1530.7,345.6 1532.9,332.6 1533.8,333.1 1535.8,322.4 1534.8,343.3 1538.6,312.7 1537.4,336.2 1539.3,325.8 1539.0,339.7 1543.8,298.1 1542.3,324.8 1543.6,320.7 1543.3,334.8 1546.1,314.6 1545.8,327.6 1549.9,294.1 1547.9,325.2 1549.6,317.2 1550.9,314.4 1551.9,313.8 1551.9,323.5 1555.5,294.8 1554.3,317.6 1556.5,304.7 1556.2,317.4 1559.4,294.0 1557.2,326.8 1562.2,283.7 1559.9,317.6 1563.0,295.5 1562.1,314.3 1559.9,352.5" fill="#f18c1e"/>
<path d="M1181.1 674.2L1183.9 602.3L1186.5 669.4ZM1181.1 674.2L1186.3 611.4L1189.2 667.0ZM1183.8 671.8L1189.4 594.3L1191.9 664.6ZM1186.5 669.4L1192.3 588.9L1194.5 662.2ZM1189.2 667.0L1194.7 595.2L1197.2 659.9ZM1191.9 664.6L1197.5 592.1L1199.9 657.5ZM1194.5 662.2L1199.6 607.6L1202.5 655.2ZM1197.2 659.9L1202.7 593.0L1205.2 652.8ZM1199.9 657.5L1205.0 601.4L1207.8 650.5ZM1202.5 655.2L1207.8 594.4L1210.4 648.2ZM1205.2 652.8L1210.6 587.9L1213.1 645.8ZM1207.8 650.5L1213.1 590.6L1215.7 643.5ZM1210.4 648.2L1216.4 570.3L1218.3 641.2ZM1213.1 645.8L1218.4 585.8L1220.9 638.9ZM1215.7 643.5L1221.1 583.1L1223.5 636.6ZM1218.3 641.2L1223.9 574.8L1226.1 634.3ZM1220.9 638.9L1226.2 580.9L1228.6 632.0ZM1223.5 636.6L1229.5 560.0L1231.2 629.7ZM1226.1 634.3L1232.1 557.4L1233.8 627.5ZM1228.6 632.0L1234.4 565.0L1236.3 625.2ZM1231.2 629.7L1237.4 550.7L1238.9 622.9ZM1233.8 627.5L1239.4 565.8L1241.4 620.7ZM1236.3 625.2L1241.9 563.1L1244.0 618.4ZM1238.9 622.9L1244.4 562.6L1246.5 616.2ZM1241.4 620.7L1247.5 546.4L1249.0 614.0ZM1244.0 618.4L1250.0 546.8L1251.5 611.7ZM1246.5 616.2L1251.8 564.5L1254.0 609.5ZM1249.0 614.0L1254.4 558.5L1256.5 607.3ZM1251.5 611.7L1257.3 548.5L1259.0 605.1ZM1254.0 609.5L1259.9 544.7L1261.5 602.9ZM1256.5 607.3L1262.3 544.5L1264.0 600.7ZM1259.0 605.1L1264.7 545.0L1266.5 598.5ZM1261.5 602.9L1266.9 550.3L1268.9 596.3ZM1264.0 600.7L1269.5 544.9L1271.4 594.1ZM1266.5 598.5L1272.8 523.9L1273.8 591.9ZM1268.9 596.3L1275.0 528.8L1276.3 589.8ZM1271.4 594.1L1277.2 533.9L1278.7 587.6ZM1273.8 591.9L1280.4 514.3L1281.2 585.5ZM1276.3 589.8L1281.7 537.6L1283.6 583.3ZM1278.7 587.6L1284.3 533.3L1286.0 581.2ZM1281.2 585.5L1287.6 513.2L1288.4 579.0ZM1283.6 583.3L1289.5 523.0L1290.8 576.9ZM1286.0 581.2L1292.1 516.2L1293.2 574.8ZM1288.4 579.0L1294.1 523.7L1295.6 572.6ZM1290.8 576.9L1297.2 506.9L1298.0 570.5ZM1293.2 574.8L1298.8 521.1L1300.4 568.4ZM1295.6 572.6L1301.4 516.0L1302.7 566.3ZM1298.0 570.5L1303.5 520.1L1305.1 564.2ZM1300.4 568.4L1305.9 517.6L1307.5 562.1ZM1302.7 566.3L1308.5 511.4L1309.8 560.0ZM1305.1 564.2L1311.4 499.5L1312.2 558.0ZM1307.5 562.1L1314.0 492.4L1314.5 555.9ZM1309.8 560.0L1315.6 505.6L1316.9 553.8ZM1312.2 558.0L1318.0 502.7L1319.2 551.7ZM1314.5 555.9L1321.5 479.6L1321.5 549.7ZM1316.9 553.8L1323.2 489.8L1323.8 547.6ZM1319.2 551.7L1326.0 477.7L1326.1 545.6ZM1321.5 549.7L1327.8 487.1L1328.4 543.5ZM1323.8 547.6L1329.4 497.8L1330.7 541.5ZM1326.1 545.6L1332.7 478.1L1333.0 539.5ZM1328.4 543.5L1334.4 488.1L1335.3 537.4ZM1330.7 541.5L1336.4 491.0L1337.6 535.4ZM1333.0 539.5L1339.7 471.2L1339.9 533.4ZM1335.3 537.4L1341.1 486.2L1342.1 531.4ZM1337.6 535.4L1343.4 482.8L1344.4 529.4ZM1339.9 533.4L1346.9 460.6L1346.7 527.4ZM1342.1 531.4L1349.0 461.6L1348.9 525.4ZM1344.4 529.4L1350.6 471.8L1351.2 523.4ZM1346.7 527.4L1352.9 468.7L1353.4 521.4ZM1348.9 525.4L1354.9 471.4L1355.6 519.4ZM1351.2 523.4L1357.7 460.2L1357.9 517.5ZM1353.4 521.4L1360.6 446.4L1360.1 515.5ZM1355.6 519.4L1361.5 467.6L1362.3 513.5ZM1357.9 517.5L1363.9 462.9L1364.5 511.6ZM1360.1 515.5L1367.0 446.5L1366.7 509.6ZM1362.3 513.5L1368.3 460.3L1368.9 507.7ZM1364.5 511.6L1370.5 458.6L1371.1 505.7ZM1366.7 509.6L1372.6 458.5L1373.3 503.8ZM1368.9 507.7L1375.7 441.5L1375.5 501.8ZM1371.1 505.7L1378.1 437.2L1377.6 499.9ZM1373.3 503.8L1379.9 442.2L1379.8 498.0ZM1375.5 501.8L1381.4 450.9L1382.0 496.1ZM1377.6 499.9L1383.8 445.8L1384.1 494.2ZM1379.8 498.0L1386.0 442.8L1386.3 492.3ZM1382.0 496.1L1388.1 442.0L1388.4 490.4ZM1384.1 494.2L1390.5 437.7L1390.6 488.5ZM1386.3 492.3L1392.6 436.3L1392.7 486.6ZM1388.4 490.4L1395.3 426.1L1394.8 484.7ZM1390.6 488.5L1398.1 414.7L1397.0 482.8ZM1392.7 486.6L1398.8 435.0L1399.1 480.9ZM1394.8 484.7L1402.0 417.8L1401.2 479.0ZM1397.0 482.8L1403.1 430.3L1403.3 477.2ZM1399.1 480.9L1405.8 419.8L1405.4 475.3ZM1401.2 479.0L1407.9 418.5L1407.5 473.4ZM1403.3 477.2L1410.0 416.8L1409.6 471.6ZM1405.4 475.3L1412.8 405.2L1411.7 469.7ZM1407.5 473.4L1413.9 418.4L1413.8 467.9ZM1409.6 471.6L1415.6 423.0L1415.9 466.0ZM1411.7 469.7L1417.7 420.0L1417.9 464.2ZM1413.8 467.9L1421.3 397.9L1420.0 462.4ZM1415.9 466.0L1422.6 406.3L1422.1 460.5ZM1417.9 464.2L1424.3 410.1L1424.1 458.7ZM1420.0 462.4L1426.6 405.4L1426.2 456.9ZM1422.1 460.5L1428.4 407.7L1428.2 455.1ZM1424.1 458.7L1431.2 395.6L1430.3 453.3ZM1426.2 456.9L1433.9 384.4L1432.3 451.5ZM1428.2 455.1L1435.2 393.6L1434.3 449.7ZM1430.3 453.3L1437.5 388.4L1436.3 447.9ZM1432.3 451.5L1438.7 398.1L1438.4 446.1ZM1434.3 449.7L1442.0 379.5L1440.4 444.3ZM1436.3 447.9L1442.9 393.0L1442.4 442.5ZM1438.4 446.1L1446.1 375.8L1444.4 440.7ZM1440.4 444.3L1447.0 389.1L1446.4 438.9ZM1442.4 442.5L1449.2 384.9L1448.4 437.2ZM1444.4 440.7L1451.8 375.8L1450.4 435.4ZM1446.4 438.9L1453.7 375.8L1452.4 433.7ZM1448.4 437.2L1454.5 388.7L1454.4 431.9ZM1450.4 435.4L1456.9 381.6L1456.3 430.1ZM1452.4 433.7L1459.2 376.9L1458.3 428.4ZM1454.4 431.9L1461.0 376.8L1460.3 426.7ZM1456.3 430.1L1463.3 372.1L1462.2 424.9ZM1458.3 428.4L1464.5 379.2L1464.2 423.2ZM1460.3 426.7L1468.3 355.3L1466.1 421.4ZM1462.2 424.9L1468.7 373.4L1468.1 419.7ZM1464.2 423.2L1471.2 364.7L1470.0 418.0ZM1466.1 421.4L1473.5 358.7L1472.0 416.3ZM1468.1 419.7L1474.4 369.9L1473.9 414.6ZM1470.0 418.0L1477.3 356.8L1475.8 412.9ZM1472.0 416.3L1479.4 352.8L1477.8 411.1ZM1473.9 414.6L1480.3 364.7L1479.7 409.4ZM1475.8 412.9L1483.0 353.2L1481.6 407.7ZM1477.8 411.1L1484.9 352.3L1483.5 406.1ZM1479.7 409.4L1487.6 341.1L1485.4 404.4ZM1481.6 407.7L1489.2 343.0L1487.3 402.7ZM1483.5 406.1L1490.4 351.0L1489.2 401.0ZM1485.4 404.4L1492.8 342.7L1491.1 399.3ZM1487.3 402.7L1494.2 347.6L1493.0 397.6ZM1489.2 401.0L1495.7 350.2L1494.9 396.0ZM1491.1 399.3L1497.7 348.3L1496.7 394.3ZM1493.0 397.6L1501.2 327.5L1498.6 392.7ZM1494.9 396.0L1501.9 339.8L1500.5 391.0ZM1496.7 394.3L1503.9 337.2L1502.4 389.3ZM1498.6 392.7L1504.8 346.4L1504.2 387.7ZM1500.5 391.0L1506.7 345.2L1506.1 386.0ZM1502.4 389.3L1509.1 336.5L1507.9 384.4ZM1504.2 387.7L1511.2 332.9L1509.8 382.8ZM1506.1 386.0L1512.9 333.2L1511.6 381.1ZM1507.9 384.4L1514.2 338.1L1513.5 379.5ZM1509.8 382.8L1516.0 337.2L1515.3 377.9ZM1511.6 381.1L1518.6 326.7L1517.1 376.3ZM1513.5 379.5L1520.1 328.9L1518.9 374.6ZM1515.3 377.9L1522.2 324.9L1520.8 373.0ZM1517.1 376.3L1525.0 312.5L1522.6 371.4ZM1518.9 374.6L1525.1 329.5L1524.4 369.8ZM1520.8 373.0L1528.4 312.2L1526.2 368.2ZM1522.6 371.4L1530.3 309.6L1528.0 366.6ZM1524.4 369.8L1532.8 300.7L1529.8 365.0ZM1526.2 368.2L1533.5 311.1L1531.6 363.4ZM1528.0 366.6L1534.5 318.4L1533.4 361.8ZM1529.8 365.0L1536.4 316.0L1535.2 360.2ZM1531.6 363.4L1538.3 313.3L1537.0 358.7ZM1533.4 361.8L1540.7 304.7L1538.7 357.1ZM1535.2 360.2L1541.4 315.7L1540.5 355.5ZM1537.0 358.7L1544.1 304.5L1542.3 353.9ZM1538.7 357.1L1545.6 305.5L1544.0 352.4ZM1540.5 355.5L1548.2 294.8L1545.8 350.8ZM1542.3 353.9L1550.0 294.1L1547.6 349.3ZM1544.0 352.4L1551.9 290.3L1549.3 347.7ZM1545.8 350.8L1554.0 285.6L1551.1 346.1ZM1547.6 349.3L1554.8 293.9L1552.8 344.6ZM1549.3 347.7L1555.6 303.1L1554.6 343.1ZM1551.1 346.1L1559.3 281.3L1556.3 341.5ZM1552.8 344.6L1559.2 298.7L1558.0 340.0ZM1554.6 343.1L1563.1 275.1L1559.8 338.4ZM1556.3 341.5L1564.3 279.7L1559.8 338.4Z" fill="#f18c1e"/>
<polyline points="1192.1,593.9 1191.5,630.2" fill="none" stroke="#2f3338" stroke-width="2.4" stroke-linejoin="round" stroke-linecap="round"/>
<polyline points="1237.2,555.6 1236.3,591.3" fill="none" stroke="#2f3338" stroke-width="2.4" stroke-linejoin="round" stroke-linecap="round"/>
<polyline points="1280.2,519.1 1279.0,554.2" fill="none" stroke="#2f3338" stroke-width="2.4" stroke-linejoin="round" stroke-linecap="round"/>
<polyline points="1321.2,484.3 1319.8,518.8" fill="none" stroke="#2f3338" stroke-width="2.4" stroke-linejoin="round" stroke-linecap="round"/>
<polyline points="1360.4,451.1 1358.7,485.0" fill="none" stroke="#2f3338" stroke-width="2.4" stroke-linejoin="round" stroke-linecap="round"/>
<polyline points="1397.8,419.3 1396.0,452.7" fill="none" stroke="#2f3338" stroke-width="2.4" stroke-linejoin="round" stroke-linecap="round"/>
<polyline points="1433.6,388.9 1431.6,421.8" fill="none" stroke="#2f3338" stroke-width="2.4" stroke-linejoin="round" stroke-linecap="round"/>
<polyline points="1467.9,359.8 1465.7,392.1" fill="none" stroke="#2f3338" stroke-width="2.4" stroke-linejoin="round" stroke-linecap="round"/>
<polyline points="1500.8,331.8 1498.5,363.7" fill="none" stroke="#2f3338" stroke-width="2.4" stroke-linejoin="round" stroke-linecap="round"/>
<polyline points="1532.4,305.0 1529.9,336.5" fill="none" stroke="#2f3338" stroke-width="2.4" stroke-linejoin="round" stroke-linecap="round"/>
<polyline points="1562.7,279.3 1560.1,310.3" fill="none" stroke="#2f3338" stroke-width="2.4" stroke-linejoin="round" stroke-linecap="round"/>
<polyline points="1233.9,635.5 1249.3,647.8 1255.4,662.0" fill="none" stroke="#2f3338" stroke-width="1.5" stroke-linejoin="round" stroke-linecap="round"/>
<polyline points="1276.3,597.8 1291.4,609.7 1297.3,623.6" fill="none" stroke="#2f3338" stroke-width="1.5" stroke-linejoin="round" stroke-linecap="round"/>
<polyline points="1316.8,561.7 1331.6,573.3 1337.3,586.9" fill="none" stroke="#2f3338" stroke-width="1.5" stroke-linejoin="round" stroke-linecap="round"/>
<polyline points="1355.4,527.2 1370.0,538.5 1375.5,551.9" fill="none" stroke="#2f3338" stroke-width="1.5" stroke-linejoin="round" stroke-linecap="round"/>
<polyline points="1392.4,494.3 1406.7,505.3 1412.1,518.3" fill="none" stroke="#2f3338" stroke-width="1.5" stroke-linejoin="round" stroke-linecap="round"/>
<polyline points="1427.8,462.7 1441.9,473.4 1447.1,486.2" fill="none" stroke="#2f3338" stroke-width="1.5" stroke-linejoin="round" stroke-linecap="round"/>
<polyline points="1461.8,432.5 1475.6,442.9 1480.7,455.5" fill="none" stroke="#2f3338" stroke-width="1.5" stroke-linejoin="round" stroke-linecap="round"/>
<polyline points="1494.4,403.4 1508.0,413.6 1512.9,426.0" fill="none" stroke="#2f3338" stroke-width="1.5" stroke-linejoin="round" stroke-linecap="round"/>
<polyline points="1525.6,375.6 1539.0,385.5 1543.8,397.6" fill="none" stroke="#2f3338" stroke-width="1.5" stroke-linejoin="round" stroke-linecap="round"/>
<polyline points="1555.7,348.8 1568.8,358.5 1573.5,370.4" fill="none" stroke="#2f3338" stroke-width="1.5" stroke-linejoin="round" stroke-linecap="round"/>
<polyline points="1227.5,667.6 1233.6,681.9" fill="none" stroke="#2f3338" stroke-width="1.5" stroke-linejoin="round" stroke-linecap="round"/>
<polyline points="1270.6,628.6 1276.6,642.5" fill="none" stroke="#2f3338" stroke-width="1.5" stroke-linejoin="round" stroke-linecap="round"/>
<polyline points="1311.7,591.3 1317.5,605.0" fill="none" stroke="#2f3338" stroke-width="1.5" stroke-linejoin="round" stroke-linecap="round"/>
<polyline points="1351.0,555.7 1356.6,569.2" fill="none" stroke="#2f3338" stroke-width="1.5" stroke-linejoin="round" stroke-linecap="round"/>
<polyline points="1388.6,521.7 1394.0,534.9" fill="none" stroke="#2f3338" stroke-width="1.5" stroke-linejoin="round" stroke-linecap="round"/>
<polyline points="1424.5,489.2 1429.8,502.1" fill="none" stroke="#2f3338" stroke-width="1.5" stroke-linejoin="round" stroke-linecap="round"/>
<polyline points="1458.9,458.0 1464.1,470.7" fill="none" stroke="#2f3338" stroke-width="1.5" stroke-linejoin="round" stroke-linecap="round"/>
<polyline points="1491.9,428.1 1497.0,440.6" fill="none" stroke="#2f3338" stroke-width="1.5" stroke-linejoin="round" stroke-linecap="round"/>
<polyline points="1523.6,399.4 1528.5,411.7" fill="none" stroke="#2f3338" stroke-width="1.5" stroke-linejoin="round" stroke-linecap="round"/>
<polyline points="1554.1,371.9 1558.8,383.9" fill="none" stroke="#2f3338" stroke-width="1.5" stroke-linejoin="round" stroke-linecap="round"/>
<polygon points="1182.3,596.9 1182.3,596.9 1183.4,619.0 1185.6,650.2 1190.2,674.1 1195.8,696.3 1202.1,710.8 1179.5,702.8" fill="#41240f"/>
<polyline points="1182.3,595.2 1177.6,778.1" fill="none" stroke="#1a0d05" stroke-width="1.6" stroke-linejoin="round" stroke-linecap="round"/>
<polyline points="1182.3,596.9 1183.4,619.0 1185.6,650.2 1190.2,674.1 1195.8,696.3 1202.1,710.8" fill="none" stroke="#111" stroke-width="1.5" stroke-linejoin="round" stroke-linecap="round"/>
<polyline points="1565.4,272.8 1565.0,291.4 1565.2,317.7 1567.8,337.7 1571.4,356.2 1576.1,368.1" fill="none" stroke="#111" stroke-width="1.5" stroke-linejoin="round" stroke-linecap="round"/>
<polyline points="1202.1,710.8 1576.1,368.1" fill="none" stroke="#111" stroke-width="1.5" stroke-linejoin="round" stroke-linecap="round"/>
<polyline points="1226.3,596.9 1494.3,364.7" fill="none" stroke="#2f3338" stroke-width="1.2" stroke-linejoin="round" stroke-linecap="round" stroke-dasharray="8 6"/></g>
<line x1="485.8" y1="336.2" x2="1214.6" y2="572.8" stroke="#6c6c6c" stroke-width="2" stroke-linecap="round"/>
<line x1="1214.6" y1="572.8" x2="1610.0" y2="237.6" stroke="#6c6c6c" stroke-width="2" stroke-linecap="round"/>
<line x1="1214.6" y1="572.8" x2="1204.3" y2="893.1" stroke="#6c6c6c" stroke-width="2" stroke-linecap="round"/>
<line x1="1610.0" y1="237.6" x2="1581.7" y2="509.8" stroke="#6c6c6c" stroke-width="2" stroke-linecap="round"/>
<line x1="1581.7" y1="509.8" x2="1204.3" y2="893.1" stroke="#6c6c6c" stroke-width="2" stroke-linecap="round"/>
<line x1="485.8" y1="336.2" x2="969.4" y2="86.7" stroke="#262626" stroke-width="1.9" stroke-linecap="round"/>
<line x1="485.8" y1="336.2" x2="516.8" y2="623.6" stroke="#262626" stroke-width="1.9" stroke-linecap="round"/>
<line x1="516.8" y1="623.6" x2="1204.3" y2="893.1" stroke="#262626" stroke-width="1.9" stroke-linecap="round"/>
<line x1="961.8" y1="90.6" x2="962.1" y2="103.1" stroke="#262626" stroke-width="1.5" stroke-linecap="round"/>
<line x1="942.6" y1="100.5" x2="942.9" y2="108.0" stroke="#262626" stroke-width="1.5" stroke-linecap="round"/>
<line x1="923.1" y1="110.6" x2="923.4" y2="118.1" stroke="#262626" stroke-width="1.5" stroke-linecap="round"/>
<line x1="903.2" y1="120.9" x2="903.5" y2="128.4" stroke="#262626" stroke-width="1.5" stroke-linecap="round"/>
<line x1="882.9" y1="131.3" x2="883.2" y2="138.8" stroke="#262626" stroke-width="1.5" stroke-linecap="round"/>
<line x1="862.2" y1="142.0" x2="862.5" y2="154.5" stroke="#262626" stroke-width="1.5" stroke-linecap="round"/>
<line x1="841.1" y1="152.9" x2="841.4" y2="160.4" stroke="#262626" stroke-width="1.5" stroke-linecap="round"/>
<line x1="819.7" y1="163.9" x2="820.0" y2="171.4" stroke="#262626" stroke-width="1.5" stroke-linecap="round"/>
<line x1="797.8" y1="175.2" x2="798.1" y2="182.7" stroke="#262626" stroke-width="1.5" stroke-linecap="round"/>
<line x1="775.4" y1="186.8" x2="775.7" y2="194.3" stroke="#262626" stroke-width="1.5" stroke-linecap="round"/>
<line x1="752.7" y1="198.5" x2="753.0" y2="211.0" stroke="#262626" stroke-width="1.5" stroke-linecap="round"/>
<line x1="729.4" y1="210.5" x2="729.7" y2="218.0" stroke="#262626" stroke-width="1.5" stroke-linecap="round"/>
<line x1="705.7" y1="222.7" x2="706.0" y2="230.2" stroke="#262626" stroke-width="1.5" stroke-linecap="round"/>
<line x1="681.5" y1="235.2" x2="681.8" y2="242.7" stroke="#262626" stroke-width="1.5" stroke-linecap="round"/>
<line x1="656.8" y1="248.0" x2="657.1" y2="255.5" stroke="#262626" stroke-width="1.5" stroke-linecap="round"/>
<line x1="631.6" y1="261.0" x2="631.9" y2="273.5" stroke="#262626" stroke-width="1.5" stroke-linecap="round"/>
<line x1="605.9" y1="274.3" x2="606.2" y2="281.8" stroke="#262626" stroke-width="1.5" stroke-linecap="round"/>
<line x1="579.6" y1="287.8" x2="579.9" y2="295.3" stroke="#262626" stroke-width="1.5" stroke-linecap="round"/>
<line x1="552.7" y1="301.7" x2="553.0" y2="309.2" stroke="#262626" stroke-width="1.5" stroke-linecap="round"/>
<line x1="525.2" y1="315.9" x2="525.5" y2="323.4" stroke="#262626" stroke-width="1.5" stroke-linecap="round"/>
<line x1="497.2" y1="330.3" x2="497.5" y2="342.8" stroke="#262626" stroke-width="1.5" stroke-linecap="round"/>
<line x1="528.1" y1="628.0" x2="527.8" y2="615.5" stroke="#262626" stroke-width="1.5" stroke-linecap="round"/>
<line x1="556.8" y1="639.3" x2="556.5" y2="631.8" stroke="#262626" stroke-width="1.5" stroke-linecap="round"/>
<line x1="585.9" y1="650.7" x2="585.6" y2="643.2" stroke="#262626" stroke-width="1.5" stroke-linecap="round"/>
<line x1="615.4" y1="662.2" x2="615.1" y2="654.7" stroke="#262626" stroke-width="1.5" stroke-linecap="round"/>
<line x1="645.3" y1="673.9" x2="645.0" y2="666.4" stroke="#262626" stroke-width="1.5" stroke-linecap="round"/>
<line x1="675.6" y1="685.8" x2="675.3" y2="673.3" stroke="#262626" stroke-width="1.5" stroke-linecap="round"/>
<line x1="706.4" y1="697.9" x2="706.1" y2="690.4" stroke="#262626" stroke-width="1.5" stroke-linecap="round"/>
<line x1="737.6" y1="710.1" x2="737.3" y2="702.6" stroke="#262626" stroke-width="1.5" stroke-linecap="round"/>
<line x1="769.3" y1="722.6" x2="769.0" y2="715.1" stroke="#262626" stroke-width="1.5" stroke-linecap="round"/>
<line x1="801.4" y1="735.2" x2="801.1" y2="727.7" stroke="#262626" stroke-width="1.5" stroke-linecap="round"/>
<line x1="834.0" y1="747.9" x2="833.7" y2="735.4" stroke="#262626" stroke-width="1.5" stroke-linecap="round"/>
<line x1="867.1" y1="760.9" x2="866.8" y2="753.4" stroke="#262626" stroke-width="1.5" stroke-linecap="round"/>
<line x1="900.7" y1="774.1" x2="900.4" y2="766.6" stroke="#262626" stroke-width="1.5" stroke-linecap="round"/>
<line x1="934.8" y1="787.5" x2="934.5" y2="780.0" stroke="#262626" stroke-width="1.5" stroke-linecap="round"/>
<line x1="969.5" y1="801.1" x2="969.2" y2="793.6" stroke="#262626" stroke-width="1.5" stroke-linecap="round"/>
<line x1="1004.6" y1="814.8" x2="1004.3" y2="802.3" stroke="#262626" stroke-width="1.5" stroke-linecap="round"/>
<line x1="1040.4" y1="828.8" x2="1040.1" y2="821.3" stroke="#262626" stroke-width="1.5" stroke-linecap="round"/>
<line x1="1076.6" y1="843.1" x2="1076.3" y2="835.6" stroke="#262626" stroke-width="1.5" stroke-linecap="round"/>
<line x1="1113.5" y1="857.5" x2="1113.2" y2="850.0" stroke="#262626" stroke-width="1.5" stroke-linecap="round"/>
<line x1="1150.9" y1="872.2" x2="1150.6" y2="864.7" stroke="#262626" stroke-width="1.5" stroke-linecap="round"/>
<line x1="1188.9" y1="887.1" x2="1188.6" y2="874.6" stroke="#262626" stroke-width="1.5" stroke-linecap="round"/>
<line x1="516.2" y1="618.3" x2="527.2" y2="611.4" stroke="#262626" stroke-width="1.5" stroke-linecap="round"/>
<line x1="515.1" y1="607.5" x2="521.4" y2="603.5" stroke="#262626" stroke-width="1.5" stroke-linecap="round"/>
<line x1="513.9" y1="596.6" x2="520.2" y2="592.6" stroke="#262626" stroke-width="1.5" stroke-linecap="round"/>
<line x1="512.7" y1="585.7" x2="519.1" y2="581.7" stroke="#262626" stroke-width="1.5" stroke-linecap="round"/>
<line x1="511.5" y1="574.7" x2="517.9" y2="570.8" stroke="#262626" stroke-width="1.5" stroke-linecap="round"/>
<line x1="510.3" y1="563.7" x2="521.4" y2="556.9" stroke="#262626" stroke-width="1.5" stroke-linecap="round"/>
<line x1="509.1" y1="552.6" x2="515.5" y2="548.7" stroke="#262626" stroke-width="1.5" stroke-linecap="round"/>
<line x1="507.9" y1="541.4" x2="514.4" y2="537.6" stroke="#262626" stroke-width="1.5" stroke-linecap="round"/>
<line x1="506.7" y1="530.3" x2="513.2" y2="526.4" stroke="#262626" stroke-width="1.5" stroke-linecap="round"/>
<line x1="505.5" y1="519.0" x2="512.0" y2="515.2" stroke="#262626" stroke-width="1.5" stroke-linecap="round"/>
<line x1="504.3" y1="507.8" x2="515.5" y2="501.2" stroke="#262626" stroke-width="1.5" stroke-linecap="round"/>
<line x1="503.1" y1="496.4" x2="509.5" y2="492.7" stroke="#262626" stroke-width="1.5" stroke-linecap="round"/>
<line x1="501.8" y1="485.0" x2="508.3" y2="481.3" stroke="#262626" stroke-width="1.5" stroke-linecap="round"/>
<line x1="500.6" y1="473.6" x2="507.1" y2="469.9" stroke="#262626" stroke-width="1.5" stroke-linecap="round"/>
<line x1="499.4" y1="462.1" x2="505.9" y2="458.4" stroke="#262626" stroke-width="1.5" stroke-linecap="round"/>
<line x1="498.1" y1="450.6" x2="509.4" y2="444.2" stroke="#262626" stroke-width="1.5" stroke-linecap="round"/>
<line x1="496.9" y1="439.0" x2="503.4" y2="435.4" stroke="#262626" stroke-width="1.5" stroke-linecap="round"/>
<line x1="495.6" y1="427.4" x2="502.2" y2="423.7" stroke="#262626" stroke-width="1.5" stroke-linecap="round"/>
<line x1="494.4" y1="415.7" x2="500.9" y2="412.1" stroke="#262626" stroke-width="1.5" stroke-linecap="round"/>
<line x1="493.1" y1="403.9" x2="499.7" y2="400.4" stroke="#262626" stroke-width="1.5" stroke-linecap="round"/>
<line x1="491.8" y1="392.1" x2="503.3" y2="386.0" stroke="#262626" stroke-width="1.5" stroke-linecap="round"/>
<line x1="490.5" y1="380.3" x2="497.1" y2="376.8" stroke="#262626" stroke-width="1.5" stroke-linecap="round"/>
<line x1="489.2" y1="368.4" x2="495.9" y2="364.9" stroke="#262626" stroke-width="1.5" stroke-linecap="round"/>
<line x1="488.0" y1="356.4" x2="494.6" y2="352.9" stroke="#262626" stroke-width="1.5" stroke-linecap="round"/>
<line x1="486.7" y1="344.4" x2="493.3" y2="341.0" stroke="#262626" stroke-width="1.5" stroke-linecap="round"/>
<text x="494.2" y="307.5" font-size="28" text-anchor="middle" fill="#111" font-family="DejaVu Sans, Liberation Sans, sans-serif">2.0</text>
<text x="630.4" y="237.0" font-size="28" text-anchor="middle" fill="#111" font-family="DejaVu Sans, Liberation Sans, sans-serif">1.5</text>
<text x="752.6" y="175.8" font-size="28" text-anchor="middle" fill="#111" font-family="DejaVu Sans, Liberation Sans, sans-serif">1.0</text>
<text x="860.8" y="118.6" font-size="28" text-anchor="middle" fill="#111" font-family="DejaVu Sans, Liberation Sans, sans-serif">0.5</text>
<text x="962.6" y="67.9" font-size="28" text-anchor="middle" fill="#111" font-family="DejaVu Sans, Liberation Sans, sans-serif">0.0</text>
<text x="750.7" y="119.8" font-size="28" text-anchor="middle" fill="#111" font-family="DejaVu Sans, Liberation Sans, sans-serif" font-style="italic">x</text>
<text x="1047.0" y="33.2" font-size="28" text-anchor="middle" fill="#111" font-family="DejaVu Sans, Liberation Sans, sans-serif">u</text>
<text x="481.4" y="402.8" font-size="28" text-anchor="end" fill="#111" font-family="DejaVu Sans, Liberation Sans, sans-serif">11.0</text>
<text x="486.5" y="462.6" font-size="28" text-anchor="end" fill="#111" font-family="DejaVu Sans, Liberation Sans, sans-serif">10.5</text>
<text x="495.0" y="520.6" font-size="28" text-anchor="end" fill="#111" font-family="DejaVu Sans, Liberation Sans, sans-serif">10.0</text>
<text x="500.1" y="576.0" font-size="28" text-anchor="end" fill="#111" font-family="DejaVu Sans, Liberation Sans, sans-serif">9.5</text>
<text x="506.1" y="628.9" font-size="28" text-anchor="end" fill="#111" font-family="DejaVu Sans, Liberation Sans, sans-serif">9.0</text>
<text x="534.7" y="667.8" font-size="28" text-anchor="middle" fill="#111" font-family="DejaVu Sans, Liberation Sans, sans-serif">0.0</text>
<text x="680.8" y="726.0" font-size="28" text-anchor="middle" fill="#111" font-family="DejaVu Sans, Liberation Sans, sans-serif">0.5</text>
<text x="836.8" y="789.2" font-size="28" text-anchor="middle" fill="#111" font-family="DejaVu Sans, Liberation Sans, sans-serif">1.0</text>
<text x="1006.3" y="854.4" font-size="28" text-anchor="middle" fill="#111" font-family="DejaVu Sans, Liberation Sans, sans-serif">1.5</text>
<text x="1188.6" y="927.3" font-size="28" text-anchor="middle" fill="#111" font-family="DejaVu Sans, Liberation Sans, sans-serif">2.0</text>
<text x="838.3" y="844.2" font-size="28" text-anchor="middle" fill="#111" font-family="DejaVu Sans, Liberation Sans, sans-serif" font-style="italic">t</text>
<text x="1022" y="1028" font-size="57.5" text-anchor="middle" fill="#111" font-family="Liberation Serif, DejaVu Serif, serif">(a)</text>
<text x="445.6" y="1896" font-size="56" text-anchor="middle" fill="#111" font-family="Liberation Serif, DejaVu Serif, serif">(b)</text>
<text x="1623.5" y="1892" font-size="56" text-anchor="middle" fill="#111" font-family="Liberation Serif, DejaVu Serif, serif">(c)</text>
<clipPath id="cb"><rect x="59.9" y="1152.0" width="753.2" height="596.6"/></clipPath>
<path d="M61.7 1745.6v-8.4M61.7 1155.0v8.4" stroke="#262626" stroke-width="1.6" fill="none"/>
<text x="61.7" y="1779.3" font-size="22" text-anchor="middle" fill="#262626" font-family="Liberation Sans, Arial, sans-serif">0</text>
<path d="M186.4 1745.6v-8.4M186.4 1155.0v8.4" stroke="#262626" stroke-width="1.6" fill="none"/>
<text x="186.4" y="1779.3" font-size="22" text-anchor="middle" fill="#262626" font-family="Liberation Sans, Arial, sans-serif">0.5</text>
<path d="M311.1 1745.6v-8.4M311.1 1155.0v8.4" stroke="#262626" stroke-width="1.6" fill="none"/>
<text x="311.1" y="1779.3" font-size="22" text-anchor="middle" fill="#262626" font-family="Liberation Sans, Arial, sans-serif">1</text>
<path d="M435.8 1745.6v-8.4M435.8 1155.0v8.4" stroke="#262626" stroke-width="1.6" fill="none"/>
<text x="435.8" y="1779.3" font-size="22" text-anchor="middle" fill="#262626" font-family="Liberation Sans, Arial, sans-serif">1.5</text>
<path d="M560.5 1745.6v-8.4M560.5 1155.0v8.4" stroke="#262626" stroke-width="1.6" fill="none"/>
<text x="560.5" y="1779.3" font-size="22" text-anchor="middle" fill="#262626" font-family="Liberation Sans, Arial, sans-serif">2</text>
<path d="M685.2 1745.6v-8.4M685.2 1155.0v8.4" stroke="#262626" stroke-width="1.6" fill="none"/>
<text x="685.2" y="1779.3" font-size="22" text-anchor="middle" fill="#262626" font-family="Liberation Sans, Arial, sans-serif">2.5</text>
<path d="M809.9 1745.6v-8.4M809.9 1155.0v8.4" stroke="#262626" stroke-width="1.6" fill="none"/>
<text x="809.9" y="1779.3" font-size="22" text-anchor="middle" fill="#262626" font-family="Liberation Sans, Arial, sans-serif">3</text>
<path d="M61.7 1745.6h8.4M809.9 1745.6h-8.4" stroke="#262626" stroke-width="1.6" fill="none"/>
<text x="50.6" y="1754.2" font-size="22" text-anchor="end" fill="#262626" font-family="Liberation Sans, Arial, sans-serif">0</text>
<path d="M61.7 1686.5h8.4M809.9 1686.5h-8.4" stroke="#262626" stroke-width="1.6" fill="none"/>
<text x="50.6" y="1695.1" font-size="22" text-anchor="end" fill="#262626" font-family="Liberation Sans, Arial, sans-serif">2</text>
<path d="M61.7 1627.5h8.4M809.9 1627.5h-8.4" stroke="#262626" stroke-width="1.6" fill="none"/>
<text x="50.6" y="1636.1" font-size="22" text-anchor="end" fill="#262626" font-family="Liberation Sans, Arial, sans-serif">4</text>
<path d="M61.7 1568.4h8.4M809.9 1568.4h-8.4" stroke="#262626" stroke-width="1.6" fill="none"/>
<text x="50.6" y="1577.0" font-size="22" text-anchor="end" fill="#262626" font-family="Liberation Sans, Arial, sans-serif">6</text>
<path d="M61.7 1509.4h8.4M809.9 1509.4h-8.4" stroke="#262626" stroke-width="1.6" fill="none"/>
<text x="50.6" y="1518.0" font-size="22" text-anchor="end" fill="#262626" font-family="Liberation Sans, Arial, sans-serif">8</text>
<path d="M61.7 1450.3h8.4M809.9 1450.3h-8.4" stroke="#262626" stroke-width="1.6" fill="none"/>
<text x="50.6" y="1458.9" font-size="22" text-anchor="end" fill="#262626" font-family="Liberation Sans, Arial, sans-serif">10</text>
<path d="M61.7 1391.2h8.4M809.9 1391.2h-8.4" stroke="#262626" stroke-width="1.6" fill="none"/>
<text x="50.6" y="1399.8" font-size="22" text-anchor="end" fill="#262626" font-family="Liberation Sans, Arial, sans-serif">12</text>
<path d="M61.7 1332.2h8.4M809.9 1332.2h-8.4" stroke="#262626" stroke-width="1.6" fill="none"/>
<text x="50.6" y="1340.8" font-size="22" text-anchor="end" fill="#262626" font-family="Liberation Sans, Arial, sans-serif">14</text>
<path d="M61.7 1273.1h8.4M809.9 1273.1h-8.4" stroke="#262626" stroke-width="1.6" fill="none"/>
<text x="50.6" y="1281.7" font-size="22" text-anchor="end" fill="#262626" font-family="Liberation Sans, Arial, sans-serif">16</text>
<path d="M61.7 1214.1h8.4M809.9 1214.1h-8.4" stroke="#262626" stroke-width="1.6" fill="none"/>
<text x="50.6" y="1222.7" font-size="22" text-anchor="end" fill="#262626" font-family="Liberation Sans, Arial, sans-serif">18</text>
<path d="M61.7 1155.0h8.4M809.9 1155.0h-8.4" stroke="#262626" stroke-width="1.6" fill="none"/>
<text x="50.6" y="1163.6" font-size="22" text-anchor="end" fill="#262626" font-family="Liberation Sans, Arial, sans-serif">20</text>
<g>
<polyline clip-path="url(#cb)" points="61.7,1444.7 86.6,1456.2 111.6,1501.7 136.5,1447.3 161.5,1453.3 186.4,1318.6 211.3,1450.3 236.3,1456.2 261.2,1421.1 286.2,1453.3 311.1,1459.2 336.0,1435.5 361.0,1453.3 385.9,1462.1 410.9,1440.0 435.8,1450.3 460.7,1459.2 485.7,1441.4 510.6,1450.3 535.6,1465.4 560.5,1444.4 585.4,1453.3 610.4,1478.6 635.3,1447.3 660.3,1453.3 685.2,1580.5 710.1,1447.3 735.1,1453.3 760.0,1398.0 785.0,1447.3 809.9,1454.4" fill="none" stroke="#0072bd" stroke-width="4.0" stroke-linejoin="round" stroke-linecap="square"/>
<circle cx="61.7" cy="1444.7" r="6" fill="#0072bd"/>
<circle cx="86.6" cy="1456.2" r="6" fill="#0072bd"/>
<circle cx="111.6" cy="1501.7" r="6" fill="#0072bd"/>
<circle cx="136.5" cy="1447.3" r="6" fill="#0072bd"/>
<circle cx="161.5" cy="1453.3" r="6" fill="#0072bd"/>
<circle cx="186.4" cy="1318.6" r="6" fill="#0072bd"/>
<circle cx="211.3" cy="1450.3" r="6" fill="#0072bd"/>
<circle cx="236.3" cy="1456.2" r="6" fill="#0072bd"/>
<circle cx="261.2" cy="1421.1" r="6" fill="#0072bd"/>
<circle cx="286.2" cy="1453.3" r="6" fill="#0072bd"/>
<circle cx="311.1" cy="1459.2" r="6" fill="#0072bd"/>
<circle cx="336.0" cy="1435.5" r="6" fill="#0072bd"/>
<circle cx="361.0" cy="1453.3" r="6" fill="#0072bd"/>
<circle cx="385.9" cy="1462.1" r="6" fill="#0072bd"/>
<circle cx="410.9" cy="1440.0" r="6" fill="#0072bd"/>
<circle cx="435.8" cy="1450.3" r="6" fill="#0072bd"/>
<circle cx="460.7" cy="1459.2" r="6" fill="#0072bd"/>
<circle cx="485.7" cy="1441.4" r="6" fill="#0072bd"/>
<circle cx="510.6" cy="1450.3" r="6" fill="#0072bd"/>
<circle cx="535.6" cy="1465.4" r="6" fill="#0072bd"/>
<circle cx="560.5" cy="1444.4" r="6" fill="#0072bd"/>
<circle cx="585.4" cy="1453.3" r="6" fill="#0072bd"/>
<circle cx="610.4" cy="1478.6" r="6" fill="#0072bd"/>
<circle cx="635.3" cy="1447.3" r="6" fill="#0072bd"/>
<circle cx="660.3" cy="1453.3" r="6" fill="#0072bd"/>
<circle cx="685.2" cy="1580.5" r="6" fill="#0072bd"/>
<circle cx="710.1" cy="1447.3" r="6" fill="#0072bd"/>
<circle cx="735.1" cy="1453.3" r="6" fill="#0072bd"/>
<circle cx="760.0" cy="1398.0" r="6" fill="#0072bd"/>
<circle cx="785.0" cy="1447.3" r="6" fill="#0072bd"/>
<circle cx="809.9" cy="1454.4" r="6" fill="#0072bd"/>
<polyline clip-path="url(#cb)" points="61.7,1431.1 86.6,1447.3 111.6,1456.2 136.5,1442.9 161.5,1450.3 186.4,1463.6 211.3,1445.9 236.3,1451.8 261.2,1505.8 286.2,1447.3 311.1,1453.3 336.0,1420.8 361.0,1448.8 385.9,1456.2 410.9,1440.0 435.8,1450.3 460.7,1459.2 485.7,1444.4 510.6,1451.8 535.6,1479.8 560.5,1447.3 585.4,1453.3 610.4,1392.1 635.3,1447.3 660.3,1454.7 685.2,1435.5 710.1,1450.3 735.1,1457.7 760.0,1444.4 785.0,1451.8 809.9,1468.0" fill="none" stroke="#d95319" stroke-width="7.2" stroke-linejoin="round" stroke-linecap="square"/>
<polyline clip-path="url(#cb)" points="61.7,1439.4 86.6,1450.3 111.6,1459.2 136.5,1445.9 161.5,1454.7 186.4,1465.1 211.3,1448.8 236.3,1454.7 261.2,1592.9 286.2,1450.3 311.1,1456.2 336.0,1427.9 361.0,1451.8 385.9,1457.7 410.9,1441.4 435.8,1451.8 460.7,1462.1 485.7,1445.9 510.6,1453.3 535.6,1476.9 560.5,1448.8 585.4,1454.7 610.4,1310.9 635.3,1450.3 660.3,1456.2 685.2,1435.5 710.1,1450.3 735.1,1459.2 760.0,1444.4 785.0,1453.3 809.9,1465.1" fill="none" stroke="#edb120" stroke-width="7.2" stroke-linejoin="round" stroke-linecap="square"/>
<polyline clip-path="url(#cb)" points="61.7,1493.1 86.6,1459.2 111.6,1466.5 136.5,1437.9 161.5,1463.6 186.4,1471.0 211.3,1454.7 236.3,1465.1 261.2,1482.8 286.2,1459.2 311.1,1466.5 336.0,1383.3 361.0,1462.1 385.9,1469.5 410.9,1451.8 435.8,1462.1 460.7,1473.9 485.7,1457.7 510.6,1465.1 535.6,1542.4 560.5,1462.1 585.4,1468.0 610.4,1447.3 635.3,1460.6 660.3,1472.4 685.2,1457.7 710.1,1465.1 735.1,1488.7 760.0,1462.1 785.0,1466.5 809.9,1432.6" fill="none" stroke="#7e2f8e" stroke-width="7.2" stroke-linejoin="round" stroke-linecap="square"/>
<polyline clip-path="url(#cb)" points="61.7,1479.8 86.6,1460.6 111.6,1468.0 136.5,1372.9 161.5,1465.1 186.4,1471.0 211.3,1454.7 236.3,1465.1 261.2,1479.8 286.2,1460.6 311.1,1468.0 336.0,1183.9 361.0,1463.6 385.9,1471.0 410.9,1453.3 435.8,1465.1 460.7,1476.9 485.7,1459.2 510.6,1466.5 535.6,1746.5 560.5,1463.6 585.4,1469.5 610.4,1453.3 635.3,1465.1 660.3,1475.4 685.2,1459.2 710.1,1466.5 735.1,1558.7 760.0,1463.6 785.0,1469.5 809.9,1453.3" fill="none" stroke="#77ac30" stroke-width="7.2" stroke-linejoin="round" stroke-linecap="square"/>
</g>
<rect x="61.7" y="1155.0" width="748.2" height="590.6" fill="none" stroke="#262626" stroke-width="1.8"/>
<rect x="623.8" y="1157.0" width="184.9" height="141.9" fill="#fff" stroke="#262626" stroke-width="1.6"/>
<line x1="630.6" y1="1174.0" x2="699.6" y2="1174.0" stroke="#0072bd" stroke-width="4.0"/>
<circle cx="665.1" cy="1174.0" r="6" fill="#0072bd"/>
<text x="705.1" y="1182.2" font-size="20.4" fill="#111" font-family="Liberation Sans, Arial, sans-serif">True PDE</text>
<line x1="630.6" y1="1201.1" x2="699.6" y2="1201.1" stroke="#d95319" stroke-width="7.2"/>
<text x="705.1" y="1209.3" font-size="20.4" fill="#111" font-family="Liberation Sans, Arial, sans-serif">0% noise</text>
<line x1="630.6" y1="1228.2" x2="699.6" y2="1228.2" stroke="#edb120" stroke-width="7.2"/>
<text x="705.1" y="1236.4" font-size="20.4" fill="#111" font-family="Liberation Sans, Arial, sans-serif">25% noise</text>
<line x1="630.6" y1="1255.5" x2="699.6" y2="1255.5" stroke="#7e2f8e" stroke-width="7.2"/>
<text x="705.1" y="1263.7" font-size="20.4" fill="#111" font-family="Liberation Sans, Arial, sans-serif">50% noise</text>
<line x1="630.6" y1="1283.0" x2="699.6" y2="1283.0" stroke="#77ac30" stroke-width="7.2"/>
<text x="705.1" y="1291.2" font-size="20.4" fill="#111" font-family="Liberation Sans, Arial, sans-serif">75% noise</text>
<text x="435.8" y="1813.5" font-size="26" text-anchor="middle" fill="#262626" font-family="Liberation Sans, Arial, sans-serif">t</text>
<text transform="translate(14.0,1451.3) rotate(-90)" font-size="27" text-anchor="middle" fill="#262626" font-family="Liberation Sans, Arial, sans-serif">u</text>
<clipPath id="cc"><rect x="1240.2" y="1152.0" width="753.3" height="596.4"/></clipPath>
<path d="M1242.0 1745.4v-8.4M1242.0 1155.0v8.4" stroke="#262626" stroke-width="1.6" fill="none"/>
<text x="1242.0" y="1779.6" font-size="22" text-anchor="middle" fill="#262626" font-family="Liberation Sans, Arial, sans-serif">0</text>
<path d="M1366.7 1745.4v-8.4M1366.7 1155.0v8.4" stroke="#262626" stroke-width="1.6" fill="none"/>
<text x="1366.7" y="1779.6" font-size="22" text-anchor="middle" fill="#262626" font-family="Liberation Sans, Arial, sans-serif">0.5</text>
<path d="M1491.4 1745.4v-8.4M1491.4 1155.0v8.4" stroke="#262626" stroke-width="1.6" fill="none"/>
<text x="1491.4" y="1779.6" font-size="22" text-anchor="middle" fill="#262626" font-family="Liberation Sans, Arial, sans-serif">1</text>
<path d="M1616.1 1745.4v-8.4M1616.1 1155.0v8.4" stroke="#262626" stroke-width="1.6" fill="none"/>
<text x="1616.1" y="1779.6" font-size="22" text-anchor="middle" fill="#262626" font-family="Liberation Sans, Arial, sans-serif">1.5</text>
<path d="M1740.9 1745.4v-8.4M1740.9 1155.0v8.4" stroke="#262626" stroke-width="1.6" fill="none"/>
<text x="1740.9" y="1779.6" font-size="22" text-anchor="middle" fill="#262626" font-family="Liberation Sans, Arial, sans-serif">2</text>
<path d="M1865.6 1745.4v-8.4M1865.6 1155.0v8.4" stroke="#262626" stroke-width="1.6" fill="none"/>
<text x="1865.6" y="1779.6" font-size="22" text-anchor="middle" fill="#262626" font-family="Liberation Sans, Arial, sans-serif">2.5</text>
<path d="M1990.3 1745.4v-8.4M1990.3 1155.0v8.4" stroke="#262626" stroke-width="1.6" fill="none"/>
<text x="1990.3" y="1779.6" font-size="22" text-anchor="middle" fill="#262626" font-family="Liberation Sans, Arial, sans-serif">3</text>
<path d="M1242.0 1745.4h8.4M1990.3 1745.4h-8.4" stroke="#262626" stroke-width="1.6" fill="none"/>
<text x="1231.2" y="1754.0" font-size="22" text-anchor="end" fill="#262626" font-family="Liberation Sans, Arial, sans-serif">-50</text>
<path d="M1242.0 1661.1h8.4M1990.3 1661.1h-8.4" stroke="#262626" stroke-width="1.6" fill="none"/>
<text x="1231.2" y="1669.7" font-size="22" text-anchor="end" fill="#262626" font-family="Liberation Sans, Arial, sans-serif">0</text>
<path d="M1242.0 1576.7h8.4M1990.3 1576.7h-8.4" stroke="#262626" stroke-width="1.6" fill="none"/>
<text x="1231.2" y="1585.3" font-size="22" text-anchor="end" fill="#262626" font-family="Liberation Sans, Arial, sans-serif">50</text>
<path d="M1242.0 1492.4h8.4M1990.3 1492.4h-8.4" stroke="#262626" stroke-width="1.6" fill="none"/>
<text x="1231.2" y="1501.0" font-size="22" text-anchor="end" fill="#262626" font-family="Liberation Sans, Arial, sans-serif">100</text>
<path d="M1242.0 1408.0h8.4M1990.3 1408.0h-8.4" stroke="#262626" stroke-width="1.6" fill="none"/>
<text x="1231.2" y="1416.6" font-size="22" text-anchor="end" fill="#262626" font-family="Liberation Sans, Arial, sans-serif">150</text>
<path d="M1242.0 1323.7h8.4M1990.3 1323.7h-8.4" stroke="#262626" stroke-width="1.6" fill="none"/>
<text x="1231.2" y="1332.3" font-size="22" text-anchor="end" fill="#262626" font-family="Liberation Sans, Arial, sans-serif">200</text>
<path d="M1242.0 1239.3h8.4M1990.3 1239.3h-8.4" stroke="#262626" stroke-width="1.6" fill="none"/>
<text x="1231.2" y="1247.9" font-size="22" text-anchor="end" fill="#262626" font-family="Liberation Sans, Arial, sans-serif">250</text>
<path d="M1242.0 1155.0h8.4M1990.3 1155.0h-8.4" stroke="#262626" stroke-width="1.6" fill="none"/>
<text x="1231.2" y="1163.6" font-size="22" text-anchor="end" fill="#262626" font-family="Liberation Sans, Arial, sans-serif">300</text>
<g>
<polyline clip-path="url(#cc)" points="1242.0,1643.9 1266.9,1644.5 1291.9,1647.1 1316.8,1644.0 1341.8,1644.4 1366.7,1636.7 1391.7,1644.2 1416.6,1644.5 1441.5,1642.5 1466.5,1644.4 1491.4,1644.7 1516.4,1643.3 1541.3,1644.4 1566.3,1644.9 1591.2,1643.6 1616.1,1644.2 1641.1,1644.7 1666.0,1643.7 1691.0,1644.2 1715.9,1645.0 1740.9,1643.9 1765.8,1644.4 1790.8,1645.8 1815.7,1644.0 1840.6,1644.4 1865.6,1651.6 1890.5,1644.0 1915.5,1644.4 1940.4,1641.2 1965.4,1644.0 1990.3,1644.4" fill="none" stroke="#0072bd" stroke-width="4.0" stroke-linejoin="round" stroke-linecap="square"/>
<circle cx="1242.0" cy="1643.9" r="6" fill="#0072bd"/>
<circle cx="1266.9" cy="1644.5" r="6" fill="#0072bd"/>
<circle cx="1291.9" cy="1647.1" r="6" fill="#0072bd"/>
<circle cx="1316.8" cy="1644.0" r="6" fill="#0072bd"/>
<circle cx="1341.8" cy="1644.4" r="6" fill="#0072bd"/>
<circle cx="1366.7" cy="1636.7" r="6" fill="#0072bd"/>
<circle cx="1391.7" cy="1644.2" r="6" fill="#0072bd"/>
<circle cx="1416.6" cy="1644.5" r="6" fill="#0072bd"/>
<circle cx="1441.5" cy="1642.5" r="6" fill="#0072bd"/>
<circle cx="1466.5" cy="1644.4" r="6" fill="#0072bd"/>
<circle cx="1491.4" cy="1644.7" r="6" fill="#0072bd"/>
<circle cx="1516.4" cy="1643.3" r="6" fill="#0072bd"/>
<circle cx="1541.3" cy="1644.4" r="6" fill="#0072bd"/>
<circle cx="1566.3" cy="1644.9" r="6" fill="#0072bd"/>
<circle cx="1591.2" cy="1643.6" r="6" fill="#0072bd"/>
<circle cx="1616.1" cy="1644.2" r="6" fill="#0072bd"/>
<circle cx="1641.1" cy="1644.7" r="6" fill="#0072bd"/>
<circle cx="1666.0" cy="1643.7" r="6" fill="#0072bd"/>
<circle cx="1691.0" cy="1644.2" r="6" fill="#0072bd"/>
<circle cx="1715.9" cy="1645.0" r="6" fill="#0072bd"/>
<circle cx="1740.9" cy="1643.9" r="6" fill="#0072bd"/>
<circle cx="1765.8" cy="1644.4" r="6" fill="#0072bd"/>
<circle cx="1790.8" cy="1645.8" r="6" fill="#0072bd"/>
<circle cx="1815.7" cy="1644.0" r="6" fill="#0072bd"/>
<circle cx="1840.6" cy="1644.4" r="6" fill="#0072bd"/>
<circle cx="1865.6" cy="1651.6" r="6" fill="#0072bd"/>
<circle cx="1890.5" cy="1644.0" r="6" fill="#0072bd"/>
<circle cx="1915.5" cy="1644.4" r="6" fill="#0072bd"/>
<circle cx="1940.4" cy="1641.2" r="6" fill="#0072bd"/>
<circle cx="1965.4" cy="1644.0" r="6" fill="#0072bd"/>
<circle cx="1990.3" cy="1644.4" r="6" fill="#0072bd"/>
<polyline clip-path="url(#cc)" points="1242.0,1643.1 1266.9,1644.0 1291.9,1644.5 1316.8,1643.8 1341.8,1644.2 1366.7,1644.9 1391.7,1643.9 1416.6,1644.3 1441.5,1647.4 1466.5,1644.0 1491.4,1644.4 1516.4,1642.5 1541.3,1644.1 1566.3,1644.5 1591.2,1643.6 1616.1,1644.2 1641.1,1644.7 1666.0,1643.9 1691.0,1644.3 1715.9,1645.9 1740.9,1644.0 1765.8,1644.4 1790.8,1640.9 1815.7,1644.0 1840.6,1644.4 1865.6,1643.3 1890.5,1644.2 1915.5,1644.6 1940.4,1643.9 1965.4,1644.3 1990.3,1645.2" fill="none" stroke="#d95319" stroke-width="7.2" stroke-linejoin="round" stroke-linecap="square"/>
<polyline clip-path="url(#cc)" points="1242.0,1643.6 1266.9,1644.2 1291.9,1644.7 1316.8,1643.9 1341.8,1644.4 1366.7,1645.0 1391.7,1644.1 1416.6,1644.4 1441.5,1652.3 1466.5,1644.2 1491.4,1644.5 1516.4,1642.9 1541.3,1644.3 1566.3,1644.6 1591.2,1643.7 1616.1,1644.3 1641.1,1644.9 1666.0,1643.9 1691.0,1644.4 1715.9,1645.7 1740.9,1644.1 1765.8,1644.4 1790.8,1636.2 1815.7,1644.2 1840.6,1644.5 1865.6,1643.3 1890.5,1644.2 1915.5,1644.7 1940.4,1643.9 1965.4,1644.4 1990.3,1645.0" fill="none" stroke="#edb120" stroke-width="7.2" stroke-linejoin="round" stroke-linecap="square"/>
<polyline clip-path="url(#cc)" points="1242.0,1646.6 1266.9,1644.7 1291.9,1645.1 1316.8,1643.5 1341.8,1644.9 1366.7,1645.4 1391.7,1644.4 1416.6,1645.0 1441.5,1646.0 1466.5,1644.7 1491.4,1645.1 1516.4,1640.4 1541.3,1644.9 1566.3,1645.3 1591.2,1644.3 1616.1,1644.9 1641.1,1645.5 1666.0,1644.6 1691.0,1645.0 1715.9,1649.5 1740.9,1644.9 1765.8,1645.2 1790.8,1644.0 1815.7,1644.8 1840.6,1645.5 1865.6,1644.6 1890.5,1645.0 1915.5,1646.4 1940.4,1644.9 1965.4,1645.1 1990.3,1643.2" fill="none" stroke="#7e2f8e" stroke-width="7.2" stroke-linejoin="round" stroke-linecap="square"/>
<polyline clip-path="url(#cc)" points="1242.0,1645.9 1266.9,1644.8 1291.9,1645.2 1316.8,1639.8 1341.8,1645.0 1366.7,1645.4 1391.7,1644.4 1416.6,1645.0 1441.5,1645.9 1466.5,1644.8 1491.4,1645.2 1516.4,1629.0 1541.3,1644.9 1566.3,1645.4 1591.2,1644.4 1616.1,1645.0 1641.1,1645.7 1666.0,1644.7 1691.0,1645.1 1715.9,1661.1 1740.9,1644.9 1765.8,1645.3 1790.8,1644.4 1815.7,1645.0 1840.6,1645.6 1865.6,1644.7 1890.5,1645.1 1915.5,1650.4 1940.4,1644.9 1965.4,1645.3 1990.3,1644.4" fill="none" stroke="#77ac30" stroke-width="7.2" stroke-linejoin="round" stroke-linecap="square"/>
<polyline clip-path="url(#cc)" points="1242.0,1232.4 1266.9,1232.9 1291.9,1233.3 1316.8,1233.8 1341.8,1234.3 1366.7,1234.7 1391.7,1235.2 1416.6,1235.7 1441.5,1236.1 1466.5,1236.6 1491.4,1237.0 1516.4,1237.5 1541.3,1238.0 1566.3,1238.4 1591.2,1238.9 1616.1,1239.3 1641.1,1239.8 1666.0,1240.3 1691.0,1240.7 1715.9,1241.2 1740.9,1241.6 1765.8,1242.1 1790.8,1242.6 1815.7,1243.0 1840.6,1243.5 1865.6,1244.0 1890.5,1244.4 1915.5,1244.9 1940.4,1245.3 1965.4,1245.8 1990.3,1246.3" fill="none" stroke="#4dbeee" stroke-width="7.2" stroke-linejoin="round" stroke-linecap="square"/>
</g>
<rect x="1242.0" y="1155.0" width="748.3" height="590.4" fill="none" stroke="#262626" stroke-width="1.8"/>
<rect x="1786.8" y="1298.9" width="196.5" height="169.7" fill="#fff" stroke="#262626" stroke-width="1.6"/>
<line x1="1793.6" y1="1315.4" x2="1862.6" y2="1315.4" stroke="#0072bd" stroke-width="4.0"/>
<circle cx="1828.1" cy="1315.4" r="6" fill="#0072bd"/>
<text x="1868.2" y="1323.6" font-size="20.4" fill="#111" font-family="Liberation Sans, Arial, sans-serif">True PDE</text>
<line x1="1793.6" y1="1342.7" x2="1862.6" y2="1342.7" stroke="#d95319" stroke-width="7.2"/>
<text x="1868.2" y="1350.9" font-size="20.4" fill="#111" font-family="Liberation Sans, Arial, sans-serif">0% noise</text>
<line x1="1793.6" y1="1370.1" x2="1862.6" y2="1370.1" stroke="#edb120" stroke-width="7.2"/>
<text x="1868.2" y="1378.3" font-size="20.4" fill="#111" font-family="Liberation Sans, Arial, sans-serif">25% noise</text>
<line x1="1793.6" y1="1397.3" x2="1862.6" y2="1397.3" stroke="#7e2f8e" stroke-width="7.2"/>
<text x="1868.2" y="1405.5" font-size="20.4" fill="#111" font-family="Liberation Sans, Arial, sans-serif">50% noise</text>
<line x1="1793.6" y1="1424.6" x2="1862.6" y2="1424.6" stroke="#77ac30" stroke-width="7.2"/>
<text x="1868.2" y="1432.8" font-size="20.4" fill="#111" font-family="Liberation Sans, Arial, sans-serif">75% noise</text>
<line x1="1793.6" y1="1452.1" x2="1862.6" y2="1452.1" stroke="#4dbeee" stroke-width="7.2"/>
<text x="1868.2" y="1460.3" font-size="20.4" fill="#111" font-family="Liberation Sans, Arial, sans-serif">100% noise</text>
<text x="1616.2" y="1814.0" font-size="26" text-anchor="middle" fill="#262626" font-family="Liberation Sans, Arial, sans-serif">t</text>
<text transform="translate(1181.9,1451.0) rotate(-90)" font-size="27" text-anchor="middle" fill="#262626" font-family="Liberation Sans, Arial, sans-serif">u</text>
</svg>
</body></html>
